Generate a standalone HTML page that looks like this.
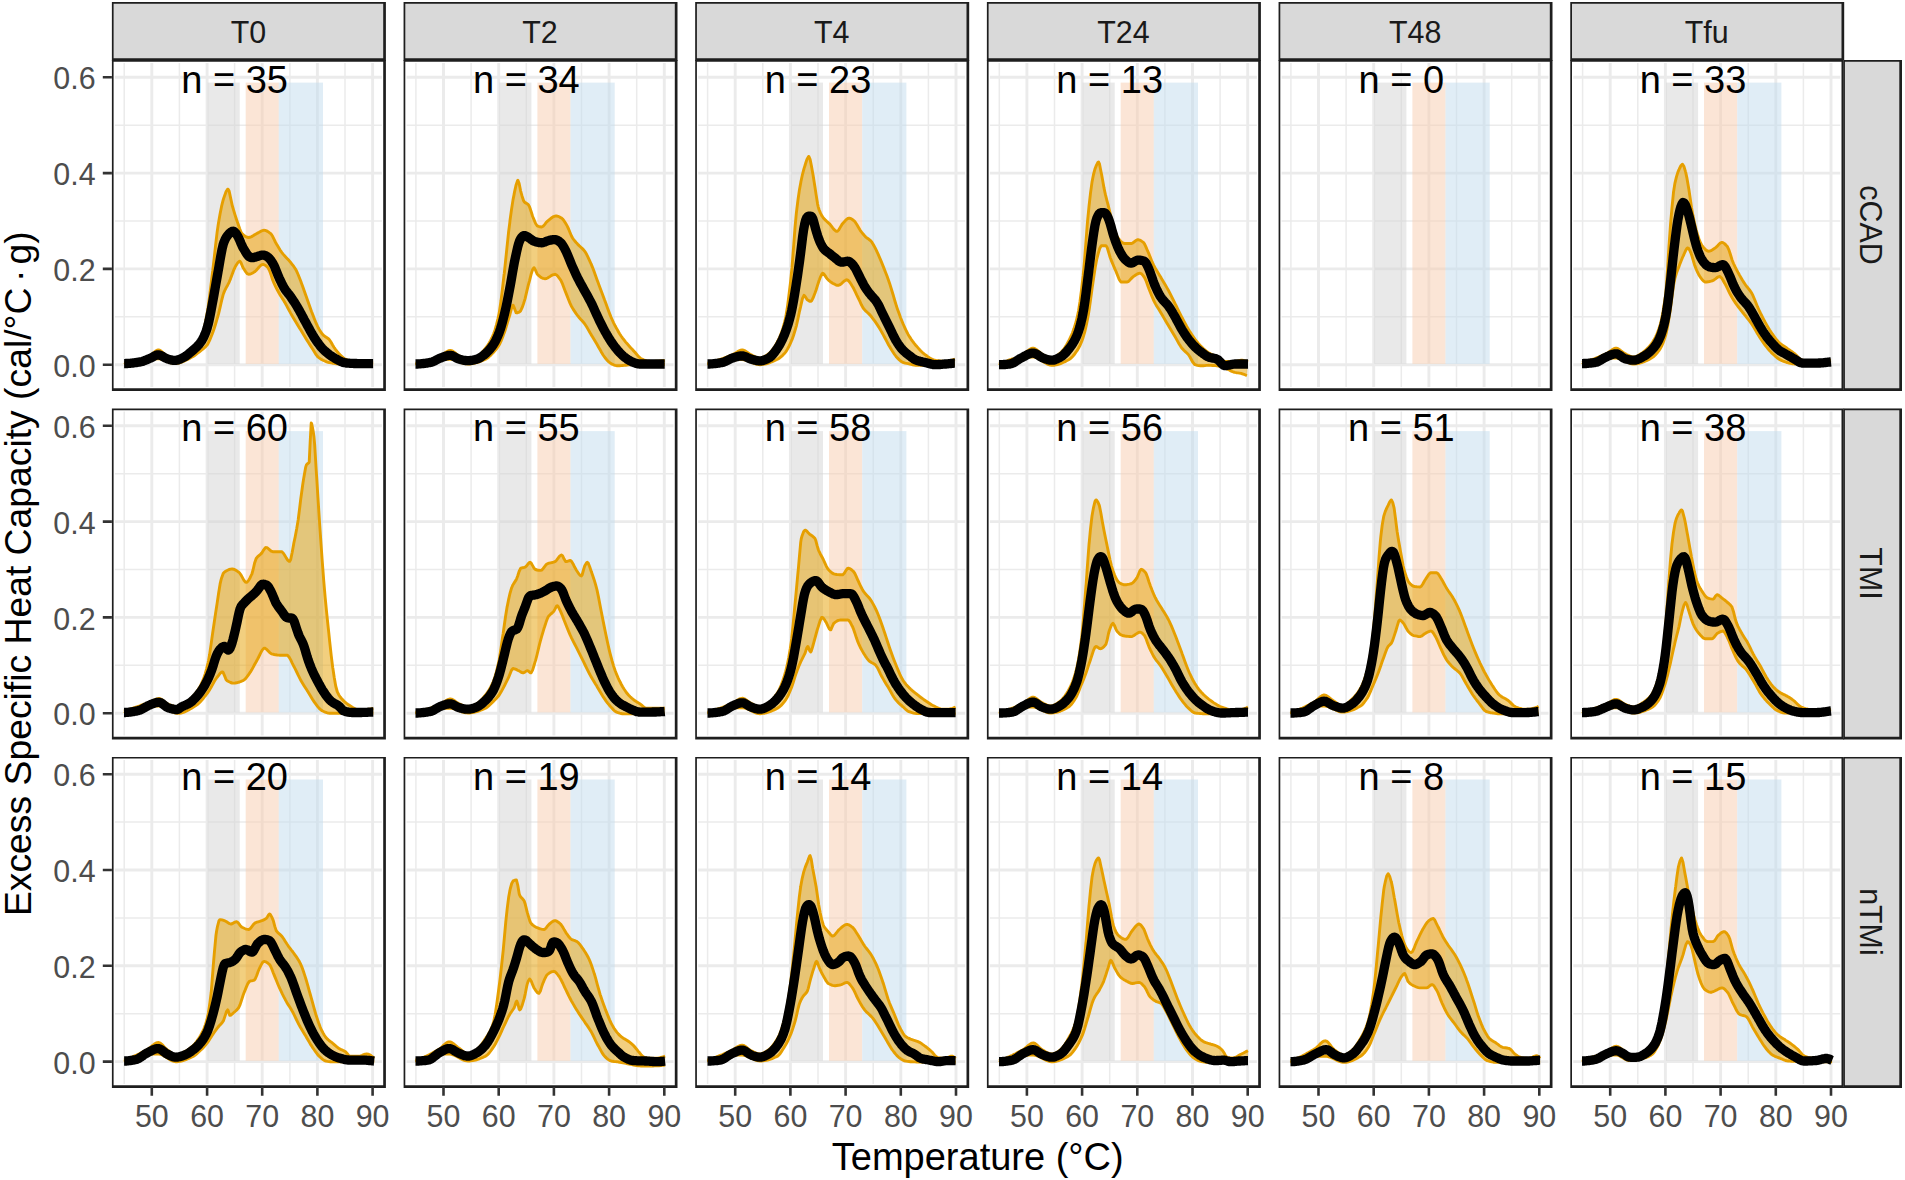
<!DOCTYPE html>
<html lang="en">
<head>
<meta charset="utf-8">
<title>Excess Specific Heat Capacity vs Temperature</title>
<style>html,body{margin:0;padding:0;background:#fff;}svg{display:block;}</style>
</head>
<body>
<svg width="1905" height="1180" viewBox="0 0 1905 1180">
<rect x="0" y="0" width="1905" height="1180" fill="#ffffff"/>
<g>
<path d="M114.9 316.8H381.9M114.9 221H381.9M114.9 125.2H381.9M124.2 63V387M179.4 63V387M234.6 63V387M289.9 63V387M345 63V387" stroke="#EBEBEB" stroke-width="1.5" fill="none"/>
<path d="M114.9 364.7H381.9M114.9 268.9H381.9M114.9 173.1H381.9M114.9 77.3H381.9M151.8 63V387M207.1 63V387M262.2 63V387M317.4 63V387M372.6 63V387" stroke="#EBEBEB" stroke-width="2.9" fill="none"/>
<rect x="207.6" y="82.6" width="32.1" height="281.3" fill="rgba(211,211,211,0.5)"/>
<rect x="245.7" y="82.6" width="33.1" height="281.3" fill="rgba(248,203,173,0.5)"/>
<rect x="278.8" y="82.6" width="44.2" height="281.3" fill="rgba(193,220,238,0.5)"/>
<polygon points="124.1,362.7 125.6,362.7 127.1,362.6 128.6,362.5 130.1,362.3 131.6,362.1 133.1,361.9 134.6,361.6 136.1,361.3 137.6,361 139.1,360.6 140.6,360.3 140.6,360.3 142.1,359.8 143.6,359.2 145.1,358.4 146.6,357.6 148.1,356.7 149.6,355.8 150.6,355.2 151.1,354.8 152.6,353.6 154.1,352.3 155.6,351 157.1,350.2 158.3,349.9 158.6,349.9 160.1,350.4 161.6,351.5 163.1,352.8 164.6,354.1 166.1,355.3 167.1,355.9 167.6,356.1 169.1,356.9 170.6,357.6 172.1,358.2 173.6,358.6 174.8,358.7 175.1,358.7 176.6,358.5 178.1,358 179.6,357.4 181.1,356.6 182.5,355.9 182.6,355.8 184.1,354.9 185.6,353.6 187.1,352.2 188.6,350.8 190.1,349.4 190.2,349.3 191.6,348.1 193.1,346.9 194.6,345.8 196.1,344.5 197.6,343.1 199.1,341.4 200.6,339.3 201.2,338.2 202.1,336.3 203.6,331 205.1,324 206.6,316 207.2,312.9 208.1,307.3 209.6,296.3 211.1,284 212.6,271.7 212.7,271 214.1,258.8 215.6,245.1 217.1,232.4 218.2,224.8 218.6,222.3 220.1,213.7 221.6,206.2 223.1,200.2 223.7,198.3 224.6,195.7 226.1,191.6 227.6,189.2 228.1,189.1 229.1,190.9 230.6,197.9 232.1,204.9 232.1,205 233.6,210.2 235.1,215.1 236.6,219.7 237.6,222.6 238.1,224 239.6,228.5 241.1,232.2 242,233.6 242.6,234.2 244.1,235.5 245.6,236.6 247.1,237.3 248.6,237.5 250.1,237.3 251.6,236.6 253.1,235.8 254.6,234.8 256.1,233.9 256.8,233.6 257.6,233.1 259.1,232.3 260.6,231.4 262.1,230.7 263.6,230.3 264,230.3 265.1,230.4 266.6,230.9 268.1,231.7 269.6,232.8 270.7,233.6 271.1,234 272.6,236.3 274.1,239.4 275.6,242.5 276.2,243.5 277.1,245.1 278.6,247.6 280.1,250.1 281.6,252.2 281.7,252.3 283.1,254.1 284.6,255.8 286.1,257.4 287.6,259 289.1,260.6 290.5,262.2 290.6,262.4 292.1,264.3 293.6,266.2 295.1,268.5 296,269.9 296.6,271.1 298.1,274.5 299.6,278.3 301.1,282 301.1,282.2 302.6,286.2 304.1,290.5 305.6,294.8 306.6,297.5 307.1,299 308.6,303.3 310.1,307.6 311.6,311.7 312.1,312.9 313.1,315.6 314.6,319.5 316.1,323.2 317.6,326.4 318,327.2 319.1,329.2 320.6,331.7 322.1,333.8 323.1,334.9 323.6,335.4 325.1,336.5 326.6,337.5 328.1,338.5 329.1,339.3 329.6,340 331.1,342.3 332.6,345 334.1,347.5 334.6,348.2 335.6,349.6 337.1,351.5 338.6,353.3 340.1,354.8 340.1,354.8 341.6,356.2 343.1,357.6 344.6,358.7 345.6,359.2 346.1,359.4 347.6,360.1 349.1,360.6 350.6,361.1 352.1,361.5 353.6,361.8 354.4,361.8 355.1,361.9 356.6,361.9 358.1,362 359.6,362 361.1,362.1 362.6,362.1 364.1,362.2 365.6,362.2 367.1,362.2 368.6,362.2 370.1,362.3 371.6,362.3 373.1,362.3 373.1,364.5 371.6,364.5 370.1,364.5 368.6,364.5 367.1,364.5 365.6,364.4 364.1,364.4 362.6,364.4 361.1,364.4 359.6,364.4 358.1,364.4 356.6,364.4 355.1,364.3 353.6,364.3 352.1,364.3 350.6,364.3 349.1,364.2 347.6,364.2 346.1,364.2 344.6,364.1 343.1,364.1 341.6,364.1 340.1,364 340.1,364 338.6,364 337.1,363.8 335.6,363.7 334.1,363.4 332.6,363.2 331.1,362.9 329.6,362.6 329.1,362.5 328.1,362.3 326.6,361.8 325.1,361.2 323.6,360.5 323.1,360.3 322.1,359.8 320.6,358.9 319.1,357.9 318,357 317.6,356.6 316.1,354.7 314.6,352.3 313.1,349.8 312.1,348.2 311.6,347.4 310.1,345.1 308.6,342.8 307.1,340.4 305.6,337.9 304.1,335.5 302.6,333.1 301.1,330.6 301.1,330.5 299.6,328.2 298.1,325.7 296.6,323.3 295.1,320.8 293.6,318.3 292.1,315.7 290.6,313.1 290.5,312.9 289.1,310.4 287.6,307.6 286.1,304.7 284.6,302 284.5,301.9 283.1,299.6 281.6,297.3 280.1,294.9 279,293.1 278.6,292.3 277.1,289.5 275.6,286.6 274.1,283.4 273.5,282 272.6,279.7 271.1,275.1 269.6,270.8 268.1,267.8 268,267.7 266.6,266.4 265.1,265.2 263.6,264.5 262.9,264.4 262.1,264.6 260.6,265.5 259.1,267 257.6,268.8 256.1,270.5 254.6,271.8 254.1,272.1 253.1,272.7 251.6,273.5 250.1,274.1 248.6,274.3 247.1,273.6 245.6,271.7 244.1,269.3 243.1,267.7 242.6,266.8 241.1,262.9 239.8,261.1 239.6,261.1 238.1,262.3 236.6,264.5 235.4,266.6 235.1,267.1 233.6,270.4 232.1,274.4 230.6,278.6 229.2,282 229.1,282.3 227.6,285.2 226.1,287.9 224.6,290.9 223.7,293.1 223.1,294.9 221.6,300.6 220.1,307.3 218.6,313.6 218.2,315.1 217.1,318.9 215.6,324 214.1,328.8 212.7,332.7 212.6,332.9 211.1,336.8 209.6,340.4 208.1,343.4 207.2,344.9 206.6,345.6 205.1,347.2 203.6,348.5 202.1,349.7 201.2,350.4 200.6,350.9 199.1,352.1 197.6,353.2 196.1,354.4 194.6,355.5 193.1,356.5 191.6,357.3 190.2,358.1 190.1,358.1 188.6,358.9 187.1,359.6 185.6,360.3 184.1,361.1 182.6,361.7 181.1,362.3 179.6,362.8 178.1,363.2 176.6,363.5 175.1,363.6 174.8,363.6 173.6,363.5 172.1,363.2 170.6,362.8 169.1,362.3 167.6,361.6 166.1,361 164.6,360.3 163.1,359.7 161.6,359.3 160.1,358.9 158.6,358.7 158.3,358.7 157.1,358.7 155.6,358.7 154.1,358.8 152.6,358.8 151.1,358.8 149.6,358.9 148.1,358.9 146.6,359 145.1,359.1 143.6,359.3 142.1,359.4 140.6,359.6 139.1,359.9 137.6,360.1 136.1,360.4 134.6,360.8 133.1,361.1 131.6,361.6 130.1,362 128.6,362.6 127.1,363.1 125.6,363.8 124.1,364.5" fill="#E69F00" fill-opacity="0.5" stroke="none"/>
<polyline points="124.1,362.7 125.6,362.7 127.1,362.6 128.6,362.5 130.1,362.3 131.6,362.1 133.1,361.9 134.6,361.6 136.1,361.3 137.6,361 139.1,360.6 140.6,360.3 140.6,360.3 142.1,359.8 143.6,359.2 145.1,358.4 146.6,357.6 148.1,356.7 149.6,355.8 150.6,355.2 151.1,354.8 152.6,353.6 154.1,352.3 155.6,351 157.1,350.2 158.3,349.9 158.6,349.9 160.1,350.4 161.6,351.5 163.1,352.8 164.6,354.1 166.1,355.3 167.1,355.9 167.6,356.1 169.1,356.9 170.6,357.6 172.1,358.2 173.6,358.6 174.8,358.7 175.1,358.7 176.6,358.5 178.1,358 179.6,357.4 181.1,356.6 182.5,355.9 182.6,355.8 184.1,354.9 185.6,353.6 187.1,352.2 188.6,350.8 190.1,349.4 190.2,349.3 191.6,348.1 193.1,346.9 194.6,345.8 196.1,344.5 197.6,343.1 199.1,341.4 200.6,339.3 201.2,338.2 202.1,336.3 203.6,331 205.1,324 206.6,316 207.2,312.9 208.1,307.3 209.6,296.3 211.1,284 212.6,271.7 212.7,271 214.1,258.8 215.6,245.1 217.1,232.4 218.2,224.8 218.6,222.3 220.1,213.7 221.6,206.2 223.1,200.2 223.7,198.3 224.6,195.7 226.1,191.6 227.6,189.2 228.1,189.1 229.1,190.9 230.6,197.9 232.1,204.9 232.1,205 233.6,210.2 235.1,215.1 236.6,219.7 237.6,222.6 238.1,224 239.6,228.5 241.1,232.2 242,233.6 242.6,234.2 244.1,235.5 245.6,236.6 247.1,237.3 248.6,237.5 250.1,237.3 251.6,236.6 253.1,235.8 254.6,234.8 256.1,233.9 256.8,233.6 257.6,233.1 259.1,232.3 260.6,231.4 262.1,230.7 263.6,230.3 264,230.3 265.1,230.4 266.6,230.9 268.1,231.7 269.6,232.8 270.7,233.6 271.1,234 272.6,236.3 274.1,239.4 275.6,242.5 276.2,243.5 277.1,245.1 278.6,247.6 280.1,250.1 281.6,252.2 281.7,252.3 283.1,254.1 284.6,255.8 286.1,257.4 287.6,259 289.1,260.6 290.5,262.2 290.6,262.4 292.1,264.3 293.6,266.2 295.1,268.5 296,269.9 296.6,271.1 298.1,274.5 299.6,278.3 301.1,282 301.1,282.2 302.6,286.2 304.1,290.5 305.6,294.8 306.6,297.5 307.1,299 308.6,303.3 310.1,307.6 311.6,311.7 312.1,312.9 313.1,315.6 314.6,319.5 316.1,323.2 317.6,326.4 318,327.2 319.1,329.2 320.6,331.7 322.1,333.8 323.1,334.9 323.6,335.4 325.1,336.5 326.6,337.5 328.1,338.5 329.1,339.3 329.6,340 331.1,342.3 332.6,345 334.1,347.5 334.6,348.2 335.6,349.6 337.1,351.5 338.6,353.3 340.1,354.8 340.1,354.8 341.6,356.2 343.1,357.6 344.6,358.7 345.6,359.2 346.1,359.4 347.6,360.1 349.1,360.6 350.6,361.1 352.1,361.5 353.6,361.8 354.4,361.8 355.1,361.9 356.6,361.9 358.1,362 359.6,362 361.1,362.1 362.6,362.1 364.1,362.2 365.6,362.2 367.1,362.2 368.6,362.2 370.1,362.3 371.6,362.3 373.1,362.3" fill="none" stroke="#E69F00" stroke-width="2.9" stroke-linejoin="round"/>
<polyline points="124.1,364.5 125.6,363.8 127.1,363.1 128.6,362.6 130.1,362 131.6,361.6 133.1,361.1 134.6,360.8 136.1,360.4 137.6,360.1 139.1,359.9 140.6,359.6 142.1,359.4 143.6,359.3 145.1,359.1 146.6,359 148.1,358.9 149.6,358.9 151.1,358.8 152.6,358.8 154.1,358.8 155.6,358.7 157.1,358.7 158.3,358.7 158.6,358.7 160.1,358.9 161.6,359.3 163.1,359.7 164.6,360.3 166.1,361 167.6,361.6 169.1,362.3 170.6,362.8 172.1,363.2 173.6,363.5 174.8,363.6 175.1,363.6 176.6,363.5 178.1,363.2 179.6,362.8 181.1,362.3 182.6,361.7 184.1,361.1 185.6,360.3 187.1,359.6 188.6,358.9 190.1,358.1 190.2,358.1 191.6,357.3 193.1,356.5 194.6,355.5 196.1,354.4 197.6,353.2 199.1,352.1 200.6,350.9 201.2,350.4 202.1,349.7 203.6,348.5 205.1,347.2 206.6,345.6 207.2,344.9 208.1,343.4 209.6,340.4 211.1,336.8 212.6,332.9 212.7,332.7 214.1,328.8 215.6,324 217.1,318.9 218.2,315.1 218.6,313.6 220.1,307.3 221.6,300.6 223.1,294.9 223.7,293.1 224.6,290.9 226.1,287.9 227.6,285.2 229.1,282.3 229.2,282 230.6,278.6 232.1,274.4 233.6,270.4 235.1,267.1 235.4,266.6 236.6,264.5 238.1,262.3 239.6,261.1 239.8,261.1 241.1,262.9 242.6,266.8 243.1,267.7 244.1,269.3 245.6,271.7 247.1,273.6 248.6,274.3 250.1,274.1 251.6,273.5 253.1,272.7 254.1,272.1 254.6,271.8 256.1,270.5 257.6,268.8 259.1,267 260.6,265.5 262.1,264.6 262.9,264.4 263.6,264.5 265.1,265.2 266.6,266.4 268,267.7 268.1,267.8 269.6,270.8 271.1,275.1 272.6,279.7 273.5,282 274.1,283.4 275.6,286.6 277.1,289.5 278.6,292.3 279,293.1 280.1,294.9 281.6,297.3 283.1,299.6 284.5,301.9 284.6,302 286.1,304.7 287.6,307.6 289.1,310.4 290.5,312.9 290.6,313.1 292.1,315.7 293.6,318.3 295.1,320.8 296.6,323.3 298.1,325.7 299.6,328.2 301.1,330.5 301.1,330.6 302.6,333.1 304.1,335.5 305.6,337.9 307.1,340.4 308.6,342.8 310.1,345.1 311.6,347.4 312.1,348.2 313.1,349.8 314.6,352.3 316.1,354.7 317.6,356.6 318,357 319.1,357.9 320.6,358.9 322.1,359.8 323.1,360.3 323.6,360.5 325.1,361.2 326.6,361.8 328.1,362.3 329.1,362.5 329.6,362.6 331.1,362.9 332.6,363.2 334.1,363.4 335.6,363.7 337.1,363.8 338.6,364 340.1,364 340.1,364 341.6,364.1 343.1,364.1 344.6,364.1 346.1,364.2 347.6,364.2 349.1,364.2 350.6,364.3 352.1,364.3 353.6,364.3 355.1,364.3 356.6,364.4 358.1,364.4 359.6,364.4 361.1,364.4 362.6,364.4 364.1,364.4 365.6,364.4 367.1,364.5 368.6,364.5 370.1,364.5 371.6,364.5 373.1,364.5" fill="none" stroke="#E69F00" stroke-width="2.9" stroke-linejoin="round"/>
<polyline points="124.1,363.6 125.1,363.6 126.1,363.5 127.1,363.5 128.1,363.4 129.1,363.4 130.1,363.3 131.1,363.2 132.1,363.1 133.1,363 134.1,362.8 135.1,362.7 136.1,362.6 137.1,362.4 138.1,362.2 139.1,362.1 140.1,361.9 141.1,361.7 142.1,361.5 143.1,361.2 144.1,360.8 145.1,360.4 146.1,360 147.1,359.6 148.1,359.1 149.1,358.7 150.1,358.3 151.1,357.8 152.1,357.3 153.1,356.8 154.1,356.2 155.1,355.7 156.1,355.3 157.1,355 158.1,354.9 159.1,354.9 160.1,355.2 161.1,355.6 162.1,356.1 163.1,356.7 164.1,357.3 165.1,357.8 166.1,358.3 167.1,358.7 168.1,359.1 169.1,359.4 170.1,359.7 171.1,359.9 172.1,360.2 173.1,360.3 174.1,360.4 175.1,360.4 176.1,360.3 177.1,360.1 178.1,359.9 179.1,359.5 180.1,359.1 181.1,358.7 182.1,358.2 183.1,357.7 184.1,357.2 185.1,356.6 186.1,355.9 187.1,355.1 188.1,354.3 189.1,353.5 190.1,352.7 191.1,351.8 192.1,351 193.1,350.2 194.1,349.3 195.1,348.4 196.1,347.5 197.1,346.5 198.1,345.4 199.1,344.3 200.1,343 201.1,341.6 202.1,340.1 203.1,338.3 204.1,336.2 205.1,333.9 206.1,331.3 207.1,328.2 208.1,324.6 209.1,320.4 210.1,315.5 211.1,310.3 212.1,305 213.1,299.6 214.1,294.1 215.1,288.5 216.1,282.8 217.1,277.1 218.1,271.5 219.1,265.7 220.1,259.8 221.1,254.1 222.1,249 223.1,244.8 224.1,241.8 225.1,239.5 226.1,237.6 227.1,236.1 228.1,234.8 229.1,233.7 230.1,232.8 231.1,232 232.1,231.4 233.1,231.2 234.1,231.5 235.1,232.4 236.1,233.6 237.1,235.1 238.1,236.8 239.1,238.9 240.1,241.2 241.1,243.6 242.1,245.8 243.1,247.8 244.1,249.5 245.1,251.2 246.1,252.8 247.1,254.3 248.1,255.6 249.1,256.6 250.1,257.3 251.1,257.6 252.1,257.7 253.1,257.6 254.1,257.4 255.1,257.1 256.1,256.9 257.1,256.6 258.1,256.3 259.1,255.9 260.1,255.6 261.1,255.3 262.1,255.1 263.1,255.1 264.1,255.2 265.1,255.5 266.1,256 267.1,256.6 268.1,257.3 269.1,258.2 270.1,259.3 271.1,260.6 272.1,262.2 273.1,263.8 274.1,265.7 275.1,267.9 276.1,270.4 277.1,272.9 278.1,275.4 279.1,277.8 280.1,280 281.1,282.1 282.1,284.2 283.1,286.1 284.1,287.9 285.1,289.5 286.1,290.9 287.1,292.1 288.1,293.4 289.1,294.6 290.1,295.9 291.1,297.3 292.1,298.8 293.1,300.3 294.1,301.8 295.1,303.4 296.1,305 297.1,306.7 298.1,308.4 299.1,310.1 300.1,311.9 301.1,313.7 302.1,315.6 303.1,317.5 304.1,319.4 305.1,321.2 306.1,323.1 307.1,324.9 308.1,326.7 309.1,328.6 310.1,330.4 311.1,332.2 312.1,334 313.1,335.6 314.1,337.3 315.1,338.8 316.1,340.3 317.1,341.8 318.1,343.2 319.1,344.5 320.1,345.8 321.1,347.1 322.1,348.2 323.1,349.2 324.1,350.2 325.1,351.2 326.1,352 327.1,352.9 328.1,353.7 329.1,354.5 330.1,355.2 331.1,355.9 332.1,356.6 333.1,357.2 334.1,357.8 335.1,358.4 336.1,359 337.1,359.5 338.1,360.1 339.1,360.6 340.1,361.1 341.1,361.6 342.1,362 343.1,362.4 344.1,362.6 345.1,362.8 346.1,363 347.1,363.1 348.1,363.1 349.1,363.2 350.1,363.3 351.1,363.3 352.1,363.4 353.1,363.4 354.1,363.5 355.1,363.5 356.1,363.5 357.1,363.6 358.1,363.6 359.1,363.6 360.1,363.6 361.1,363.6 362.1,363.6 363.1,363.6 364.1,363.6 365.1,363.6 366.1,363.6 367.1,363.6 368.1,363.6 369.1,363.6 370.1,363.6 371.1,363.6 372.1,363.6 373.1,363.6" fill="none" stroke="#000000" stroke-width="9.3" stroke-linejoin="round"/>
<text transform="translate(234.6,92.9) scale(1,1.04)" font-family="'Liberation Sans', Arial, sans-serif" font-size="38" text-anchor="middle" fill="#000000">n = 35</text>
<path d="M111.9 60h1.7v331h-1.7zM111.9 60h273.9v1.7h-273.9zM383.2 60h2.7v331h-2.7zM111.9 388.3h273.9v2.7h-273.9z" fill="#1e1e1e"/>
</g>
<g>
<path d="M406.6 316.8H673.5M406.6 221H673.5M406.6 125.2H673.5M415.9 63V387M471.1 63V387M526.3 63V387M581.5 63V387M636.7 63V387" stroke="#EBEBEB" stroke-width="1.5" fill="none"/>
<path d="M406.6 364.7H673.5M406.6 268.9H673.5M406.6 173.1H673.5M406.6 77.3H673.5M443.5 63V387M498.7 63V387M553.9 63V387M609.1 63V387M664.3 63V387" stroke="#EBEBEB" stroke-width="2.9" fill="none"/>
<rect x="499.3" y="82.6" width="32.1" height="281.3" fill="rgba(211,211,211,0.5)"/>
<rect x="537.4" y="82.6" width="33.1" height="281.3" fill="rgba(248,203,173,0.5)"/>
<rect x="570.5" y="82.6" width="44.2" height="281.3" fill="rgba(193,220,238,0.5)"/>
<polygon points="415.5,363.1 417,363 418.5,362.7 420,362.5 421.5,362.2 423,361.8 424.5,361.4 426,361 427.5,360.6 429,360.1 430.5,359.6 432,359.1 433.5,358.5 435,358 436.5,357.4 438,356.8 439.5,356.2 440.4,355.9 441,355.6 442.5,354.7 444,353.6 445.5,352.5 447,351.5 448.5,350.7 450,350.4 450.3,350.4 451.5,350.6 453,351.3 454.5,352.4 456,353.7 457.5,354.9 459,355.8 459.1,355.9 460.5,356.6 462,357.3 463.5,358 465,358.6 466.5,359 467.9,359.2 468,359.2 469.5,359.1 471,358.8 472.5,358.5 474,358 475.5,357.4 476.7,357 477,356.8 478.5,355.9 480,354.7 481.5,353.1 483,351.3 484.5,349.4 485.5,348.2 486,347.5 487.5,345.5 489,343.2 490.5,340.6 492,337.7 493.2,334.9 493.5,334.2 495,330 496.5,324.7 498,318.5 499.2,312.9 499.5,311.1 501,300.8 502.5,288.3 504,275.1 504.3,273.2 505.5,261.7 507,247.1 508.5,232.8 509.8,222.6 510,220.5 511.5,209.6 513,199.9 514.2,193.9 514.5,192.1 516.1,184.9 517.6,180.5 517.9,180.2 519.1,183.2 520.6,190.8 520.8,191.7 522.1,196.2 523.6,200.7 524.1,201.6 525.1,202.6 526.6,203.4 528.1,204.5 528.5,204.9 529.6,207 531.1,211.5 532.6,216.2 532.9,217 534.1,219.9 535.6,223.5 537.1,225.7 537.3,225.9 538.6,226.4 540.1,226.8 541.6,227 541.7,227 543.1,226.3 544.6,224.6 546.1,222.6 547.2,221.4 547.6,221.2 549.1,219.9 550.6,218.7 552.1,217.5 553.6,216.6 555.1,216.1 556,215.9 556.6,216 558.1,216.3 559.6,217 561.1,217.9 561.6,218.1 562.6,219 564.1,220.9 565.6,223.3 567.1,225.9 567.1,225.9 568.6,229 570.1,232.7 571.6,236.2 572.6,238 573.1,238.8 574.6,240.7 576.1,242.5 577.6,244.1 578.1,244.6 579.1,245.6 580.6,247 582.1,248.4 583.6,249.9 584.7,251.2 585.1,251.8 586.6,254.3 588.1,257.3 589.6,260.6 591.1,264 591.3,264.4 592.6,267.6 594.1,271.6 595.6,275.7 597.1,279.9 597.9,282 598.6,283.9 600.1,287.9 601.6,291.9 603.1,296 604.5,299.7 604.6,300 606.1,304.1 607.6,308.3 609.1,312.3 610.6,316.1 611.1,317.3 612.1,319.5 613.6,322.8 615.1,325.8 616.6,328.6 617.8,330.5 618.1,331.2 619.6,333.7 621.1,336 622.6,338.1 624.2,340.2 624.4,340.4 625.7,342.1 627.2,343.8 628.7,345.5 630.2,347.2 631.7,348.8 633.2,350.3 633.2,350.4 634.7,352 636.2,353.8 637.7,355.6 639.2,357.2 640.7,358.4 642,359.2 642.2,359.2 643.7,359.8 645.2,360.3 646.7,360.8 648.2,361.1 649.7,361.3 650.8,361.4 651.2,361.4 652.7,361.4 654.2,361.4 655.7,361.3 657.2,361.3 658.7,361.2 660.2,361 661.7,360.8 663.2,360.6 664.7,360.3 664.7,364.5 663.2,364.5 661.7,364.5 660.2,364.5 658.7,364.5 657.2,364.5 655.7,364.5 654.2,364.5 652.7,364.5 651.2,364.5 649.7,364.5 648.2,364.5 646.7,364.5 645.2,364.5 643.7,364.5 642.2,364.5 640.7,364.5 639.2,364.5 637.7,364.5 636.2,364.5 634.7,364.5 633.2,364.5 633.2,364.5 631.7,364.5 630.2,364.7 628.7,364.8 627.2,365 625.7,365.2 624.4,365.3 624.2,365.4 622.6,365.5 621.1,365.6 619.6,365.7 618.1,365.8 617.8,365.8 616.6,365.7 615.1,365.3 613.6,364.8 612.1,364.1 611.1,363.6 610.6,363.3 609.1,362.2 607.6,360.7 606.1,359 604.6,357.1 604.5,357 603.1,355 601.6,352.5 600.1,349.8 598.6,347.2 597.9,346 597.1,344.6 595.6,342.1 594.1,339.6 592.6,337.1 591.3,334.9 591.1,334.6 589.6,332 588.1,329.4 586.6,326.8 585.1,324.5 584.7,323.9 583.6,322.5 582.1,320.8 580.6,319.2 579.1,317.5 578.1,316.2 577.6,315.6 576.1,313.6 574.6,311.4 573.1,309.1 571.6,306.5 571.5,306.3 570.1,303.4 568.6,299.7 567.1,295.9 566,293.1 565.6,292.2 564.1,288.2 562.6,284.2 561.1,280.9 560.5,279.8 559.6,278.6 558.1,276.6 556.6,275 555.1,274.3 554.9,274.3 553.6,274.6 552.1,275.2 550.6,276.1 549.1,277.1 547.6,278 546.1,278.6 545,278.7 544.6,278.7 543.1,278.4 541.6,277.7 540.1,276.7 538.6,275.5 537.3,274.3 537.1,274 535.6,270.4 534.1,267.7 534,267.7 532.6,269.6 531.1,274.3 529.6,280.3 528.5,284.3 528.1,285.9 526.6,292.2 525.1,298.6 524.1,301.9 523.6,303.5 522.1,307.7 520.6,310.9 519.7,311.8 519.1,312.1 517.6,312.7 516.4,312.9 516.1,312.7 514.5,308.4 513.1,305.2 513,305.2 511.5,308.4 510,314.2 509.8,315.1 508.5,319.1 507,324.1 505.5,329 504.3,332.7 504,333.3 502.5,337.4 501,341.1 499.5,344.3 499.2,344.9 498,346.7 496.5,348.8 495,350.6 493.5,352.3 493.2,352.6 492,353.8 490.5,355.4 489,356.8 487.5,358 486,358.9 485.5,359.2 484.5,359.6 483,360.3 481.5,360.9 480,361.5 478.5,362 477,362.5 475.5,362.9 474,363.3 472.5,363.6 471,363.8 469.5,364 468,364 467.9,364 466.5,363.9 465,363.7 463.5,363.3 462,362.8 460.5,362.2 459,361.6 457.5,360.9 456,360.4 454.5,359.9 453,359.5 451.5,359.2 450.3,359.2 450,359.2 448.5,359.2 447,359.2 445.5,359.2 444,359.2 442.5,359.3 441,359.4 439.5,359.4 438,359.5 436.5,359.7 435,359.8 433.5,360 432,360.2 430.5,360.4 429,360.7 427.5,361 426,361.3 424.5,361.7 423,362.1 421.5,362.6 420,363.1 418.5,363.6 417,364.2 415.5,364.9" fill="#E69F00" fill-opacity="0.5" stroke="none"/>
<polyline points="415.5,363.1 417,363 418.5,362.7 420,362.5 421.5,362.2 423,361.8 424.5,361.4 426,361 427.5,360.6 429,360.1 430.5,359.6 432,359.1 433.5,358.5 435,358 436.5,357.4 438,356.8 439.5,356.2 440.4,355.9 441,355.6 442.5,354.7 444,353.6 445.5,352.5 447,351.5 448.5,350.7 450,350.4 450.3,350.4 451.5,350.6 453,351.3 454.5,352.4 456,353.7 457.5,354.9 459,355.8 459.1,355.9 460.5,356.6 462,357.3 463.5,358 465,358.6 466.5,359 467.9,359.2 468,359.2 469.5,359.1 471,358.8 472.5,358.5 474,358 475.5,357.4 476.7,357 477,356.8 478.5,355.9 480,354.7 481.5,353.1 483,351.3 484.5,349.4 485.5,348.2 486,347.5 487.5,345.5 489,343.2 490.5,340.6 492,337.7 493.2,334.9 493.5,334.2 495,330 496.5,324.7 498,318.5 499.2,312.9 499.5,311.1 501,300.8 502.5,288.3 504,275.1 504.3,273.2 505.5,261.7 507,247.1 508.5,232.8 509.8,222.6 510,220.5 511.5,209.6 513,199.9 514.2,193.9 514.5,192.1 516.1,184.9 517.6,180.5 517.9,180.2 519.1,183.2 520.6,190.8 520.8,191.7 522.1,196.2 523.6,200.7 524.1,201.6 525.1,202.6 526.6,203.4 528.1,204.5 528.5,204.9 529.6,207 531.1,211.5 532.6,216.2 532.9,217 534.1,219.9 535.6,223.5 537.1,225.7 537.3,225.9 538.6,226.4 540.1,226.8 541.6,227 541.7,227 543.1,226.3 544.6,224.6 546.1,222.6 547.2,221.4 547.6,221.2 549.1,219.9 550.6,218.7 552.1,217.5 553.6,216.6 555.1,216.1 556,215.9 556.6,216 558.1,216.3 559.6,217 561.1,217.9 561.6,218.1 562.6,219 564.1,220.9 565.6,223.3 567.1,225.9 567.1,225.9 568.6,229 570.1,232.7 571.6,236.2 572.6,238 573.1,238.8 574.6,240.7 576.1,242.5 577.6,244.1 578.1,244.6 579.1,245.6 580.6,247 582.1,248.4 583.6,249.9 584.7,251.2 585.1,251.8 586.6,254.3 588.1,257.3 589.6,260.6 591.1,264 591.3,264.4 592.6,267.6 594.1,271.6 595.6,275.7 597.1,279.9 597.9,282 598.6,283.9 600.1,287.9 601.6,291.9 603.1,296 604.5,299.7 604.6,300 606.1,304.1 607.6,308.3 609.1,312.3 610.6,316.1 611.1,317.3 612.1,319.5 613.6,322.8 615.1,325.8 616.6,328.6 617.8,330.5 618.1,331.2 619.6,333.7 621.1,336 622.6,338.1 624.2,340.2 624.4,340.4 625.7,342.1 627.2,343.8 628.7,345.5 630.2,347.2 631.7,348.8 633.2,350.3 633.2,350.4 634.7,352 636.2,353.8 637.7,355.6 639.2,357.2 640.7,358.4 642,359.2 642.2,359.2 643.7,359.8 645.2,360.3 646.7,360.8 648.2,361.1 649.7,361.3 650.8,361.4 651.2,361.4 652.7,361.4 654.2,361.4 655.7,361.3 657.2,361.3 658.7,361.2 660.2,361 661.7,360.8 663.2,360.6 664.7,360.3" fill="none" stroke="#E69F00" stroke-width="2.9" stroke-linejoin="round"/>
<polyline points="415.5,364.9 417,364.2 418.5,363.6 420,363.1 421.5,362.6 423,362.1 424.5,361.7 426,361.3 427.5,361 429,360.7 430.5,360.4 432,360.2 433.5,360 435,359.8 436.5,359.7 438,359.5 439.5,359.4 441,359.4 442.5,359.3 444,359.2 445.5,359.2 447,359.2 448.5,359.2 450,359.2 450.3,359.2 451.5,359.2 453,359.5 454.5,359.9 456,360.4 457.5,360.9 459,361.6 460.5,362.2 462,362.8 463.5,363.3 465,363.7 466.5,363.9 467.9,364 468,364 469.5,364 471,363.8 472.5,363.6 474,363.3 475.5,362.9 477,362.5 478.5,362 480,361.5 481.5,360.9 483,360.3 484.5,359.6 485.5,359.2 486,358.9 487.5,358 489,356.8 490.5,355.4 492,353.8 493.2,352.6 493.5,352.3 495,350.6 496.5,348.8 498,346.7 499.2,344.9 499.5,344.3 501,341.1 502.5,337.4 504,333.3 504.3,332.7 505.5,329 507,324.1 508.5,319.1 509.8,315.1 510,314.2 511.5,308.4 513,305.2 513.1,305.2 514.5,308.4 516.1,312.7 516.4,312.9 517.6,312.7 519.1,312.1 519.7,311.8 520.6,310.9 522.1,307.7 523.6,303.5 524.1,301.9 525.1,298.6 526.6,292.2 528.1,285.9 528.5,284.3 529.6,280.3 531.1,274.3 532.6,269.6 534,267.7 534.1,267.7 535.6,270.4 537.1,274 537.3,274.3 538.6,275.5 540.1,276.7 541.6,277.7 543.1,278.4 544.6,278.7 545,278.7 546.1,278.6 547.6,278 549.1,277.1 550.6,276.1 552.1,275.2 553.6,274.6 554.9,274.3 555.1,274.3 556.6,275 558.1,276.6 559.6,278.6 560.5,279.8 561.1,280.9 562.6,284.2 564.1,288.2 565.6,292.2 566,293.1 567.1,295.9 568.6,299.7 570.1,303.4 571.5,306.3 571.6,306.5 573.1,309.1 574.6,311.4 576.1,313.6 577.6,315.6 578.1,316.2 579.1,317.5 580.6,319.2 582.1,320.8 583.6,322.5 584.7,323.9 585.1,324.5 586.6,326.8 588.1,329.4 589.6,332 591.1,334.6 591.3,334.9 592.6,337.1 594.1,339.6 595.6,342.1 597.1,344.6 597.9,346 598.6,347.2 600.1,349.8 601.6,352.5 603.1,355 604.5,357 604.6,357.1 606.1,359 607.6,360.7 609.1,362.2 610.6,363.3 611.1,363.6 612.1,364.1 613.6,364.8 615.1,365.3 616.6,365.7 617.8,365.8 618.1,365.8 619.6,365.7 621.1,365.6 622.6,365.5 624.2,365.4 624.4,365.3 625.7,365.2 627.2,365 628.7,364.8 630.2,364.7 631.7,364.5 633.2,364.5 633.2,364.5 634.7,364.5 636.2,364.5 637.7,364.5 639.2,364.5 640.7,364.5 642.2,364.5 643.7,364.5 645.2,364.5 646.7,364.5 648.2,364.5 649.7,364.5 651.2,364.5 652.7,364.5 654.2,364.5 655.7,364.5 657.2,364.5 658.7,364.5 660.2,364.5 661.7,364.5 663.2,364.5 664.7,364.5" fill="none" stroke="#E69F00" stroke-width="2.9" stroke-linejoin="round"/>
<polyline points="415.5,364 416.5,364 417.5,364 418.5,363.9 419.5,363.9 420.5,363.8 421.5,363.7 422.5,363.6 423.5,363.5 424.5,363.4 425.5,363.3 426.5,363.1 427.5,363 428.5,362.8 429.5,362.6 430.5,362.4 431.5,362.2 432.5,361.9 433.5,361.4 434.5,361 435.5,360.4 436.5,359.9 437.5,359.4 438.5,358.9 439.5,358.4 440.5,358 441.5,357.7 442.5,357.3 443.5,356.9 444.5,356.5 445.5,356.2 446.5,355.9 447.5,355.6 448.5,355.4 449.5,355.3 450.5,355.3 451.5,355.5 452.5,355.8 453.5,356.3 454.5,356.8 455.5,357.4 456.5,358 457.5,358.5 458.5,358.9 459.5,359.3 460.5,359.5 461.5,359.8 462.5,360 463.5,360.2 464.5,360.4 465.5,360.5 466.5,360.6 467.5,360.7 468.5,360.7 469.5,360.6 470.5,360.5 471.5,360.4 472.5,360.2 473.5,360 474.5,359.7 475.5,359.5 476.5,359.2 477.5,358.9 478.5,358.5 479.5,358 480.5,357.4 481.5,356.7 482.5,356 483.5,355.3 484.5,354.5 485.5,353.7 486.5,352.8 487.5,351.8 488.5,350.8 489.5,349.7 490.5,348.5 491.5,347.2 492.5,345.8 493.5,344.3 494.5,342.7 495.5,340.9 496.5,338.9 497.5,336.7 498.5,334.3 499.5,331.6 500.5,328.7 501.5,325.4 502.5,321.7 503.5,317.9 504.5,313.8 505.5,309.5 506.5,304.9 507.5,300 508.5,294.9 509.5,289.7 510.5,284.3 511.5,278.6 512.5,272.8 513.5,267.1 514.5,261.7 515.6,256.6 516.6,251.9 517.6,247.4 518.6,243.7 519.6,240.9 520.6,238.9 521.6,237.4 522.6,236.3 523.6,235.7 524.6,235.6 525.6,235.8 526.6,236.3 527.6,236.9 528.6,237.6 529.6,238.3 530.6,239 531.6,239.8 532.6,240.5 533.6,241 534.6,241.4 535.6,241.7 536.6,242 537.6,242.3 538.6,242.5 539.6,242.6 540.6,242.7 541.6,242.8 542.6,242.7 543.6,242.4 544.6,242.1 545.6,241.7 546.6,241.2 547.6,240.9 548.6,240.6 549.6,240.3 550.6,240.1 551.6,239.9 552.6,239.7 553.6,239.6 554.6,239.6 555.6,239.7 556.6,240 557.6,240.4 558.6,241 559.6,241.8 560.6,242.6 561.6,243.7 562.6,245.1 563.6,246.8 564.6,248.6 565.6,250.5 566.6,252.6 567.6,254.9 568.6,257.3 569.6,259.8 570.6,262.3 571.6,264.7 572.6,267 573.6,269.2 574.6,271.4 575.6,273.6 576.6,275.7 577.6,277.8 578.6,279.7 579.6,281.6 580.6,283.5 581.6,285.3 582.6,287.1 583.6,288.9 584.6,290.7 585.6,292.5 586.6,294.3 587.6,296.1 588.6,297.9 589.6,299.8 590.6,301.7 591.6,303.7 592.6,305.7 593.6,307.9 594.6,310.1 595.6,312.3 596.6,314.5 597.6,316.7 598.6,318.8 599.6,320.9 600.6,322.9 601.6,324.9 602.6,326.9 603.6,328.8 604.6,330.7 605.6,332.5 606.6,334.2 607.6,336 608.6,337.6 609.6,339.2 610.6,340.8 611.6,342.3 612.6,343.7 613.6,345.1 614.6,346.5 615.6,347.8 616.6,349 617.6,350.2 618.6,351.4 619.6,352.5 620.6,353.5 621.6,354.5 622.6,355.5 623.6,356.4 624.7,357.2 625.7,358 626.7,358.7 627.7,359.5 628.7,360.1 629.7,360.7 630.7,361.2 631.7,361.7 632.7,362.1 633.7,362.5 634.7,362.9 635.7,363.2 636.7,363.5 637.7,363.8 638.7,363.9 639.7,364 640.7,364 641.7,364 642.7,364 643.7,364 644.7,364 645.7,364 646.7,364 647.7,364 648.7,364 649.7,364 650.7,364 651.7,364 652.7,364 653.7,364 654.7,364 655.7,364 656.7,364 657.7,364 658.7,364 659.7,364 660.7,364 661.7,364 662.7,364 663.7,364 664.7,364" fill="none" stroke="#000000" stroke-width="9.3" stroke-linejoin="round"/>
<text transform="translate(526.3,92.9) scale(1,1.04)" font-family="'Liberation Sans', Arial, sans-serif" font-size="38" text-anchor="middle" fill="#000000">n = 34</text>
<path d="M403.6 60h1.7v331h-1.7zM403.6 60h273.9v1.7h-273.9zM674.8 60h2.7v331h-2.7zM403.6 388.3h273.9v2.7h-273.9z" fill="#1e1e1e"/>
</g>
<g>
<path d="M698.2 316.8H965.2M698.2 221H965.2M698.2 125.2H965.2M707.6 63V387M762.8 63V387M818 63V387M873.2 63V387M928.4 63V387" stroke="#EBEBEB" stroke-width="1.5" fill="none"/>
<path d="M698.2 364.7H965.2M698.2 268.9H965.2M698.2 173.1H965.2M698.2 77.3H965.2M735.2 63V387M790.4 63V387M845.6 63V387M900.8 63V387M956 63V387" stroke="#EBEBEB" stroke-width="2.9" fill="none"/>
<rect x="790.9" y="82.6" width="32.1" height="281.3" fill="rgba(211,211,211,0.5)"/>
<rect x="829" y="82.6" width="33.1" height="281.3" fill="rgba(248,203,173,0.5)"/>
<rect x="862.2" y="82.6" width="44.2" height="281.3" fill="rgba(193,220,238,0.5)"/>
<polygon points="707.5,363.1 709,362.8 710.5,362.4 712,362 713.5,361.6 715,361.1 716.5,360.7 718,360.2 719.5,359.7 721,359.1 722.5,358.6 724.1,358 725.6,357.5 727.1,356.9 728.6,356.3 730.1,355.7 731.6,355.1 732.4,354.8 733.1,354.4 734.6,353.6 736.1,352.6 737.6,351.6 739.1,350.8 740.7,350.2 742.2,349.9 742.3,349.9 743.7,350.2 745.2,350.9 746.7,351.9 748.2,353 749.7,354 751.1,354.8 751.2,354.8 752.7,355.6 754.2,356.3 755.7,357 757.3,357.6 758.8,358 759.9,358.1 760.3,358.1 761.8,357.8 763.3,357.2 764.8,356.4 766.3,355.4 767.8,354.3 768.7,353.7 769.3,353.2 770.8,351.7 772.3,349.9 773.9,347.8 775.4,345.4 776.9,342.8 777.5,341.5 778.4,339.9 779.9,336.6 781.4,332.8 782.9,328.2 784.4,322.9 785.2,319.5 785.9,316.3 787.4,307.1 788.9,295.5 790.5,282.3 791.2,275.4 792,267.4 793.5,247.9 795,227.7 796.3,213.7 796.5,211.8 798,199.7 799.5,189.4 800.7,182.9 801,181.2 802.5,174.3 804,168.6 805.1,165.3 805.5,163.8 807,159.2 808.6,156.5 808.8,156.4 810.1,159.4 811.6,166.9 811.7,167.5 813.1,175.2 814.6,184.8 815,187.3 816.1,194.6 817.6,204.1 818.3,207.1 819.1,209.7 820.6,213.4 822.1,216.2 822.7,217 823.6,218.3 825.2,219.9 826.7,221.3 828.2,222.6 829.3,223.7 829.7,224 831.2,225.9 832.7,227.9 834.2,229.7 835.7,231 837,231.4 837.2,231.3 838.7,230 840.2,227.4 841.8,224.7 842.5,223.7 843.3,222.9 844.8,221.2 846.3,219.6 847.8,218.5 849.2,218.1 849.3,218.1 850.8,218.6 852.3,219.5 853.8,220.7 854.7,221.4 855.3,222.2 856.8,224.5 858.4,227.3 859.9,229.8 860.2,230.3 861.4,231.9 862.9,233.8 864.4,235.5 865.7,236.9 865.9,237.1 867.4,238.3 868.9,239.3 870.4,240.5 871.2,241.3 871.9,242.2 873.4,244.7 875,247.6 876.5,250.7 876.7,251.2 878,253.9 879.5,257.3 881,260.9 882.5,264.6 883.3,266.6 884,268.4 885.5,272.2 887,276.1 888.5,280.3 889.9,284.3 890,284.6 891.5,289.5 893.1,294.7 894.6,300 896.1,304.9 896.5,306.3 897.6,309.4 899.1,313.6 900.6,317.7 902.1,321.5 903.1,323.9 903.6,325 905.1,328.3 906.6,331.5 908.1,334.4 909.7,337 909.8,337.1 911.2,339.3 912.7,341.4 914.2,343.4 915.7,345.2 916.4,346 917.2,346.9 918.7,348.6 920.2,350.3 921.7,351.8 923.2,353.2 924.7,354.5 925.2,354.8 926.3,355.5 927.8,356.6 929.3,357.6 930.8,358.6 932.3,359.3 933.8,359.9 935.1,360.3 935.3,360.3 936.8,360.6 938.3,360.8 939.8,361 941.3,361.2 942.9,361.3 944.4,361.4 945,361.4 945.9,361.4 947.4,361.2 948.9,361 950.4,360.7 951.9,360.2 953.4,359.7 954.9,359.2 954.9,364.9 953.4,364.9 951.9,365 950.4,365 948.9,365.1 947.4,365.1 945.9,365.1 944.4,365.1 942.9,365.2 941.3,365.2 939.8,365.2 938.3,365.2 936.8,365.3 935.3,365.3 933.8,365.3 932.3,365.3 930.8,365.3 929.3,365.3 927.8,365.3 926.3,365.3 925.2,365.3 924.7,365.3 923.2,365.3 921.7,365.3 920.2,365.3 918.7,365.3 917.2,365.3 916.4,365.3 915.7,365.3 914.2,365.1 912.7,364.8 911.2,364.4 909.8,364 909.7,364 908.1,363.7 906.6,363.4 905.1,363.1 903.6,362.6 903.1,362.5 902.1,362 900.6,361 899.1,359.6 897.6,358.1 896.5,357 896.1,356.5 894.6,354.5 893.1,352.2 891.5,349.8 890,347.3 889.9,347.1 888.5,344.7 887,341.9 885.5,339 884,336.2 883.3,334.9 882.5,333.5 881,330.9 879.5,328.3 878,325.9 876.7,323.9 876.5,323.6 875,321.4 873.4,319.3 871.9,317.3 870.4,315.5 870.1,315.1 868.9,313.9 867.4,312.5 865.9,311.2 864.4,309.6 863.5,308.5 862.9,307.6 861.4,304.8 859.9,301.5 858.4,298.3 858,297.5 856.8,295.1 855.3,291.9 853.8,288.8 852.5,286.5 852.3,286.2 850.8,283.8 849.3,281.6 847.8,280.1 846.9,279.8 846.3,279.9 844.8,280.7 843.3,281.9 841.8,283.3 840.2,284.6 838.7,285.3 838.1,285.4 837.2,285.3 835.7,284.8 834.2,284 832.7,283.2 832.6,283.2 831.2,282.3 829.7,281.1 828.2,279.8 827.1,278.7 826.7,278.2 825.2,275.9 823.6,273.7 822.7,273.2 822.1,273.6 820.6,276.6 819.4,279.8 819.1,280.5 817.6,285.1 816.1,290 815,293.1 814.6,294 813.1,297.9 811.6,300.8 810.6,301.4 810.1,301.4 808.6,300.6 807.3,299.7 807,299.5 805.5,297 804,295.3 804,295.3 802.5,298.4 801,304.9 800.7,306.3 799.5,311.3 798,318.6 796.5,325.3 796.3,326.1 795,330.6 793.5,335.5 792,339.7 791.2,341.5 790.5,343.2 788.9,346.5 787.4,349.3 785.9,351.7 785.2,352.6 784.4,353.5 782.9,355.1 781.4,356.5 779.9,357.7 778.4,358.7 777.5,359.2 776.9,359.5 775.4,360.2 773.9,360.9 772.3,361.6 770.8,362.2 769.3,362.8 767.8,363.3 766.3,363.8 764.8,364.1 763.3,364.4 761.8,364.6 760.3,364.7 759.9,364.7 758.8,364.6 757.3,364.4 755.7,364 754.2,363.4 752.7,362.8 751.2,362.2 749.7,361.6 748.2,360.9 746.7,360.4 745.2,360 743.7,359.7 742.3,359.6 742.2,359.6 740.7,359.6 739.1,359.6 737.6,359.6 736.1,359.7 734.6,359.7 733.1,359.7 731.6,359.8 730.1,359.9 728.6,360 727.1,360.1 725.6,360.3 724.1,360.4 722.5,360.6 721,360.9 719.5,361.2 718,361.5 716.5,361.8 715,362.2 713.5,362.7 712,363.1 710.5,363.7 709,364.3 707.5,364.9" fill="#E69F00" fill-opacity="0.5" stroke="none"/>
<polyline points="707.5,363.1 709,362.8 710.5,362.4 712,362 713.5,361.6 715,361.1 716.5,360.7 718,360.2 719.5,359.7 721,359.1 722.5,358.6 724.1,358 725.6,357.5 727.1,356.9 728.6,356.3 730.1,355.7 731.6,355.1 732.4,354.8 733.1,354.4 734.6,353.6 736.1,352.6 737.6,351.6 739.1,350.8 740.7,350.2 742.2,349.9 742.3,349.9 743.7,350.2 745.2,350.9 746.7,351.9 748.2,353 749.7,354 751.1,354.8 751.2,354.8 752.7,355.6 754.2,356.3 755.7,357 757.3,357.6 758.8,358 759.9,358.1 760.3,358.1 761.8,357.8 763.3,357.2 764.8,356.4 766.3,355.4 767.8,354.3 768.7,353.7 769.3,353.2 770.8,351.7 772.3,349.9 773.9,347.8 775.4,345.4 776.9,342.8 777.5,341.5 778.4,339.9 779.9,336.6 781.4,332.8 782.9,328.2 784.4,322.9 785.2,319.5 785.9,316.3 787.4,307.1 788.9,295.5 790.5,282.3 791.2,275.4 792,267.4 793.5,247.9 795,227.7 796.3,213.7 796.5,211.8 798,199.7 799.5,189.4 800.7,182.9 801,181.2 802.5,174.3 804,168.6 805.1,165.3 805.5,163.8 807,159.2 808.6,156.5 808.8,156.4 810.1,159.4 811.6,166.9 811.7,167.5 813.1,175.2 814.6,184.8 815,187.3 816.1,194.6 817.6,204.1 818.3,207.1 819.1,209.7 820.6,213.4 822.1,216.2 822.7,217 823.6,218.3 825.2,219.9 826.7,221.3 828.2,222.6 829.3,223.7 829.7,224 831.2,225.9 832.7,227.9 834.2,229.7 835.7,231 837,231.4 837.2,231.3 838.7,230 840.2,227.4 841.8,224.7 842.5,223.7 843.3,222.9 844.8,221.2 846.3,219.6 847.8,218.5 849.2,218.1 849.3,218.1 850.8,218.6 852.3,219.5 853.8,220.7 854.7,221.4 855.3,222.2 856.8,224.5 858.4,227.3 859.9,229.8 860.2,230.3 861.4,231.9 862.9,233.8 864.4,235.5 865.7,236.9 865.9,237.1 867.4,238.3 868.9,239.3 870.4,240.5 871.2,241.3 871.9,242.2 873.4,244.7 875,247.6 876.5,250.7 876.7,251.2 878,253.9 879.5,257.3 881,260.9 882.5,264.6 883.3,266.6 884,268.4 885.5,272.2 887,276.1 888.5,280.3 889.9,284.3 890,284.6 891.5,289.5 893.1,294.7 894.6,300 896.1,304.9 896.5,306.3 897.6,309.4 899.1,313.6 900.6,317.7 902.1,321.5 903.1,323.9 903.6,325 905.1,328.3 906.6,331.5 908.1,334.4 909.7,337 909.8,337.1 911.2,339.3 912.7,341.4 914.2,343.4 915.7,345.2 916.4,346 917.2,346.9 918.7,348.6 920.2,350.3 921.7,351.8 923.2,353.2 924.7,354.5 925.2,354.8 926.3,355.5 927.8,356.6 929.3,357.6 930.8,358.6 932.3,359.3 933.8,359.9 935.1,360.3 935.3,360.3 936.8,360.6 938.3,360.8 939.8,361 941.3,361.2 942.9,361.3 944.4,361.4 945,361.4 945.9,361.4 947.4,361.2 948.9,361 950.4,360.7 951.9,360.2 953.4,359.7 954.9,359.2" fill="none" stroke="#E69F00" stroke-width="2.9" stroke-linejoin="round"/>
<polyline points="707.5,364.9 709,364.3 710.5,363.7 712,363.1 713.5,362.7 715,362.2 716.5,361.8 718,361.5 719.5,361.2 721,360.9 722.5,360.6 724.1,360.4 725.6,360.3 727.1,360.1 728.6,360 730.1,359.9 731.6,359.8 733.1,359.7 734.6,359.7 736.1,359.7 737.6,359.6 739.1,359.6 740.7,359.6 742.2,359.6 742.3,359.6 743.7,359.7 745.2,360 746.7,360.4 748.2,360.9 749.7,361.6 751.2,362.2 752.7,362.8 754.2,363.4 755.7,364 757.3,364.4 758.8,364.6 759.9,364.7 760.3,364.7 761.8,364.6 763.3,364.4 764.8,364.1 766.3,363.8 767.8,363.3 769.3,362.8 770.8,362.2 772.3,361.6 773.9,360.9 775.4,360.2 776.9,359.5 777.5,359.2 778.4,358.7 779.9,357.7 781.4,356.5 782.9,355.1 784.4,353.5 785.2,352.6 785.9,351.7 787.4,349.3 788.9,346.5 790.5,343.2 791.2,341.5 792,339.7 793.5,335.5 795,330.6 796.3,326.1 796.5,325.3 798,318.6 799.5,311.3 800.7,306.3 801,304.9 802.5,298.4 804,295.3 804,295.3 805.5,297 807,299.5 807.3,299.7 808.6,300.6 810.1,301.4 810.6,301.4 811.6,300.8 813.1,297.9 814.6,294 815,293.1 816.1,290 817.6,285.1 819.1,280.5 819.4,279.8 820.6,276.6 822.1,273.6 822.7,273.2 823.6,273.7 825.2,275.9 826.7,278.2 827.1,278.7 828.2,279.8 829.7,281.1 831.2,282.3 832.6,283.2 832.7,283.2 834.2,284 835.7,284.8 837.2,285.3 838.1,285.4 838.7,285.3 840.2,284.6 841.8,283.3 843.3,281.9 844.8,280.7 846.3,279.9 846.9,279.8 847.8,280.1 849.3,281.6 850.8,283.8 852.3,286.2 852.5,286.5 853.8,288.8 855.3,291.9 856.8,295.1 858,297.5 858.4,298.3 859.9,301.5 861.4,304.8 862.9,307.6 863.5,308.5 864.4,309.6 865.9,311.2 867.4,312.5 868.9,313.9 870.1,315.1 870.4,315.5 871.9,317.3 873.4,319.3 875,321.4 876.5,323.6 876.7,323.9 878,325.9 879.5,328.3 881,330.9 882.5,333.5 883.3,334.9 884,336.2 885.5,339 887,341.9 888.5,344.7 889.9,347.1 890,347.3 891.5,349.8 893.1,352.2 894.6,354.5 896.1,356.5 896.5,357 897.6,358.1 899.1,359.6 900.6,361 902.1,362 903.1,362.5 903.6,362.6 905.1,363.1 906.6,363.4 908.1,363.7 909.7,364 909.8,364 911.2,364.4 912.7,364.8 914.2,365.1 915.7,365.3 916.4,365.3 917.2,365.3 918.7,365.3 920.2,365.3 921.7,365.3 923.2,365.3 924.7,365.3 925.2,365.3 926.3,365.3 927.8,365.3 929.3,365.3 930.8,365.3 932.3,365.3 933.8,365.3 935.3,365.3 936.8,365.3 938.3,365.2 939.8,365.2 941.3,365.2 942.9,365.2 944.4,365.1 945.9,365.1 947.4,365.1 948.9,365.1 950.4,365 951.9,365 953.4,364.9 954.9,364.9" fill="none" stroke="#E69F00" stroke-width="2.9" stroke-linejoin="round"/>
<polyline points="707.5,364 708.5,364 709.5,364 710.5,363.9 711.5,363.9 712.5,363.8 713.5,363.7 714.5,363.6 715.5,363.5 716.5,363.4 717.5,363.3 718.5,363.1 719.5,363 720.5,362.8 721.5,362.6 722.5,362.4 723.5,362.2 724.5,361.8 725.5,361.4 726.5,360.9 727.5,360.4 728.5,359.8 729.5,359.3 730.5,358.8 731.5,358.4 732.5,358 733.5,357.7 734.5,357.4 735.5,357.1 736.5,356.8 737.5,356.6 738.5,356.3 739.5,356.1 740.5,356 741.5,355.9 742.5,355.9 743.5,356.1 744.5,356.4 745.5,356.7 746.5,357.2 747.5,357.7 748.5,358.1 749.5,358.6 750.5,359 751.5,359.3 752.5,359.6 753.5,359.8 754.5,360.1 755.5,360.3 756.6,360.6 757.6,360.7 758.6,360.8 759.6,360.9 760.6,360.9 761.6,360.8 762.6,360.6 763.6,360.3 764.6,359.9 765.6,359.5 766.6,359.1 767.6,358.6 768.6,358.1 769.6,357.5 770.6,356.7 771.6,355.8 772.6,354.7 773.6,353.5 774.6,352.3 775.6,350.9 776.6,349.5 777.6,348 778.6,346.5 779.6,344.8 780.6,343 781.6,341 782.6,338.9 783.6,336.6 784.6,334.3 785.6,331.7 786.6,328.9 787.6,325.9 788.6,322.6 789.6,319 790.6,315.1 791.6,310.7 792.6,305.8 793.6,300.3 794.6,294.4 795.6,288.2 796.6,281.8 797.6,275.2 798.6,268.2 799.6,261 800.6,253.3 801.6,245.1 802.6,236.9 803.6,229.9 804.6,224.5 805.6,220.5 806.6,217.9 807.6,216.7 808.6,216.2 809.7,216.1 810.7,216.1 811.7,216.7 812.7,218.5 813.7,221.7 814.7,225.5 815.7,229.2 816.7,232.7 817.7,235.9 818.7,238.8 819.7,241.3 820.7,243.5 821.7,245.5 822.7,247.3 823.7,248.7 824.7,249.8 825.7,250.7 826.7,251.5 827.7,252.2 828.7,252.9 829.7,253.7 830.7,254.5 831.7,255.3 832.7,256.1 833.7,256.9 834.7,257.7 835.7,258.5 836.7,259.4 837.7,260.2 838.7,261 839.7,261.6 840.7,262 841.7,262.1 842.7,262.1 843.7,261.9 844.7,261.7 845.7,261.5 846.7,261.3 847.7,261.2 848.7,261.4 849.7,261.8 850.7,262.6 851.7,263.5 852.7,264.6 853.7,265.8 854.7,267.3 855.7,268.9 856.7,270.8 857.7,272.8 858.7,274.8 859.7,276.8 860.7,278.9 861.7,280.9 862.8,283 863.8,284.9 864.8,286.7 865.8,288.3 866.8,289.7 867.8,291.1 868.8,292.5 869.8,293.7 870.8,295 871.8,296.1 872.8,297.2 873.8,298.3 874.8,299.4 875.8,300.7 876.8,302.1 877.8,303.8 878.8,305.6 879.8,307.6 880.8,309.8 881.8,311.9 882.8,314 883.8,316.1 884.8,318.1 885.8,320.1 886.8,322.1 887.8,324.1 888.8,326.1 889.8,328.1 890.8,330.2 891.8,332.3 892.8,334.4 893.8,336.4 894.8,338.4 895.8,340.3 896.8,341.9 897.8,343.5 898.8,345 899.8,346.4 900.8,347.7 901.8,348.9 902.8,350 903.8,351 904.8,351.9 905.8,352.8 906.8,353.6 907.8,354.4 908.8,355.2 909.8,355.9 910.8,356.7 911.8,357.5 912.8,358.2 913.8,358.9 914.8,359.5 915.9,360 916.9,360.4 917.9,360.8 918.9,361 919.9,361.3 920.9,361.5 921.9,361.8 922.9,362 923.9,362.2 924.9,362.4 925.9,362.7 926.9,362.9 927.9,363.2 928.9,363.5 929.9,363.8 930.9,364.1 931.9,364.3 932.9,364.5 933.9,364.6 934.9,364.7 935.9,364.7 936.9,364.6 937.9,364.6 938.9,364.5 939.9,364.5 940.9,364.4 941.9,364.3 942.9,364.2 943.9,364.1 944.9,364 945.9,364 946.9,363.9 947.9,363.8 948.9,363.7 949.9,363.6 950.9,363.5 951.9,363.4 952.9,363.3 953.9,363.2 954.9,363.2" fill="none" stroke="#000000" stroke-width="9.3" stroke-linejoin="round"/>
<text transform="translate(818,92.9) scale(1,1.04)" font-family="'Liberation Sans', Arial, sans-serif" font-size="38" text-anchor="middle" fill="#000000">n = 23</text>
<path d="M695.2 60h1.7v331h-1.7zM695.2 60h273.9v1.7h-273.9zM966.5 60h2.7v331h-2.7zM695.2 388.3h273.9v2.7h-273.9z" fill="#1e1e1e"/>
</g>
<g>
<path d="M989.9 316.8H1256.9M989.9 221H1256.9M989.9 125.2H1256.9M999.3 63V387M1054.5 63V387M1109.7 63V387M1164.9 63V387M1220.1 63V387" stroke="#EBEBEB" stroke-width="1.5" fill="none"/>
<path d="M989.9 364.7H1256.9M989.9 268.9H1256.9M989.9 173.1H1256.9M989.9 77.3H1256.9M1026.9 63V387M1082.1 63V387M1137.3 63V387M1192.5 63V387M1247.7 63V387" stroke="#EBEBEB" stroke-width="2.9" fill="none"/>
<rect x="1082.6" y="82.6" width="32.1" height="281.3" fill="rgba(211,211,211,0.5)"/>
<rect x="1120.7" y="82.6" width="33.1" height="281.3" fill="rgba(248,203,173,0.5)"/>
<rect x="1153.8" y="82.6" width="44.2" height="281.3" fill="rgba(193,220,238,0.5)"/>
<polygon points="999,363.6 1000.5,363.3 1002,363 1003.5,362.6 1005,362.2 1006.5,361.8 1008,361.3 1009.5,360.7 1011,360.2 1012.5,359.6 1014,359 1015.5,358.4 1017,357.7 1018.5,357 1020,356.3 1021.1,355.9 1021.5,355.6 1023,354.7 1024.5,353.5 1026,352.2 1027.5,351 1029,349.8 1030.5,348.9 1032,348.3 1033.2,348.2 1033.5,348.2 1035,348.6 1036.5,349.6 1038,350.8 1039.5,352.1 1041,353.4 1042.5,354.5 1043.1,354.8 1044,355.2 1045.5,356 1047,356.7 1048.5,357.4 1050,357.8 1051.5,358.1 1051.9,358.1 1053,357.9 1054.5,357.4 1056,356.5 1057.5,355.4 1059,354.1 1060.5,352.7 1060.7,352.6 1062,351.3 1063.5,349.5 1065,347.3 1066.5,344.9 1068,342.2 1069.5,339.4 1069.5,339.3 1071,336.2 1072.5,332.7 1074,328.6 1075.5,323.8 1077,318.2 1077.2,317.3 1078.5,311 1080,301.4 1081.5,289.9 1083,277 1083.2,275.4 1084.5,261 1086,241 1087.5,221.7 1088.3,213.7 1089,206.5 1090.5,193.1 1092,182.1 1092.7,178.5 1093.5,174.5 1095,168.9 1096,166.4 1096.5,165.1 1098,162.3 1098.6,162 1099.5,163.9 1101,171.7 1101.5,174.1 1102.5,179.5 1104,187.9 1104.8,191.7 1105.5,194.9 1107,200.8 1108.1,204.9 1108.5,206.6 1110,212.9 1111.5,219 1112.5,222.6 1113,224.3 1114.5,229.3 1116,233.9 1117.5,237.2 1118,238 1119,239.3 1120.5,241 1122,242.4 1123.5,243.3 1124.6,243.5 1125,243.5 1126.5,243.5 1128,243.5 1129.5,243.5 1131,243.5 1131.2,243.5 1132.5,243.1 1134,242 1135.5,240.8 1137,239.9 1137.8,239.7 1138.5,239.8 1140,240.2 1141.5,241.1 1143,242.1 1143.4,242.4 1144.5,243.9 1146,247.1 1147.5,250.7 1147.8,251.2 1149,254.1 1150.5,257.9 1152,261.7 1153.3,264.4 1153.5,264.9 1155,267.7 1156.5,270.3 1158,272.8 1159.5,275.2 1161,277.6 1161,277.7 1162.5,280.2 1164,282.8 1165.5,285.3 1167,287.9 1168.5,290.5 1168.7,290.9 1170,293.4 1171.5,296.4 1173,299.4 1174.5,302.5 1175.3,304.1 1176,305.5 1177.5,308.6 1179,311.6 1180.5,314.6 1181.9,317.3 1182,317.5 1183.5,320.4 1185,323.2 1186.5,326 1188,328.6 1188.5,329.4 1189.5,331.1 1191,333.4 1192.5,335.7 1194,337.8 1195.1,339.3 1195.5,339.8 1197,341.8 1198.5,343.6 1200,345.3 1201.5,346.8 1201.8,347.1 1203,348.3 1204.5,349.6 1206,350.9 1207.5,352 1208.4,352.6 1209,353 1210.5,353.8 1212,354.5 1213.5,355.2 1215,355.9 1216.5,356.6 1217.2,357 1218,357.5 1219.5,358.6 1221,359.7 1222.5,360.7 1224,361.3 1224.9,361.4 1225.5,361.4 1227,361.4 1228.5,361.4 1230,361.4 1231.5,361.4 1233,361.4 1234.5,361.4 1234.8,361.4 1236,361.3 1237.5,361 1239,360.6 1240.5,360.3 1241.4,360.3 1242,360.3 1243.5,360.5 1245,360.8 1246.5,361.2 1248,361.8 1246.9,375.7 1245.4,375 1243.9,374.3 1242.4,373.8 1241.4,373.5 1240.9,373.4 1239.4,373.1 1237.9,372.9 1236.4,372.7 1234.9,372.4 1234.8,372.4 1233.4,372 1231.9,371.4 1230.4,370.6 1228.9,369.8 1227.4,369.1 1225.9,368.4 1224.9,368 1224.4,367.8 1222.9,367.3 1221.4,366.8 1219.9,366.3 1218.4,366 1217.2,365.8 1216.9,365.8 1215.4,365.6 1213.9,365.5 1212.4,365.5 1210.9,365.4 1209.4,365.4 1208.4,365.3 1207.9,365.4 1206.4,365.4 1204.9,365.6 1203.4,365.7 1201.9,365.8 1201.8,365.8 1200.3,365.7 1198.8,365.6 1197.3,365.3 1195.8,364.9 1195.1,364.7 1194.3,364.2 1192.8,362.2 1191.3,359.5 1189.8,356.7 1188.5,354.8 1188.3,354.5 1186.8,353 1185.3,351.6 1183.8,350.2 1182.3,348.6 1181.9,348.2 1180.8,346.6 1179.3,344.2 1177.8,341.6 1176.3,338.9 1175.3,337.1 1174.8,336.3 1173.3,333.8 1171.8,331.3 1170.3,328.8 1168.8,326.3 1168.7,326.1 1167.3,323.7 1165.8,321.2 1164.3,318.6 1162.8,316 1161.3,313.4 1161,312.9 1159.8,310.9 1158.3,308.6 1156.8,306.2 1155.3,303.6 1154.4,301.9 1153.8,300.6 1152.3,297.2 1150.8,293.5 1149.3,289.7 1148.9,288.7 1147.8,285.7 1146.3,281.5 1144.8,278.1 1144.5,277.6 1143.3,275.9 1141.8,274.1 1140.2,273.2 1140,273.2 1138.7,273.4 1137.2,274.1 1135.7,275 1134.2,276 1133.4,276.5 1132.7,277.1 1131.2,278.6 1129.7,280.2 1128.2,281.6 1126.8,282 1126.7,282 1125.2,282 1123.7,282 1122.2,282 1121.3,282 1120.7,281.8 1119.2,279.5 1117.7,275.8 1116.2,271.9 1115.8,271 1114.7,268.6 1113.2,265 1111.7,261.4 1110.3,257.8 1110.2,257.5 1108.7,252.5 1107.2,247.5 1105.9,245.7 1105.7,245.7 1104.2,245.7 1102.7,245.7 1101.5,245.7 1101.2,245.8 1099.7,248.5 1098.2,253.6 1097.1,257.8 1096.7,259.5 1095.2,267.6 1093.7,277.6 1092.7,284.3 1092.2,287.6 1090.7,298.8 1089.2,309.6 1088.3,315.1 1087.7,318.3 1086.2,325.7 1084.7,332.1 1083.2,337.1 1083.2,337.3 1081.7,341.4 1080.2,345 1078.6,348 1077.2,350.4 1077.1,350.5 1075.6,352.7 1074.1,354.8 1072.6,356.5 1071.1,358 1069.6,359.1 1069.5,359.2 1068.1,360 1066.6,360.8 1065.1,361.6 1063.6,362.3 1062.1,363 1060.6,363.6 1059.1,364.1 1057.6,364.5 1056.1,364.9 1054.6,365.2 1053.1,365.3 1051.9,365.3 1051.6,365.3 1050.1,365.1 1048.6,364.7 1047.1,364 1045.6,363.1 1044.1,362.2 1042.6,361.2 1041.1,360.2 1039.6,359.2 1038.1,358.4 1036.6,357.7 1035.1,357.2 1033.6,357 1033.2,357 1032.1,357 1030.6,357 1029.1,357 1027.6,357 1026.1,357.1 1024.6,357.2 1023.1,357.3 1021.6,357.4 1020.1,357.6 1018.6,357.8 1017,358 1015.5,358.3 1014,358.6 1012.5,359 1011,359.5 1009.5,360 1008,360.5 1006.5,361.1 1005,361.8 1003.5,362.6 1002,363.4 1000.5,364.3 999,365.3" fill="#E69F00" fill-opacity="0.5" stroke="none"/>
<polyline points="999,363.6 1000.5,363.3 1002,363 1003.5,362.6 1005,362.2 1006.5,361.8 1008,361.3 1009.5,360.7 1011,360.2 1012.5,359.6 1014,359 1015.5,358.4 1017,357.7 1018.5,357 1020,356.3 1021.1,355.9 1021.5,355.6 1023,354.7 1024.5,353.5 1026,352.2 1027.5,351 1029,349.8 1030.5,348.9 1032,348.3 1033.2,348.2 1033.5,348.2 1035,348.6 1036.5,349.6 1038,350.8 1039.5,352.1 1041,353.4 1042.5,354.5 1043.1,354.8 1044,355.2 1045.5,356 1047,356.7 1048.5,357.4 1050,357.8 1051.5,358.1 1051.9,358.1 1053,357.9 1054.5,357.4 1056,356.5 1057.5,355.4 1059,354.1 1060.5,352.7 1060.7,352.6 1062,351.3 1063.5,349.5 1065,347.3 1066.5,344.9 1068,342.2 1069.5,339.4 1069.5,339.3 1071,336.2 1072.5,332.7 1074,328.6 1075.5,323.8 1077,318.2 1077.2,317.3 1078.5,311 1080,301.4 1081.5,289.9 1083,277 1083.2,275.4 1084.5,261 1086,241 1087.5,221.7 1088.3,213.7 1089,206.5 1090.5,193.1 1092,182.1 1092.7,178.5 1093.5,174.5 1095,168.9 1096,166.4 1096.5,165.1 1098,162.3 1098.6,162 1099.5,163.9 1101,171.7 1101.5,174.1 1102.5,179.5 1104,187.9 1104.8,191.7 1105.5,194.9 1107,200.8 1108.1,204.9 1108.5,206.6 1110,212.9 1111.5,219 1112.5,222.6 1113,224.3 1114.5,229.3 1116,233.9 1117.5,237.2 1118,238 1119,239.3 1120.5,241 1122,242.4 1123.5,243.3 1124.6,243.5 1125,243.5 1126.5,243.5 1128,243.5 1129.5,243.5 1131,243.5 1131.2,243.5 1132.5,243.1 1134,242 1135.5,240.8 1137,239.9 1137.8,239.7 1138.5,239.8 1140,240.2 1141.5,241.1 1143,242.1 1143.4,242.4 1144.5,243.9 1146,247.1 1147.5,250.7 1147.8,251.2 1149,254.1 1150.5,257.9 1152,261.7 1153.3,264.4 1153.5,264.9 1155,267.7 1156.5,270.3 1158,272.8 1159.5,275.2 1161,277.6 1161,277.7 1162.5,280.2 1164,282.8 1165.5,285.3 1167,287.9 1168.5,290.5 1168.7,290.9 1170,293.4 1171.5,296.4 1173,299.4 1174.5,302.5 1175.3,304.1 1176,305.5 1177.5,308.6 1179,311.6 1180.5,314.6 1181.9,317.3 1182,317.5 1183.5,320.4 1185,323.2 1186.5,326 1188,328.6 1188.5,329.4 1189.5,331.1 1191,333.4 1192.5,335.7 1194,337.8 1195.1,339.3 1195.5,339.8 1197,341.8 1198.5,343.6 1200,345.3 1201.5,346.8 1201.8,347.1 1203,348.3 1204.5,349.6 1206,350.9 1207.5,352 1208.4,352.6 1209,353 1210.5,353.8 1212,354.5 1213.5,355.2 1215,355.9 1216.5,356.6 1217.2,357 1218,357.5 1219.5,358.6 1221,359.7 1222.5,360.7 1224,361.3 1224.9,361.4 1225.5,361.4 1227,361.4 1228.5,361.4 1230,361.4 1231.5,361.4 1233,361.4 1234.5,361.4 1234.8,361.4 1236,361.3 1237.5,361 1239,360.6 1240.5,360.3 1241.4,360.3 1242,360.3 1243.5,360.5 1245,360.8 1246.5,361.2 1248,361.8" fill="none" stroke="#E69F00" stroke-width="2.9" stroke-linejoin="round"/>
<polyline points="999,365.3 1000.5,364.3 1002,363.4 1003.5,362.6 1005,361.8 1006.5,361.1 1008,360.5 1009.5,360 1011,359.5 1012.5,359 1014,358.6 1015.5,358.3 1017,358 1018.6,357.8 1020.1,357.6 1021.6,357.4 1023.1,357.3 1024.6,357.2 1026.1,357.1 1027.6,357 1029.1,357 1030.6,357 1032.1,357 1033.2,357 1033.6,357 1035.1,357.2 1036.6,357.7 1038.1,358.4 1039.6,359.2 1041.1,360.2 1042.6,361.2 1044.1,362.2 1045.6,363.1 1047.1,364 1048.6,364.7 1050.1,365.1 1051.6,365.3 1051.9,365.3 1053.1,365.3 1054.6,365.2 1056.1,364.9 1057.6,364.5 1059.1,364.1 1060.6,363.6 1062.1,363 1063.6,362.3 1065.1,361.6 1066.6,360.8 1068.1,360 1069.5,359.2 1069.6,359.1 1071.1,358 1072.6,356.5 1074.1,354.8 1075.6,352.7 1077.1,350.5 1077.2,350.4 1078.6,348 1080.2,345 1081.7,341.4 1083.2,337.3 1083.2,337.1 1084.7,332.1 1086.2,325.7 1087.7,318.3 1088.3,315.1 1089.2,309.6 1090.7,298.8 1092.2,287.6 1092.7,284.3 1093.7,277.6 1095.2,267.6 1096.7,259.5 1097.1,257.8 1098.2,253.6 1099.7,248.5 1101.2,245.8 1101.5,245.7 1102.7,245.7 1104.2,245.7 1105.7,245.7 1105.9,245.7 1107.2,247.5 1108.7,252.5 1110.2,257.5 1110.3,257.8 1111.7,261.4 1113.2,265 1114.7,268.6 1115.8,271 1116.2,271.9 1117.7,275.8 1119.2,279.5 1120.7,281.8 1121.3,282 1122.2,282 1123.7,282 1125.2,282 1126.7,282 1126.8,282 1128.2,281.6 1129.7,280.2 1131.2,278.6 1132.7,277.1 1133.4,276.5 1134.2,276 1135.7,275 1137.2,274.1 1138.7,273.4 1140,273.2 1140.2,273.2 1141.8,274.1 1143.3,275.9 1144.5,277.6 1144.8,278.1 1146.3,281.5 1147.8,285.7 1148.9,288.7 1149.3,289.7 1150.8,293.5 1152.3,297.2 1153.8,300.6 1154.4,301.9 1155.3,303.6 1156.8,306.2 1158.3,308.6 1159.8,310.9 1161,312.9 1161.3,313.4 1162.8,316 1164.3,318.6 1165.8,321.2 1167.3,323.7 1168.7,326.1 1168.8,326.3 1170.3,328.8 1171.8,331.3 1173.3,333.8 1174.8,336.3 1175.3,337.1 1176.3,338.9 1177.8,341.6 1179.3,344.2 1180.8,346.6 1181.9,348.2 1182.3,348.6 1183.8,350.2 1185.3,351.6 1186.8,353 1188.3,354.5 1188.5,354.8 1189.8,356.7 1191.3,359.5 1192.8,362.2 1194.3,364.2 1195.1,364.7 1195.8,364.9 1197.3,365.3 1198.8,365.6 1200.3,365.7 1201.8,365.8 1201.9,365.8 1203.4,365.7 1204.9,365.6 1206.4,365.4 1207.9,365.4 1208.4,365.3 1209.4,365.4 1210.9,365.4 1212.4,365.5 1213.9,365.5 1215.4,365.6 1216.9,365.8 1217.2,365.8 1218.4,366 1219.9,366.3 1221.4,366.8 1222.9,367.3 1224.4,367.8 1224.9,368 1225.9,368.4 1227.4,369.1 1228.9,369.8 1230.4,370.6 1231.9,371.4 1233.4,372 1234.8,372.4 1234.9,372.4 1236.4,372.7 1237.9,372.9 1239.4,373.1 1240.9,373.4 1241.4,373.5 1242.4,373.8 1243.9,374.3 1245.4,375 1246.9,375.7" fill="none" stroke="#E69F00" stroke-width="2.9" stroke-linejoin="round"/>
<polyline points="999,364.7 1000,364.7 1001,364.7 1002,364.6 1003,364.6 1004,364.5 1005,364.5 1006,364.4 1007,364.3 1008,364.2 1009,364.1 1010,364 1011,363.8 1012,363.4 1013,363 1014,362.5 1015,361.9 1016,361.2 1017,360.5 1018,359.9 1019,359.2 1020,358.6 1021,358.1 1022,357.6 1023,357.1 1024,356.5 1025,356 1026,355.4 1027,354.9 1028,354.4 1029,354 1030,353.6 1031,353.3 1032,353.1 1033,353.1 1034,353.2 1035,353.5 1036,353.9 1037,354.4 1038,355.1 1039,355.7 1040,356.4 1041,357 1042,357.6 1043,358 1044,358.4 1045,358.7 1046,359.1 1047,359.4 1048,359.7 1049,359.9 1050,360.1 1051,360.2 1052,360.2 1053,360.1 1054,360 1055,359.7 1056,359.3 1057,358.9 1058,358.4 1059,357.9 1060,357.3 1061,356.8 1062,356.1 1063,355.3 1064,354.4 1065,353.4 1066,352.4 1067,351.2 1068,350 1069,348.8 1070,347.5 1071,346.1 1072,344.7 1073,343.2 1074,341.5 1075,339.6 1076,337.6 1077,335.3 1078,332.7 1079,329.8 1080,326.4 1081,322.5 1082,318.2 1083,313.3 1084,307.6 1085,300.9 1086,293.4 1087,285.4 1088,277.4 1089,269.3 1090,261.1 1091,252.9 1092,245.2 1093,237.9 1094,231.1 1095,225.3 1096,220.9 1097,217.8 1098,215.6 1099,214 1100,213.1 1101,212.7 1102,212.6 1103,212.6 1104,212.7 1105,213 1106,213.9 1107,215.5 1108,217.6 1109,220.1 1110,223 1111,226.4 1112,230.1 1113,233.6 1114,236.9 1115,239.9 1116,242.6 1117,245.2 1118,247.6 1119,249.8 1120,251.8 1121,253.7 1122,255.4 1123,256.9 1124,258.2 1125,259.3 1126,260.2 1127,261.1 1128,261.9 1129,262.5 1130,263 1131,263.2 1132,263 1133,262.6 1134,262 1135,261.3 1136,260.7 1137,260.3 1138,260.1 1139,260.1 1140,260.2 1141,260.3 1142,260.5 1143,260.7 1144,261.1 1145,261.8 1146,263.1 1147,264.9 1148,267 1149,269.3 1150,271.9 1151,274.7 1152,277.6 1153,280.5 1154,283.2 1155,285.7 1156,288 1157,290.2 1158,292.2 1159,294.1 1160,295.9 1161,297.4 1162,298.8 1163,300 1164,301.1 1165,302.2 1166,303.2 1167,304.3 1168,305.5 1169,306.8 1170,308.3 1171,309.9 1172,311.5 1173,313.3 1174,315 1175,316.8 1176,318.6 1177,320.5 1178,322.3 1179,324.2 1180,326.1 1181,327.9 1182,329.6 1183,331.2 1184,332.8 1185,334.3 1186,335.8 1187,337.3 1188,338.6 1189,340 1190,341.2 1191,342.5 1192,343.7 1193,344.8 1194,345.9 1195,346.9 1196,347.9 1197,348.8 1198,349.6 1199,350.5 1200,351.2 1201,352 1202,352.8 1203,353.5 1204,354.3 1205,355 1206,355.7 1207,356.3 1208,356.8 1209,357.2 1210,357.5 1211,357.7 1212,357.9 1213,358.1 1214,358.3 1215,358.5 1216,358.8 1217,359.2 1218,359.8 1219,360.7 1220,361.7 1221,362.8 1222,363.9 1223,364.8 1224,365.4 1225,365.7 1226,365.7 1227,365.5 1228,365.3 1229,365.1 1230,364.9 1231,364.6 1232,364.4 1233,364.2 1234,364.1 1235,364 1236,364 1237,364 1238,364 1239,364 1240,364 1241,364 1242,364 1243,364 1244,364 1245,364 1246,364 1247,364 1248,364" fill="none" stroke="#000000" stroke-width="9.3" stroke-linejoin="round"/>
<text transform="translate(1109.7,92.9) scale(1,1.04)" font-family="'Liberation Sans', Arial, sans-serif" font-size="38" text-anchor="middle" fill="#000000">n = 13</text>
<path d="M986.9 60h1.7v331h-1.7zM986.9 60h273.9v1.7h-273.9zM1258.2 60h2.7v331h-2.7zM986.9 388.3h273.9v2.7h-273.9z" fill="#1e1e1e"/>
</g>
<g>
<path d="M1281.6 316.8H1548.5M1281.6 221H1548.5M1281.6 125.2H1548.5M1290.9 63V387M1346.1 63V387M1401.3 63V387M1456.5 63V387M1511.7 63V387" stroke="#EBEBEB" stroke-width="1.5" fill="none"/>
<path d="M1281.6 364.7H1548.5M1281.6 268.9H1548.5M1281.6 173.1H1548.5M1281.6 77.3H1548.5M1318.5 63V387M1373.7 63V387M1428.9 63V387M1484.1 63V387M1539.3 63V387" stroke="#EBEBEB" stroke-width="2.9" fill="none"/>
<rect x="1374.3" y="82.6" width="32.1" height="281.3" fill="rgba(211,211,211,0.5)"/>
<rect x="1412.4" y="82.6" width="33.1" height="281.3" fill="rgba(248,203,173,0.5)"/>
<rect x="1445.5" y="82.6" width="44.2" height="281.3" fill="rgba(193,220,238,0.5)"/>
<text transform="translate(1401.3,92.9) scale(1,1.04)" font-family="'Liberation Sans', Arial, sans-serif" font-size="38" text-anchor="middle" fill="#000000">n = 0</text>
<path d="M1278.6 60h1.7v331h-1.7zM1278.6 60h273.9v1.7h-273.9zM1549.8 60h2.7v331h-2.7zM1278.6 388.3h273.9v2.7h-273.9z" fill="#1e1e1e"/>
</g>
<g>
<path d="M1573.3 316.8H1840.2M1573.3 221H1840.2M1573.3 125.2H1840.2M1582.6 63V387M1637.8 63V387M1693 63V387M1748.2 63V387M1803.4 63V387" stroke="#EBEBEB" stroke-width="1.5" fill="none"/>
<path d="M1573.3 364.7H1840.2M1573.3 268.9H1840.2M1573.3 173.1H1840.2M1573.3 77.3H1840.2M1610.2 63V387M1665.4 63V387M1720.6 63V387M1775.8 63V387M1831 63V387" stroke="#EBEBEB" stroke-width="2.9" fill="none"/>
<rect x="1666" y="82.6" width="32.1" height="281.3" fill="rgba(211,211,211,0.5)"/>
<rect x="1704" y="82.6" width="33.1" height="281.3" fill="rgba(248,203,173,0.5)"/>
<rect x="1737.2" y="82.6" width="44.2" height="281.3" fill="rgba(193,220,238,0.5)"/>
<polygon points="1582,362.7 1583.5,362.3 1585,361.9 1586.5,361.5 1588,361 1589.5,360.5 1591,360 1592.5,359.4 1594,358.9 1595.5,358.3 1597,357.7 1598.5,357.1 1600,356.4 1601.5,355.8 1603,355.1 1604.5,354.5 1606,353.8 1606.3,353.7 1607.5,353 1609,352 1610.5,350.9 1612,349.8 1613.5,348.9 1615,348.3 1616.2,348.2 1616.5,348.2 1618,348.6 1619.5,349.6 1621,350.8 1622.5,352 1624,353.1 1625,353.7 1625.5,353.9 1627,354.7 1628.5,355.4 1630,356.1 1631.5,356.6 1633,356.9 1633.8,357 1634.5,356.9 1636,356.6 1637.5,355.9 1639,355 1640.5,354 1642,353 1642.6,352.6 1643.5,351.9 1645,350.7 1646.5,349.4 1648,347.9 1649.5,346.2 1651,344.3 1651.4,343.8 1652.5,342.2 1654,339.9 1655.5,337.1 1657,333.9 1658.5,330.1 1659.1,328.3 1660,325.5 1661.5,319.5 1663,311.8 1664.5,302.3 1665.8,293.1 1666,290.7 1667.5,270.4 1669,245.5 1670.2,229.2 1670.5,224.9 1672,207.3 1673.5,192.3 1674.6,185.1 1675,182.8 1676.5,176.6 1678,171.9 1679,169.7 1679.5,168.5 1681,165.5 1682.5,164.2 1682.5,164.2 1684,166.6 1685.5,171.6 1685.6,171.9 1687,178.4 1688.5,187.3 1688.9,189.5 1690,197 1691.5,207.5 1692.2,211.5 1693,215.9 1694.5,223.1 1696,229.3 1696.6,231.4 1697.5,234.4 1699,239 1700.5,242.8 1702,245.6 1702.1,245.7 1703.5,247.5 1705,249.1 1706.5,250.4 1708,251.1 1708.7,251.2 1709.5,251.1 1711,250.6 1712.5,249.8 1714,248.8 1715.3,247.9 1715.5,247.8 1717,246.4 1718.5,244.8 1720,243.3 1721.5,242.4 1721.9,242.4 1723,242.6 1724.5,243.6 1726,245.1 1727.5,246.8 1727.5,246.9 1729,250.1 1730.5,254.8 1732,259.7 1733,262.2 1733.5,263.5 1735,266.7 1736.5,269.6 1738,272.4 1738.5,273.2 1739.5,275.1 1741,277.7 1742.5,280.3 1744,282.6 1745.1,284.3 1745.5,284.9 1747,286.8 1748.5,288.6 1750,290.5 1751.5,292.8 1751.7,293.1 1753,295.7 1754.5,299.2 1756,303 1757.5,306.7 1758.3,308.5 1759,310 1760.5,313.2 1762,316.2 1763.5,319.1 1764.9,321.7 1765,321.9 1766.5,324.6 1768,327.2 1769.5,329.7 1771,332 1771.5,332.7 1772.5,334.2 1774,336.3 1775.5,338.4 1777,340.3 1778.5,342 1779.2,342.6 1780,343.3 1781.5,344.5 1783,345.6 1784.5,346.5 1786,347.5 1787,348.2 1787.5,348.6 1789,349.6 1790.5,350.7 1792,351.7 1793.5,352.8 1794.7,353.7 1795,354 1796.5,355.4 1798,357 1799.5,358.6 1801,359.7 1802.4,360.3 1802.5,360.3 1804,360.5 1805.5,360.7 1807,360.9 1808.5,361.1 1810,361.2 1811.5,361.3 1813,361.3 1814.5,361.4 1815.6,361.4 1816,361.4 1817.5,361.4 1819,361.3 1820.5,361.3 1822,361.2 1823.5,361.1 1825,361 1826.5,360.9 1828,360.7 1829.5,360.5 1831,360.3 1831,364.5 1829.5,364.5 1828,364.5 1826.5,364.5 1825,364.5 1823.5,364.5 1822,364.4 1820.5,364.4 1819,364.4 1817.5,364.4 1816,364.4 1814.5,364.4 1813,364.4 1811.5,364.4 1810,364.3 1808.5,364.3 1807,364.3 1805.5,364.3 1804,364.2 1802.5,364.2 1801,364.2 1799.5,364.1 1798,364.1 1796.5,364.1 1795,364 1794.7,364 1793.5,363.9 1792,363.7 1790.5,363.4 1789,363 1787.5,362.6 1787,362.5 1786,362.2 1784.5,361.7 1783,361.1 1781.5,360.4 1780,359.6 1779.2,359.2 1778.5,358.7 1777,357.7 1775.5,356.4 1774,355 1772.5,353.6 1771.5,352.6 1771,352.1 1769.5,350.5 1768,348.7 1766.5,346.9 1765,345 1764.9,344.9 1763.5,342.9 1762,340.7 1760.5,338.4 1759,336.1 1758.3,334.9 1757.5,333.7 1756,331.1 1754.5,328.5 1753,326 1751.7,323.9 1751.5,323.7 1750,321.6 1748.5,319.7 1747,317.8 1745.5,315.9 1744,314.1 1744,314 1742.5,312.2 1741,310.3 1739.5,308.4 1738,306.5 1736.5,304.4 1736.3,304.1 1735,302.3 1733.5,299.9 1732,297.5 1730.8,295.3 1730.5,294.8 1729,291.8 1727.5,288.6 1726,285.6 1725.3,284.3 1724.5,283 1723,280.2 1721.5,277.8 1720,276.6 1719.7,276.5 1718.5,276.8 1717,277.6 1715.5,278.8 1714,279.9 1712.5,280.8 1712,280.9 1711,281.2 1709.5,281.5 1708,281.8 1706.5,282 1705.4,282 1705,282 1703.5,281.1 1702,279.5 1700.5,277.4 1699.9,276.5 1699,275.2 1697.5,272.2 1696,268.7 1694.5,264.7 1694.4,264.4 1693,259.7 1691.5,254.5 1691.1,253.4 1690,250.9 1688.5,248.3 1687.8,247.9 1687,248.3 1685.5,250.8 1684,254.2 1683.4,255.6 1682.5,257.5 1681,261.2 1679.5,265.1 1679,266.6 1678,269.1 1676.5,273.1 1675,278 1674.6,279.8 1673.5,285.6 1672,296.9 1670.5,308.4 1670.2,310.7 1669,317.9 1667.5,326.9 1666,334 1665.8,334.9 1664.5,338.8 1663,342.9 1661.5,346.3 1660,349 1659.1,350.4 1658.5,351.2 1657,353.1 1655.5,354.8 1654,356.3 1652.5,357.4 1651.4,358.1 1651,358.3 1649.5,359.1 1648,359.9 1646.5,360.6 1645,361.3 1643.5,361.9 1642,362.5 1640.5,362.9 1639,363.4 1637.5,363.7 1636,363.9 1634.5,364 1633.8,364 1633,364 1631.5,363.8 1630,363.3 1628.5,362.7 1627,362.1 1625.5,361.3 1624,360.6 1622.5,359.8 1621,359.2 1619.5,358.6 1618,358.3 1616.5,358.1 1616.2,358.1 1615,358.1 1613.5,358.1 1612,358.1 1610.5,358.1 1609,358.2 1607.5,358.2 1606,358.3 1604.5,358.4 1603,358.5 1601.5,358.7 1600,358.9 1598.5,359.1 1597,359.3 1595.5,359.6 1594,360 1592.5,360.3 1591,360.8 1589.5,361.2 1588,361.8 1586.5,362.4 1585,363 1583.5,363.7 1582,364.5" fill="#E69F00" fill-opacity="0.5" stroke="none"/>
<polyline points="1582,362.7 1583.5,362.3 1585,361.9 1586.5,361.5 1588,361 1589.5,360.5 1591,360 1592.5,359.4 1594,358.9 1595.5,358.3 1597,357.7 1598.5,357.1 1600,356.4 1601.5,355.8 1603,355.1 1604.5,354.5 1606,353.8 1606.3,353.7 1607.5,353 1609,352 1610.5,350.9 1612,349.8 1613.5,348.9 1615,348.3 1616.2,348.2 1616.5,348.2 1618,348.6 1619.5,349.6 1621,350.8 1622.5,352 1624,353.1 1625,353.7 1625.5,353.9 1627,354.7 1628.5,355.4 1630,356.1 1631.5,356.6 1633,356.9 1633.8,357 1634.5,356.9 1636,356.6 1637.5,355.9 1639,355 1640.5,354 1642,353 1642.6,352.6 1643.5,351.9 1645,350.7 1646.5,349.4 1648,347.9 1649.5,346.2 1651,344.3 1651.4,343.8 1652.5,342.2 1654,339.9 1655.5,337.1 1657,333.9 1658.5,330.1 1659.1,328.3 1660,325.5 1661.5,319.5 1663,311.8 1664.5,302.3 1665.8,293.1 1666,290.7 1667.5,270.4 1669,245.5 1670.2,229.2 1670.5,224.9 1672,207.3 1673.5,192.3 1674.6,185.1 1675,182.8 1676.5,176.6 1678,171.9 1679,169.7 1679.5,168.5 1681,165.5 1682.5,164.2 1682.5,164.2 1684,166.6 1685.5,171.6 1685.6,171.9 1687,178.4 1688.5,187.3 1688.9,189.5 1690,197 1691.5,207.5 1692.2,211.5 1693,215.9 1694.5,223.1 1696,229.3 1696.6,231.4 1697.5,234.4 1699,239 1700.5,242.8 1702,245.6 1702.1,245.7 1703.5,247.5 1705,249.1 1706.5,250.4 1708,251.1 1708.7,251.2 1709.5,251.1 1711,250.6 1712.5,249.8 1714,248.8 1715.3,247.9 1715.5,247.8 1717,246.4 1718.5,244.8 1720,243.3 1721.5,242.4 1721.9,242.4 1723,242.6 1724.5,243.6 1726,245.1 1727.5,246.8 1727.5,246.9 1729,250.1 1730.5,254.8 1732,259.7 1733,262.2 1733.5,263.5 1735,266.7 1736.5,269.6 1738,272.4 1738.5,273.2 1739.5,275.1 1741,277.7 1742.5,280.3 1744,282.6 1745.1,284.3 1745.5,284.9 1747,286.8 1748.5,288.6 1750,290.5 1751.5,292.8 1751.7,293.1 1753,295.7 1754.5,299.2 1756,303 1757.5,306.7 1758.3,308.5 1759,310 1760.5,313.2 1762,316.2 1763.5,319.1 1764.9,321.7 1765,321.9 1766.5,324.6 1768,327.2 1769.5,329.7 1771,332 1771.5,332.7 1772.5,334.2 1774,336.3 1775.5,338.4 1777,340.3 1778.5,342 1779.2,342.6 1780,343.3 1781.5,344.5 1783,345.6 1784.5,346.5 1786,347.5 1787,348.2 1787.5,348.6 1789,349.6 1790.5,350.7 1792,351.7 1793.5,352.8 1794.7,353.7 1795,354 1796.5,355.4 1798,357 1799.5,358.6 1801,359.7 1802.4,360.3 1802.5,360.3 1804,360.5 1805.5,360.7 1807,360.9 1808.5,361.1 1810,361.2 1811.5,361.3 1813,361.3 1814.5,361.4 1815.6,361.4 1816,361.4 1817.5,361.4 1819,361.3 1820.5,361.3 1822,361.2 1823.5,361.1 1825,361 1826.5,360.9 1828,360.7 1829.5,360.5 1831,360.3" fill="none" stroke="#E69F00" stroke-width="2.9" stroke-linejoin="round"/>
<polyline points="1582,364.5 1583.5,363.7 1585,363 1586.5,362.4 1588,361.8 1589.5,361.2 1591,360.8 1592.5,360.3 1594,360 1595.5,359.6 1597,359.3 1598.5,359.1 1600,358.9 1601.5,358.7 1603,358.5 1604.5,358.4 1606,358.3 1607.5,358.2 1609,358.2 1610.5,358.1 1612,358.1 1613.5,358.1 1615,358.1 1616.2,358.1 1616.5,358.1 1618,358.3 1619.5,358.6 1621,359.2 1622.5,359.8 1624,360.6 1625.5,361.3 1627,362.1 1628.5,362.7 1630,363.3 1631.5,363.8 1633,364 1633.8,364 1634.5,364 1636,363.9 1637.5,363.7 1639,363.4 1640.5,362.9 1642,362.5 1643.5,361.9 1645,361.3 1646.5,360.6 1648,359.9 1649.5,359.1 1651,358.3 1651.4,358.1 1652.5,357.4 1654,356.3 1655.5,354.8 1657,353.1 1658.5,351.2 1659.1,350.4 1660,349 1661.5,346.3 1663,342.9 1664.5,338.8 1665.8,334.9 1666,334 1667.5,326.9 1669,317.9 1670.2,310.7 1670.5,308.4 1672,296.9 1673.5,285.6 1674.6,279.8 1675,278 1676.5,273.1 1678,269.1 1679,266.6 1679.5,265.1 1681,261.2 1682.5,257.5 1683.4,255.6 1684,254.2 1685.5,250.8 1687,248.3 1687.8,247.9 1688.5,248.3 1690,250.9 1691.1,253.4 1691.5,254.5 1693,259.7 1694.4,264.4 1694.5,264.7 1696,268.7 1697.5,272.2 1699,275.2 1699.9,276.5 1700.5,277.4 1702,279.5 1703.5,281.1 1705,282 1705.4,282 1706.5,282 1708,281.8 1709.5,281.5 1711,281.2 1712,280.9 1712.5,280.8 1714,279.9 1715.5,278.8 1717,277.6 1718.5,276.8 1719.7,276.5 1720,276.6 1721.5,277.8 1723,280.2 1724.5,283 1725.3,284.3 1726,285.6 1727.5,288.6 1729,291.8 1730.5,294.8 1730.8,295.3 1732,297.5 1733.5,299.9 1735,302.3 1736.3,304.1 1736.5,304.4 1738,306.5 1739.5,308.4 1741,310.3 1742.5,312.2 1744,314 1744,314.1 1745.5,315.9 1747,317.8 1748.5,319.7 1750,321.6 1751.5,323.7 1751.7,323.9 1753,326 1754.5,328.5 1756,331.1 1757.5,333.7 1758.3,334.9 1759,336.1 1760.5,338.4 1762,340.7 1763.5,342.9 1764.9,344.9 1765,345 1766.5,346.9 1768,348.7 1769.5,350.5 1771,352.1 1771.5,352.6 1772.5,353.6 1774,355 1775.5,356.4 1777,357.7 1778.5,358.7 1779.2,359.2 1780,359.6 1781.5,360.4 1783,361.1 1784.5,361.7 1786,362.2 1787,362.5 1787.5,362.6 1789,363 1790.5,363.4 1792,363.7 1793.5,363.9 1794.7,364 1795,364 1796.5,364.1 1798,364.1 1799.5,364.1 1801,364.2 1802.5,364.2 1804,364.2 1805.5,364.3 1807,364.3 1808.5,364.3 1810,364.3 1811.5,364.4 1813,364.4 1814.5,364.4 1816,364.4 1817.5,364.4 1819,364.4 1820.5,364.4 1822,364.4 1823.5,364.5 1825,364.5 1826.5,364.5 1828,364.5 1829.5,364.5 1831,364.5" fill="none" stroke="#E69F00" stroke-width="2.9" stroke-linejoin="round"/>
<polyline points="1582,363.6 1583,363.6 1584,363.5 1585,363.5 1586,363.5 1587,363.4 1588,363.3 1589,363.2 1590,363.1 1591,363 1592,362.9 1593,362.8 1594,362.6 1595,362.5 1596,362.3 1597,362 1598,361.5 1599,361.1 1600,360.5 1601,359.9 1602,359.3 1603,358.7 1604,358.1 1605,357.6 1606,357.1 1607,356.7 1608,356.2 1609,355.8 1610,355.3 1611,354.9 1612,354.5 1613,354.2 1614,354 1615,353.8 1616,353.8 1617,353.9 1618,354.3 1619,354.8 1620,355.5 1621,356.3 1622,357 1623,357.7 1624,358.3 1625,358.7 1626,359 1627,359.3 1628,359.5 1629,359.7 1630,359.9 1631,360.1 1632,360.2 1633,360.2 1634,360.2 1635,360.1 1636,359.9 1637,359.6 1638,359.2 1639,358.8 1640,358.3 1641,357.8 1642,357.3 1643,356.7 1644,356.2 1645,355.6 1646,354.9 1647,354.2 1648,353.4 1649,352.6 1650,351.7 1651,350.7 1652,349.7 1653,348.6 1654,347.4 1655,346.1 1656,344.7 1657,343.1 1658,341.4 1659,339.5 1660,337.2 1661,334.7 1662,331.8 1663,328.4 1664,324.6 1665,320.4 1666,315.3 1667,309.1 1668,301.8 1669,293.7 1670,285.3 1671,276.6 1672,267.5 1673,258.3 1674,249.4 1675,241.1 1676,233.1 1677,225.7 1678,219.3 1679,214.1 1680,209.9 1681,206.4 1682,203.9 1683,202.5 1684,202.7 1685,204.1 1686,206.4 1687,209.3 1688,212.4 1689,216 1690,220 1691,224.2 1692,228.4 1693,232.6 1694,236.8 1695,240.9 1696,244.6 1697,247.9 1698,250.8 1699,253.5 1700,255.9 1701,258 1702,259.7 1703,261.2 1704,262.6 1705,263.7 1706,264.8 1707,265.6 1708,266.2 1709,266.7 1710,267 1711,267.2 1712,267.4 1713,267.5 1714,267.6 1715,267.7 1716,267.5 1717,267.2 1718,266.8 1719,266.2 1720,265.6 1721,265.1 1722,264.7 1723,264.7 1724,265.2 1725,266.4 1726,268.1 1727,270.1 1728,272.1 1729,274.3 1730,276.6 1731,279.1 1732,281.6 1733,284 1734,286.2 1735,288.2 1736,290.1 1737,291.8 1738,293.5 1739,295 1740,296.5 1741,297.9 1742,299.1 1743,300.3 1744,301.3 1745,302.4 1746,303.5 1747,304.6 1748,305.9 1749,307.3 1750,308.8 1751,310.5 1752,312.2 1753,314 1754,315.8 1755,317.6 1756,319.4 1757,321.1 1758,322.9 1759,324.7 1760,326.5 1761,328.2 1762,329.9 1763,331.5 1764,333 1765,334.4 1766,335.8 1767,337.2 1768,338.4 1769,339.7 1770,340.9 1771,342.1 1772,343.2 1773,344.3 1774,345.4 1775,346.5 1776,347.5 1777,348.5 1778,349.4 1779,350.2 1780,350.9 1781,351.5 1782,352.1 1783,352.7 1784,353.2 1785,353.7 1786,354.3 1787,354.8 1788,355.4 1789,356 1790,356.5 1791,357.1 1792,357.7 1793,358.3 1794,358.8 1795,359.4 1796,360 1797,360.7 1798,361.3 1799,361.9 1800,362.5 1801,362.8 1802,363 1803,363.1 1804,363.1 1805,363.1 1806,363.1 1807,363.1 1808,363.1 1809,363.1 1810,363.1 1811,363.1 1812,363.1 1813,363.1 1814,363.1 1815,363.1 1816,363.1 1817,363.1 1818,363.1 1819,363 1820,363 1821,362.9 1822,362.8 1823,362.8 1824,362.7 1825,362.6 1826,362.4 1827,362.3 1828,362.2 1829,362.1 1830,362 1831,361.9" fill="none" stroke="#000000" stroke-width="9.3" stroke-linejoin="round"/>
<text transform="translate(1693,92.9) scale(1,1.04)" font-family="'Liberation Sans', Arial, sans-serif" font-size="38" text-anchor="middle" fill="#000000">n = 33</text>
<path d="M1570.3 60h1.7v331h-1.7zM1570.3 60h273.9v1.7h-273.9zM1841.5 60h2.7v331h-2.7zM1570.3 388.3h273.9v2.7h-273.9z" fill="#1e1e1e"/>
</g>
<g>
<path d="M114.9 665.3H381.9M114.9 569.5H381.9M114.9 473.7H381.9M124.2 411.5V735.5M179.4 411.5V735.5M234.6 411.5V735.5M289.9 411.5V735.5M345 411.5V735.5" stroke="#EBEBEB" stroke-width="1.5" fill="none"/>
<path d="M114.9 713.2H381.9M114.9 617.4H381.9M114.9 521.6H381.9M114.9 425.8H381.9M151.8 411.5V735.5M207.1 411.5V735.5M262.2 411.5V735.5M317.4 411.5V735.5M372.6 411.5V735.5" stroke="#EBEBEB" stroke-width="2.9" fill="none"/>
<rect x="207.6" y="431.1" width="32.1" height="281.3" fill="rgba(211,211,211,0.5)"/>
<rect x="245.7" y="431.1" width="33.1" height="281.3" fill="rgba(248,203,173,0.5)"/>
<rect x="278.8" y="431.1" width="44.2" height="281.3" fill="rgba(193,220,238,0.5)"/>
<polygon points="124,711.1 125.5,710.6 127,710.1 128.5,709.7 130,709.2 131.5,708.7 133,708.1 134.5,707.6 136,707.1 137.5,706.6 139,706.1 140.5,705.5 142,705 143.5,704.4 145,703.9 146.5,703.3 148.1,702.8 149.6,702.2 149.8,702.1 151.1,701.6 152.6,700.8 154.1,700.1 155.6,699.3 157.1,698.8 158.6,698.5 159,698.5 160.1,698.7 161.6,699.4 163.1,700.5 164.6,701.8 166.1,703 167.6,703.9 167.9,704.1 169.1,704.6 170.6,705.2 172.1,705.7 173.6,706.2 175.1,706.6 176.6,706.8 177.7,706.9 178.1,706.9 179.6,706.6 181.1,705.9 182.6,705 184.1,704 185.6,702.8 187.1,701.6 187.5,701.3 188.6,700.5 190.1,699.2 191.6,697.8 193.1,696.3 194.6,694.6 195.9,692.9 196.1,692.7 197.6,690.6 199.1,688.1 200.6,685.4 202.1,682.2 202.9,680.3 203.6,678.6 205.1,674.1 206.6,668.8 208.1,662.6 208.5,660.7 209.6,654.6 211.1,644.1 212.6,633.4 212.7,632.8 214.1,623.3 215.6,613.1 216.9,604.8 217.1,603.4 218.6,593.2 220.1,583.9 221.1,579.6 221.6,577.9 223.1,573.7 223.9,572.6 224.6,572 226.1,571 227.6,570.2 229.1,569.5 230.6,569.1 232.1,569 232.3,569 233.6,569.2 235.1,569.8 236.6,570.7 238.1,571.8 239.3,572.6 239.6,573 241.1,575.1 242.6,577.9 244.1,580.6 245.6,582.2 246.3,582.4 247.1,582.1 248.6,580.4 250.1,577.7 251.6,574.5 251.9,574 253.1,569.7 254.6,563 256.1,558.7 256.2,558.5 257.7,556.6 259.2,555.3 260.7,554.1 261.7,553.1 262.2,552.4 263.7,549.8 265.2,547.8 265.8,547.5 266.7,547.6 268.2,548.5 269.7,549.8 271.2,551.1 272.7,551.6 272.8,551.7 274.2,551.7 275.7,551.7 277.2,551.7 278.7,551.7 280.2,551.7 281.2,551.7 281.7,551.7 283.2,553 284.7,555.3 286.2,557.9 287.7,560.1 289.2,561.4 289.6,561.4 290.7,559.5 292.2,552.3 293.7,543.9 293.8,543.3 295.2,536.7 296.7,528.8 298,520.9 298.2,519.7 299.7,507.7 300.8,498.5 301.2,495.7 302.7,484.8 303.6,478.9 304.2,475.4 305.7,467.1 306.4,464.9 307.2,464 308.7,462.9 309.2,462.1 310.2,441.5 311.2,423 311.7,423.7 313.2,431.4 314,437 314.7,445.1 316.2,470 316.8,478.9 317.7,493.7 319.2,517.2 320.4,534.9 320.7,539.4 322.2,560.6 323.7,580.3 324.6,590.8 325.2,597.8 326.7,613.2 328.2,627.5 328.8,632.8 329.7,641.6 331.2,655.4 332.7,667.4 333,669.1 334.2,677.3 335.7,686 337.2,691.5 337.2,691.6 338.7,694.7 340.2,697 341.7,698.8 342.8,699.9 343.2,700.4 344.7,701.8 346.2,703.1 347.7,704.2 349.2,705.2 349.8,705.5 350.7,706.1 352.2,707.1 353.7,708.1 355.2,708.9 356.7,709.5 358.2,709.7 358.2,709.7 359.7,709.7 361.2,709.7 362.7,709.7 364.3,709.6 365.8,709.5 367.3,709.4 368.8,709.2 370.3,709 371.8,708.7 373.3,708.3 373.3,713.3 371.8,713.3 370.3,713.3 368.8,713.3 367.3,713.3 365.8,713.3 364.3,713.3 362.7,713.3 361.2,713.3 359.7,713.3 358.2,713.3 356.7,713.3 355.2,713.3 353.7,713.3 352.2,713.3 350.7,713.3 349.2,713.3 347.7,713.3 346.2,713.3 344.7,713.3 343.2,713.3 341.7,713.3 340.2,713.3 338.7,713.3 337.2,713.3 335.7,713.3 334.2,713.3 332.7,713.3 331.2,713.3 330.2,713.3 329.7,713.3 328.2,713.1 326.7,712.7 325.2,712.2 323.7,711.5 322.2,710.8 321.8,710.5 320.7,709.8 319.2,708.4 317.7,706.6 316.2,704.6 314.8,702.7 314.7,702.6 313.2,700.4 311.7,698 310.2,695.5 308.7,693 307.8,691.5 307.2,690.6 305.7,688.2 304.2,685.9 302.7,683.5 301.2,681 300.8,680.3 299.7,678.2 298.2,675.2 296.7,672 295.2,668.9 293.8,666.3 293.7,666.1 292.2,663.1 290.7,659.9 289.2,657.2 287.7,655.5 286.8,655.2 286.2,655.2 284.7,655.2 283.2,655.2 281.7,655.2 280.2,655.2 279.8,655.2 278.7,655.1 277.2,655 275.7,654.8 274.2,654.5 272.7,654.1 271.4,653.8 271.2,653.7 269.7,652.6 268.2,651 266.7,649.4 265.2,648.3 264.4,648.2 263.7,648.4 262.2,650.1 260.7,652.9 259.2,656 257.7,659 257.5,659.3 256.2,661.7 254.6,664.5 253.1,667.4 251.6,670.1 250.5,671.9 250.1,672.4 248.6,674.6 247.1,676.7 245.6,678.6 244.1,679.9 243.5,680.3 242.6,680.7 241.1,681.4 239.6,682 238.1,682.4 236.6,682.8 235.1,683 233.7,683.1 233.6,683.1 232.1,683 230.6,682.5 229.1,681.8 227.6,681 226.7,680.3 226.1,679.6 224.6,675.9 223.1,672.4 222.5,671.9 221.6,672.2 220.1,673.4 218.6,675.3 217.1,677.3 216.9,677.5 215.6,679.3 214.1,681.8 212.6,684.6 211.1,687.3 209.6,689.9 208.5,691.5 208.1,692.1 206.6,694.1 205.1,696 203.6,698 202.1,699.8 200.6,701.4 199.1,703 197.6,704.3 196.1,705.4 195.9,705.5 194.6,706.3 193.1,707.3 191.6,708.2 190.1,709.1 188.6,710 187.1,710.7 185.6,711.4 184.1,712.1 182.6,712.6 181.1,713 179.6,713.2 178.1,713.3 177.7,713.3 176.6,713.3 175.1,712.9 173.6,712.4 172.1,711.7 170.6,711 169.1,710.1 167.6,709.2 166.1,708.4 164.6,707.6 163.1,706.9 161.6,706.4 160.1,706.1 159,706.1 158.6,706.1 157.1,706.1 155.6,706.1 154.1,706.1 152.6,706.1 151.1,706.2 149.6,706.3 148.1,706.4 146.5,706.5 145,706.6 143.5,706.8 142,707 140.5,707.3 139,707.6 137.5,707.9 136,708.3 134.5,708.7 133,709.2 131.5,709.7 130,710.3 128.5,711 127,711.7 125.5,712.5 124,713.3" fill="#E69F00" fill-opacity="0.5" stroke="none"/>
<polyline points="124,711.1 125.5,710.6 127,710.1 128.5,709.7 130,709.2 131.5,708.7 133,708.1 134.5,707.6 136,707.1 137.5,706.6 139,706.1 140.5,705.5 142,705 143.5,704.4 145,703.9 146.5,703.3 148.1,702.8 149.6,702.2 149.8,702.1 151.1,701.6 152.6,700.8 154.1,700.1 155.6,699.3 157.1,698.8 158.6,698.5 159,698.5 160.1,698.7 161.6,699.4 163.1,700.5 164.6,701.8 166.1,703 167.6,703.9 167.9,704.1 169.1,704.6 170.6,705.2 172.1,705.7 173.6,706.2 175.1,706.6 176.6,706.8 177.7,706.9 178.1,706.9 179.6,706.6 181.1,705.9 182.6,705 184.1,704 185.6,702.8 187.1,701.6 187.5,701.3 188.6,700.5 190.1,699.2 191.6,697.8 193.1,696.3 194.6,694.6 195.9,692.9 196.1,692.7 197.6,690.6 199.1,688.1 200.6,685.4 202.1,682.2 202.9,680.3 203.6,678.6 205.1,674.1 206.6,668.8 208.1,662.6 208.5,660.7 209.6,654.6 211.1,644.1 212.6,633.4 212.7,632.8 214.1,623.3 215.6,613.1 216.9,604.8 217.1,603.4 218.6,593.2 220.1,583.9 221.1,579.6 221.6,577.9 223.1,573.7 223.9,572.6 224.6,572 226.1,571 227.6,570.2 229.1,569.5 230.6,569.1 232.1,569 232.3,569 233.6,569.2 235.1,569.8 236.6,570.7 238.1,571.8 239.3,572.6 239.6,573 241.1,575.1 242.6,577.9 244.1,580.6 245.6,582.2 246.3,582.4 247.1,582.1 248.6,580.4 250.1,577.7 251.6,574.5 251.9,574 253.1,569.7 254.6,563 256.1,558.7 256.2,558.5 257.7,556.6 259.2,555.3 260.7,554.1 261.7,553.1 262.2,552.4 263.7,549.8 265.2,547.8 265.8,547.5 266.7,547.6 268.2,548.5 269.7,549.8 271.2,551.1 272.7,551.6 272.8,551.7 274.2,551.7 275.7,551.7 277.2,551.7 278.7,551.7 280.2,551.7 281.2,551.7 281.7,551.7 283.2,553 284.7,555.3 286.2,557.9 287.7,560.1 289.2,561.4 289.6,561.4 290.7,559.5 292.2,552.3 293.7,543.9 293.8,543.3 295.2,536.7 296.7,528.8 298,520.9 298.2,519.7 299.7,507.7 300.8,498.5 301.2,495.7 302.7,484.8 303.6,478.9 304.2,475.4 305.7,467.1 306.4,464.9 307.2,464 308.7,462.9 309.2,462.1 310.2,441.5 311.2,423 311.7,423.7 313.2,431.4 314,437 314.7,445.1 316.2,470 316.8,478.9 317.7,493.7 319.2,517.2 320.4,534.9 320.7,539.4 322.2,560.6 323.7,580.3 324.6,590.8 325.2,597.8 326.7,613.2 328.2,627.5 328.8,632.8 329.7,641.6 331.2,655.4 332.7,667.4 333,669.1 334.2,677.3 335.7,686 337.2,691.5 337.2,691.6 338.7,694.7 340.2,697 341.7,698.8 342.8,699.9 343.2,700.4 344.7,701.8 346.2,703.1 347.7,704.2 349.2,705.2 349.8,705.5 350.7,706.1 352.2,707.1 353.7,708.1 355.2,708.9 356.7,709.5 358.2,709.7 358.2,709.7 359.7,709.7 361.2,709.7 362.7,709.7 364.3,709.6 365.8,709.5 367.3,709.4 368.8,709.2 370.3,709 371.8,708.7 373.3,708.3" fill="none" stroke="#E69F00" stroke-width="2.9" stroke-linejoin="round"/>
<polyline points="124,713.3 125.5,712.5 127,711.7 128.5,711 130,710.3 131.5,709.7 133,709.2 134.5,708.7 136,708.3 137.5,707.9 139,707.6 140.5,707.3 142,707 143.5,706.8 145,706.6 146.5,706.5 148.1,706.4 149.6,706.3 151.1,706.2 152.6,706.1 154.1,706.1 155.6,706.1 157.1,706.1 158.6,706.1 159,706.1 160.1,706.1 161.6,706.4 163.1,706.9 164.6,707.6 166.1,708.4 167.6,709.2 169.1,710.1 170.6,711 172.1,711.7 173.6,712.4 175.1,712.9 176.6,713.3 177.7,713.3 178.1,713.3 179.6,713.2 181.1,713 182.6,712.6 184.1,712.1 185.6,711.4 187.1,710.7 188.6,710 190.1,709.1 191.6,708.2 193.1,707.3 194.6,706.3 195.9,705.5 196.1,705.4 197.6,704.3 199.1,703 200.6,701.4 202.1,699.8 203.6,698 205.1,696 206.6,694.1 208.1,692.1 208.5,691.5 209.6,689.9 211.1,687.3 212.6,684.6 214.1,681.8 215.6,679.3 216.9,677.5 217.1,677.3 218.6,675.3 220.1,673.4 221.6,672.2 222.5,671.9 223.1,672.4 224.6,675.9 226.1,679.6 226.7,680.3 227.6,681 229.1,681.8 230.6,682.5 232.1,683 233.6,683.1 233.7,683.1 235.1,683 236.6,682.8 238.1,682.4 239.6,682 241.1,681.4 242.6,680.7 243.5,680.3 244.1,679.9 245.6,678.6 247.1,676.7 248.6,674.6 250.1,672.4 250.5,671.9 251.6,670.1 253.1,667.4 254.6,664.5 256.2,661.7 257.5,659.3 257.7,659 259.2,656 260.7,652.9 262.2,650.1 263.7,648.4 264.4,648.2 265.2,648.3 266.7,649.4 268.2,651 269.7,652.6 271.2,653.7 271.4,653.8 272.7,654.1 274.2,654.5 275.7,654.8 277.2,655 278.7,655.1 279.8,655.2 280.2,655.2 281.7,655.2 283.2,655.2 284.7,655.2 286.2,655.2 286.8,655.2 287.7,655.5 289.2,657.2 290.7,659.9 292.2,663.1 293.7,666.1 293.8,666.3 295.2,668.9 296.7,672 298.2,675.2 299.7,678.2 300.8,680.3 301.2,681 302.7,683.5 304.2,685.9 305.7,688.2 307.2,690.6 307.8,691.5 308.7,693 310.2,695.5 311.7,698 313.2,700.4 314.7,702.6 314.8,702.7 316.2,704.6 317.7,706.6 319.2,708.4 320.7,709.8 321.8,710.5 322.2,710.8 323.7,711.5 325.2,712.2 326.7,712.7 328.2,713.1 329.7,713.3 330.2,713.3 331.2,713.3 332.7,713.3 334.2,713.3 335.7,713.3 337.2,713.3 338.7,713.3 340.2,713.3 341.7,713.3 343.2,713.3 344.7,713.3 346.2,713.3 347.7,713.3 349.2,713.3 350.7,713.3 352.2,713.3 353.7,713.3 355.2,713.3 356.7,713.3 358.2,713.3 359.7,713.3 361.2,713.3 362.7,713.3 364.3,713.3 365.8,713.3 367.3,713.3 368.8,713.3 370.3,713.3 371.8,713.3 373.3,713.3" fill="none" stroke="#E69F00" stroke-width="2.9" stroke-linejoin="round"/>
<polyline points="124,712.5 125,712.5 126,712.4 127,712.4 128,712.3 129,712.2 130,712.1 131,711.9 132,711.8 133,711.6 134,711.5 135,711.3 136,711.1 137,710.9 138,710.6 139,710.4 140,710.1 141,709.6 142,709.1 143,708.6 144,708 145,707.4 146,706.8 147,706.3 148.1,705.7 149.1,705.3 150.1,704.8 151.1,704.4 152.1,704 153.1,703.6 154.1,703.2 155.1,702.9 156.1,702.6 157.1,702.4 158.1,702.3 159.1,702.3 160.1,702.5 161.1,702.9 162.1,703.5 163.1,704.3 164.1,705.1 165.1,705.9 166.1,706.7 167.1,707.3 168.1,707.7 169.1,708.1 170.1,708.4 171.1,708.6 172.1,708.9 173.1,709.1 174.1,709.3 175.1,709.5 176.1,709.6 177.1,709.6 178.1,709.3 179.1,708.7 180.1,707.9 181.1,707.2 182.1,706.6 183.1,706.1 184.1,705.7 185.1,705.3 186.1,704.8 187.1,704.4 188.1,703.9 189.1,703.3 190.1,702.7 191.1,702 192.1,701.2 193.1,700.3 194.1,699.3 195.1,698.3 196.1,697.2 197.1,696.1 198.1,694.9 199.1,693.6 200.1,692.3 201.1,691 202.1,689.5 203.1,688 204.1,686.3 205.1,684.6 206.1,682.7 207.1,680.8 208.1,678.7 209.1,676.5 210.1,674.1 211.1,671.6 212.1,668.9 213.1,665.8 214.1,662.5 215.1,659.2 216.1,656.4 217.1,654 218.1,652.1 219.1,650.5 220.1,649.2 221.1,648.2 222.1,647.3 223.1,646.7 224.1,646.3 225.1,646.6 226.1,647.7 227.1,649.2 228.1,650.1 229.1,649.7 230.1,648.2 231.1,645.8 232.1,642.7 233.1,639.2 234.1,635.2 235.1,631 236.1,626.5 237.1,621.9 238.1,617 239.1,612.4 240.1,608.8 241.1,606.5 242.1,605.1 243.1,604 244.1,603 245.1,601.9 246.1,600.9 247.1,599.9 248.1,598.9 249.1,598 250.1,597.1 251.1,596.3 252.1,595.5 253.1,594.6 254.1,593.7 255.1,592.7 256.2,591.6 257.2,590.4 258.2,589.1 259.2,587.7 260.2,586.3 261.2,585.1 262.2,584.4 263.2,584.2 264.2,584.3 265.2,584.6 266.2,584.9 267.2,585.6 268.2,586.7 269.2,588.2 270.2,590 271.2,591.9 272.2,594.1 273.2,596.5 274.2,598.9 275.2,601.3 276.2,603.3 277.2,605 278.2,606.5 279.2,607.9 280.2,609.2 281.2,610.5 282.2,611.9 283.2,613.3 284.2,614.8 285.2,616.1 286.2,617.1 287.2,617.7 288.2,617.9 289.2,618 290.2,618 291.2,618 292.2,618.3 293.2,619.3 294.2,621.5 295.2,624.5 296.2,627.6 297.2,630.6 298.2,633.5 299.2,636 300.2,638 301.2,639.9 302.2,641.8 303.2,644.1 304.2,646.8 305.2,650.1 306.2,653.6 307.2,657 308.2,660.1 309.2,662.9 310.2,665.6 311.2,668.1 312.2,670.4 313.2,672.6 314.2,674.7 315.2,676.7 316.2,678.6 317.2,680.5 318.2,682.4 319.2,684.3 320.2,686.1 321.2,687.9 322.2,689.6 323.2,691.2 324.2,692.7 325.2,694.2 326.2,695.6 327.2,696.9 328.2,698.2 329.2,699.3 330.2,700.4 331.2,701.3 332.2,702 333.2,702.7 334.2,703.3 335.2,703.8 336.2,704.4 337.2,704.9 338.2,705.6 339.2,706.4 340.2,707.4 341.2,708.6 342.2,709.8 343.2,710.6 344.2,711 345.2,711.4 346.2,711.7 347.2,711.9 348.2,712.1 349.2,712.3 350.2,712.4 351.2,712.4 352.2,712.5 353.2,712.5 354.2,712.5 355.2,712.5 356.2,712.5 357.2,712.5 358.2,712.5 359.2,712.5 360.2,712.5 361.2,712.5 362.2,712.4 363.2,712.4 364.3,712.4 365.3,712.4 366.3,712.3 367.3,712.3 368.3,712.2 369.3,712.2 370.3,712.1 371.3,712.1 372.3,712 373.3,712" fill="none" stroke="#000000" stroke-width="9.3" stroke-linejoin="round"/>
<text transform="translate(234.6,441.4) scale(1,1.04)" font-family="'Liberation Sans', Arial, sans-serif" font-size="38" text-anchor="middle" fill="#000000">n = 60</text>
<path d="M111.9 408.5h1.7v331h-1.7zM111.9 408.5h273.9v1.7h-273.9zM383.2 408.5h2.7v331h-2.7zM111.9 736.8h273.9v2.7h-273.9z" fill="#1e1e1e"/>
</g>
<g>
<path d="M406.6 665.3H673.5M406.6 569.5H673.5M406.6 473.7H673.5M415.9 411.5V735.5M471.1 411.5V735.5M526.3 411.5V735.5M581.5 411.5V735.5M636.7 411.5V735.5" stroke="#EBEBEB" stroke-width="1.5" fill="none"/>
<path d="M406.6 713.2H673.5M406.6 617.4H673.5M406.6 521.6H673.5M406.6 425.8H673.5M443.5 411.5V735.5M498.7 411.5V735.5M553.9 411.5V735.5M609.1 411.5V735.5M664.3 411.5V735.5" stroke="#EBEBEB" stroke-width="2.9" fill="none"/>
<rect x="499.3" y="431.1" width="32.1" height="281.3" fill="rgba(211,211,211,0.5)"/>
<rect x="537.4" y="431.1" width="33.1" height="281.3" fill="rgba(248,203,173,0.5)"/>
<rect x="570.5" y="431.1" width="44.2" height="281.3" fill="rgba(193,220,238,0.5)"/>
<polygon points="415.5,712.1 417,711.9 418.5,711.6 420,711.2 421.5,710.9 423,710.5 424.5,710 426,709.6 427.5,709.1 429,708.6 430.5,708.1 432,707.5 433.5,707 435,706.4 436.5,705.8 438,705.2 439.5,704.6 440.4,704.2 441,703.9 442.5,703 444,702 445.5,700.9 447,700 448.5,699.3 450,698.9 450.3,698.9 451.5,699.1 453,699.8 454.5,700.7 456,701.8 457.5,702.9 459,703.7 459.1,703.8 460.5,704.4 462,705.2 463.5,705.9 465,706.5 466.5,706.9 467.9,707.1 468,707.1 469.5,706.9 471,706.5 472.5,705.9 474,705.2 475.5,704.4 476.7,703.8 477,703.6 478.5,702.6 480,701.3 481.5,699.7 483,698 484.5,696.2 485.5,695 486,694.3 487.5,692.3 489,690 490.5,687.4 492,684.5 493.2,681.7 493.5,681 495,676.7 496.5,671.4 498,665.1 499.2,659.7 499.5,657.9 501,648.3 502.5,637.5 503.2,633.3 504,627.3 505.5,616.8 507,607.4 507.6,604.6 508.5,599.9 510,593.3 511.5,588.1 512,587 513,584.7 514.5,582.4 516.1,579.9 516.4,579.3 517.6,576.2 519.1,571.5 520.6,568.4 520.8,568.2 522.1,567.8 523.6,567.6 525.1,567.2 525.2,567.1 526.6,565.9 528.1,563.9 529.6,562.4 530,562.3 531.1,563 532.6,565.6 534.1,568.3 535.1,569.3 535.6,569.5 537.1,570 538.6,570.3 540.1,570.4 540.6,570.4 541.6,570.1 543.1,568.7 544.6,566.6 546.1,564.7 547.2,563.8 547.6,563.7 549.1,563.2 550.6,562.8 552.1,562.5 553.6,562.1 554.9,561.6 555.1,561.6 556.6,560.2 558.1,558.2 559.6,556.2 561.1,555.1 561.6,555 562.6,555.9 564.1,559.1 565.6,561.5 566,561.6 567.1,561.5 568.6,560.9 570.1,560.5 570.4,560.5 571.6,561.4 573.1,563.9 574.6,567.1 575.9,569.3 576.1,569.7 577.6,572 579.1,574.3 580.6,575.7 581.4,576 582.1,575 583.6,569.5 584.7,566 585.1,565.2 586.6,562.7 587.3,562.3 588.1,562.9 589.6,566.5 591.1,571 591.3,571.6 592.6,575.2 594.1,579.7 595.6,584.7 596.8,589.2 597.1,590.4 598.6,597.6 600.1,605.5 601.2,611.2 601.6,613.3 603.1,620.9 604.6,628.4 605.6,633.3 606.1,635.6 607.6,642.7 609.1,649.4 610,653.1 610.6,655.4 612.1,661 613.6,666.1 614.4,668.5 615.1,670.5 616.6,674.4 618.1,677.9 619.6,681.1 620,681.7 621.1,684 622.6,686.8 624.2,689.3 625.7,691.5 626.6,692.8 627.2,693.5 628.7,695.2 630.2,696.7 631.7,698.1 633.2,699.3 633.2,699.4 634.7,700.5 636.2,701.5 637.7,702.4 639.2,703.4 639.8,703.8 640.7,704.4 642.2,705.7 643.7,707 645.2,707.9 646.4,708.2 646.7,708.2 648.2,708.2 649.7,708.2 651.2,708.2 652.7,708.2 654.2,708.2 655.7,708.2 657.2,708.2 658.7,708.2 660.2,708.2 661.7,708.2 663.2,708.2 664.7,708.2 664.7,713.9 663.2,713.9 661.7,713.9 660.2,713.9 658.7,713.9 657.2,713.9 655.7,713.9 654.2,713.9 652.7,713.9 651.2,713.9 649.7,713.9 648.2,713.9 646.7,713.9 645.2,713.9 643.7,713.9 642.2,713.9 640.7,713.9 639.2,713.9 637.7,713.9 636.2,713.9 634.7,713.9 633.2,713.9 631.7,713.9 630.2,713.9 628.7,713.9 627.2,713.9 625.7,713.9 624.4,713.9 624.2,713.9 622.6,713.8 621.1,713.5 619.6,713.2 618.1,712.7 616.6,712.1 616.6,712.1 615.1,711.3 613.6,710 612.1,708.3 610.6,706.6 610,706 609.1,704.9 607.6,703.1 606.1,701.1 604.6,698.9 603.4,697.2 603.1,696.7 601.6,694.3 600.1,691.8 598.6,689.2 597.1,686.7 596.8,686.1 595.6,684.2 594.1,681.7 592.6,679.3 591.1,676.7 590.2,675.1 589.6,674 588.1,671.1 586.6,668.1 585.1,665 583.6,661.9 583.6,661.9 582.1,658.9 580.6,655.9 579.1,652.9 577.6,649.9 577,648.7 576.1,646.9 574.6,644 573.1,641.1 571.6,638.1 570.4,635.5 570.1,634.9 568.6,631.4 567.1,627.8 565.6,624 564.9,622.2 564.1,620.3 562.6,616.3 561.1,612.6 560.5,611.2 559.6,609.3 558.1,606.4 557.2,605.7 556.6,606 555.1,608.9 553.8,611.2 553.6,611.5 552.1,613 550.6,614.2 549.1,615.7 548.3,616.7 547.6,618.1 546.1,622.1 544.6,626.8 543.9,628.8 543.1,631.6 541.6,636.7 540.1,642.2 539.5,644.3 538.6,648.1 537.1,654.5 535.6,660.4 535.1,661.9 534.1,665.3 532.6,670.1 531.1,672.8 530.7,672.9 529.6,672.3 528.1,670.9 527.4,670.7 526.6,670.9 525.1,671.9 523.6,672.8 523,672.9 522.1,672.7 520.6,671.9 519.1,670.9 518.6,670.7 517.6,670.2 516.1,669.4 514.5,668.8 513.1,668.5 513,668.5 511.5,670.3 510,674 508.7,677.3 508.5,677.6 507,680.6 505.5,683.7 504.3,686.1 504,686.6 502.5,689.4 501,692.1 499.5,694.5 499.2,695 498,696.5 496.5,698.2 495,699.8 493.5,701.3 493.2,701.6 492,702.8 490.5,704.3 489,705.7 487.5,707 486,707.9 485.5,708.2 484.5,708.6 483,709.3 481.5,709.9 480,710.5 478.5,711 477,711.5 475.5,711.9 474,712.3 472.5,712.6 471,712.8 469.5,713 468,713 467.9,713 466.5,712.9 465,712.7 463.5,712.3 462,711.8 460.5,711.2 459,710.6 457.5,709.9 456,709.4 454.5,708.9 453,708.5 451.5,708.2 450.3,708.2 450,708.2 448.5,708.2 447,708.2 445.5,708.2 444,708.2 442.5,708.3 441,708.4 439.5,708.4 438,708.5 436.5,708.7 435,708.8 433.5,709 432,709.2 430.5,709.4 429,709.7 427.5,710 426,710.3 424.5,710.7 423,711.1 421.5,711.6 420,712.1 418.5,712.6 417,713.2 415.5,713.9" fill="#E69F00" fill-opacity="0.5" stroke="none"/>
<polyline points="415.5,712.1 417,711.9 418.5,711.6 420,711.2 421.5,710.9 423,710.5 424.5,710 426,709.6 427.5,709.1 429,708.6 430.5,708.1 432,707.5 433.5,707 435,706.4 436.5,705.8 438,705.2 439.5,704.6 440.4,704.2 441,703.9 442.5,703 444,702 445.5,700.9 447,700 448.5,699.3 450,698.9 450.3,698.9 451.5,699.1 453,699.8 454.5,700.7 456,701.8 457.5,702.9 459,703.7 459.1,703.8 460.5,704.4 462,705.2 463.5,705.9 465,706.5 466.5,706.9 467.9,707.1 468,707.1 469.5,706.9 471,706.5 472.5,705.9 474,705.2 475.5,704.4 476.7,703.8 477,703.6 478.5,702.6 480,701.3 481.5,699.7 483,698 484.5,696.2 485.5,695 486,694.3 487.5,692.3 489,690 490.5,687.4 492,684.5 493.2,681.7 493.5,681 495,676.7 496.5,671.4 498,665.1 499.2,659.7 499.5,657.9 501,648.3 502.5,637.5 503.2,633.3 504,627.3 505.5,616.8 507,607.4 507.6,604.6 508.5,599.9 510,593.3 511.5,588.1 512,587 513,584.7 514.5,582.4 516.1,579.9 516.4,579.3 517.6,576.2 519.1,571.5 520.6,568.4 520.8,568.2 522.1,567.8 523.6,567.6 525.1,567.2 525.2,567.1 526.6,565.9 528.1,563.9 529.6,562.4 530,562.3 531.1,563 532.6,565.6 534.1,568.3 535.1,569.3 535.6,569.5 537.1,570 538.6,570.3 540.1,570.4 540.6,570.4 541.6,570.1 543.1,568.7 544.6,566.6 546.1,564.7 547.2,563.8 547.6,563.7 549.1,563.2 550.6,562.8 552.1,562.5 553.6,562.1 554.9,561.6 555.1,561.6 556.6,560.2 558.1,558.2 559.6,556.2 561.1,555.1 561.6,555 562.6,555.9 564.1,559.1 565.6,561.5 566,561.6 567.1,561.5 568.6,560.9 570.1,560.5 570.4,560.5 571.6,561.4 573.1,563.9 574.6,567.1 575.9,569.3 576.1,569.7 577.6,572 579.1,574.3 580.6,575.7 581.4,576 582.1,575 583.6,569.5 584.7,566 585.1,565.2 586.6,562.7 587.3,562.3 588.1,562.9 589.6,566.5 591.1,571 591.3,571.6 592.6,575.2 594.1,579.7 595.6,584.7 596.8,589.2 597.1,590.4 598.6,597.6 600.1,605.5 601.2,611.2 601.6,613.3 603.1,620.9 604.6,628.4 605.6,633.3 606.1,635.6 607.6,642.7 609.1,649.4 610,653.1 610.6,655.4 612.1,661 613.6,666.1 614.4,668.5 615.1,670.5 616.6,674.4 618.1,677.9 619.6,681.1 620,681.7 621.1,684 622.6,686.8 624.2,689.3 625.7,691.5 626.6,692.8 627.2,693.5 628.7,695.2 630.2,696.7 631.7,698.1 633.2,699.3 633.2,699.4 634.7,700.5 636.2,701.5 637.7,702.4 639.2,703.4 639.8,703.8 640.7,704.4 642.2,705.7 643.7,707 645.2,707.9 646.4,708.2 646.7,708.2 648.2,708.2 649.7,708.2 651.2,708.2 652.7,708.2 654.2,708.2 655.7,708.2 657.2,708.2 658.7,708.2 660.2,708.2 661.7,708.2 663.2,708.2 664.7,708.2" fill="none" stroke="#E69F00" stroke-width="2.9" stroke-linejoin="round"/>
<polyline points="415.5,713.9 417,713.2 418.5,712.6 420,712.1 421.5,711.6 423,711.1 424.5,710.7 426,710.3 427.5,710 429,709.7 430.5,709.4 432,709.2 433.5,709 435,708.8 436.5,708.7 438,708.5 439.5,708.4 441,708.4 442.5,708.3 444,708.2 445.5,708.2 447,708.2 448.5,708.2 450,708.2 450.3,708.2 451.5,708.2 453,708.5 454.5,708.9 456,709.4 457.5,709.9 459,710.6 460.5,711.2 462,711.8 463.5,712.3 465,712.7 466.5,712.9 467.9,713 468,713 469.5,713 471,712.8 472.5,712.6 474,712.3 475.5,711.9 477,711.5 478.5,711 480,710.5 481.5,709.9 483,709.3 484.5,708.6 485.5,708.2 486,707.9 487.5,707 489,705.7 490.5,704.3 492,702.8 493.2,701.6 493.5,701.3 495,699.8 496.5,698.2 498,696.5 499.2,695 499.5,694.5 501,692.1 502.5,689.4 504,686.6 504.3,686.1 505.5,683.7 507,680.6 508.5,677.6 508.7,677.3 510,674 511.5,670.3 513,668.5 513.1,668.5 514.5,668.8 516.1,669.4 517.6,670.2 518.6,670.7 519.1,670.9 520.6,671.9 522.1,672.7 523,672.9 523.6,672.8 525.1,671.9 526.6,670.9 527.4,670.7 528.1,670.9 529.6,672.3 530.7,672.9 531.1,672.8 532.6,670.1 534.1,665.3 535.1,661.9 535.6,660.4 537.1,654.5 538.6,648.1 539.5,644.3 540.1,642.2 541.6,636.7 543.1,631.6 543.9,628.8 544.6,626.8 546.1,622.1 547.6,618.1 548.3,616.7 549.1,615.7 550.6,614.2 552.1,613 553.6,611.5 553.8,611.2 555.1,608.9 556.6,606 557.2,605.7 558.1,606.4 559.6,609.3 560.5,611.2 561.1,612.6 562.6,616.3 564.1,620.3 564.9,622.2 565.6,624 567.1,627.8 568.6,631.4 570.1,634.9 570.4,635.5 571.6,638.1 573.1,641.1 574.6,644 576.1,646.9 577,648.7 577.6,649.9 579.1,652.9 580.6,655.9 582.1,658.9 583.6,661.9 583.6,661.9 585.1,665 586.6,668.1 588.1,671.1 589.6,674 590.2,675.1 591.1,676.7 592.6,679.3 594.1,681.7 595.6,684.2 596.8,686.1 597.1,686.7 598.6,689.2 600.1,691.8 601.6,694.3 603.1,696.7 603.4,697.2 604.6,698.9 606.1,701.1 607.6,703.1 609.1,704.9 610,706 610.6,706.6 612.1,708.3 613.6,710 615.1,711.3 616.6,712.1 616.6,712.1 618.1,712.7 619.6,713.2 621.1,713.5 622.6,713.8 624.2,713.9 624.4,713.9 625.7,713.9 627.2,713.9 628.7,713.9 630.2,713.9 631.7,713.9 633.2,713.9 634.7,713.9 636.2,713.9 637.7,713.9 639.2,713.9 640.7,713.9 642.2,713.9 643.7,713.9 645.2,713.9 646.7,713.9 648.2,713.9 649.7,713.9 651.2,713.9 652.7,713.9 654.2,713.9 655.7,713.9 657.2,713.9 658.7,713.9 660.2,713.9 661.7,713.9 663.2,713.9 664.7,713.9" fill="none" stroke="#E69F00" stroke-width="2.9" stroke-linejoin="round"/>
<polyline points="415.5,713 416.5,713 417.5,713 418.5,712.9 419.5,712.9 420.5,712.8 421.5,712.7 422.5,712.6 423.5,712.5 424.5,712.4 425.5,712.3 426.5,712.1 427.5,712 428.5,711.8 429.5,711.6 430.5,711.4 431.5,711.2 432.5,710.8 433.5,710.3 434.5,709.7 435.5,709.1 436.5,708.5 437.5,707.9 438.5,707.3 439.5,706.8 440.5,706.4 441.5,706 442.5,705.6 443.5,705.3 444.5,704.9 445.5,704.6 446.5,704.3 447.5,704.1 448.5,703.9 449.5,703.8 450.5,703.9 451.5,704 452.5,704.4 453.5,704.8 454.5,705.4 455.5,706 456.5,706.6 457.5,707.1 458.5,707.5 459.5,707.8 460.5,708.1 461.5,708.3 462.5,708.6 463.5,708.8 464.5,709 465.5,709.1 466.5,709.2 467.5,709.2 468.5,709.2 469.5,709.1 470.5,709 471.5,708.8 472.5,708.5 473.5,708.2 474.5,707.9 475.5,707.5 476.5,707.1 477.5,706.7 478.5,706.2 479.5,705.5 480.5,704.8 481.5,704.1 482.5,703.2 483.5,702.3 484.5,701.4 485.5,700.5 486.5,699.5 487.5,698.4 488.5,697.3 489.5,696 490.5,694.7 491.5,693.3 492.5,691.7 493.5,689.9 494.5,687.8 495.5,685.5 496.5,682.9 497.5,680.1 498.5,677.1 499.5,673.8 500.5,670.3 501.5,666.4 502.5,662.4 503.5,658.2 504.5,654.1 505.5,649.8 506.5,645.6 507.5,641.7 508.5,638.3 509.5,635.6 510.5,633.4 511.5,631.8 512.5,630.9 513.5,630.4 514.5,630 515.6,629.7 516.6,629.2 517.6,628 518.6,625.7 519.6,622.5 520.6,619 521.6,615.9 522.6,613.2 523.6,610.8 524.6,608.3 525.6,605.6 526.6,602.8 527.6,599.9 528.6,597.6 529.6,596.3 530.6,595.6 531.6,595.4 532.6,595.2 533.6,595.1 534.6,595 535.6,594.8 536.6,594.6 537.6,594.3 538.6,593.9 539.6,593.5 540.6,593.1 541.6,592.7 542.6,592.2 543.6,591.7 544.6,591.2 545.6,590.6 546.6,590 547.6,589.3 548.6,588.6 549.6,588 550.6,587.5 551.6,587 552.6,586.7 553.6,586.4 554.6,586.2 555.6,586 556.6,586 557.6,586.1 558.6,586.5 559.6,587.2 560.6,588.2 561.6,589.5 562.6,591.4 563.6,593.8 564.6,596.5 565.6,599.1 566.6,601.5 567.6,603.7 568.6,605.7 569.6,607.7 570.6,609.6 571.6,611.4 572.6,613.2 573.6,614.9 574.6,616.5 575.6,618.1 576.6,619.8 577.6,621.4 578.6,623.2 579.6,624.9 580.6,626.7 581.6,628.5 582.6,630.3 583.6,632.2 584.6,634.2 585.6,636.4 586.6,638.6 587.6,640.9 588.6,643.3 589.6,645.7 590.6,648.1 591.6,650.6 592.6,653 593.6,655.5 594.6,658.1 595.6,660.6 596.6,663.1 597.6,665.6 598.6,668 599.6,670.5 600.6,672.9 601.6,675.2 602.6,677.6 603.6,679.8 604.6,681.9 605.6,684 606.6,686 607.6,687.9 608.6,689.7 609.6,691.5 610.6,693 611.6,694.5 612.6,695.9 613.6,697.2 614.6,698.4 615.6,699.5 616.6,700.5 617.6,701.4 618.6,702.3 619.6,703 620.6,703.7 621.6,704.4 622.6,705 623.6,705.6 624.7,706.1 625.7,706.7 626.7,707.2 627.7,707.7 628.7,708.2 629.7,708.7 630.7,709.1 631.7,709.6 632.7,710 633.7,710.4 634.7,710.8 635.7,711.2 636.7,711.6 637.7,711.8 638.7,712 639.7,712.1 640.7,712.1 641.7,712.1 642.7,712.1 643.7,712.1 644.7,712.1 645.7,712.1 646.7,712.1 647.7,712.1 648.7,712.1 649.7,712.1 650.7,712.1 651.7,712.1 652.7,712 653.7,712 654.7,712 655.7,712 656.7,711.9 657.7,711.9 658.7,711.9 659.7,711.8 660.7,711.7 661.7,711.7 662.7,711.6 663.7,711.6 664.7,711.5" fill="none" stroke="#000000" stroke-width="9.3" stroke-linejoin="round"/>
<text transform="translate(526.3,441.4) scale(1,1.04)" font-family="'Liberation Sans', Arial, sans-serif" font-size="38" text-anchor="middle" fill="#000000">n = 55</text>
<path d="M403.6 408.5h1.7v331h-1.7zM403.6 408.5h273.9v1.7h-273.9zM674.8 408.5h2.7v331h-2.7zM403.6 736.8h273.9v2.7h-273.9z" fill="#1e1e1e"/>
</g>
<g>
<path d="M698.2 665.3H965.2M698.2 569.5H965.2M698.2 473.7H965.2M707.6 411.5V735.5M762.8 411.5V735.5M818 411.5V735.5M873.2 411.5V735.5M928.4 411.5V735.5" stroke="#EBEBEB" stroke-width="1.5" fill="none"/>
<path d="M698.2 713.2H965.2M698.2 617.4H965.2M698.2 521.6H965.2M698.2 425.8H965.2M735.2 411.5V735.5M790.4 411.5V735.5M845.6 411.5V735.5M900.8 411.5V735.5M956 411.5V735.5" stroke="#EBEBEB" stroke-width="2.9" fill="none"/>
<rect x="790.9" y="431.1" width="32.1" height="281.3" fill="rgba(211,211,211,0.5)"/>
<rect x="829" y="431.1" width="33.1" height="281.3" fill="rgba(248,203,173,0.5)"/>
<rect x="862.2" y="431.1" width="44.2" height="281.3" fill="rgba(193,220,238,0.5)"/>
<polygon points="707.5,712.1 709,711.8 710.5,711.4 712,710.9 713.5,710.5 715,710 716.5,709.5 718,709 719.5,708.5 721,707.9 722.5,707.4 724,706.8 725.5,706.2 727,705.6 728.5,705 730,704.3 731.5,703.7 732.4,703.3 733,703 734.5,702.1 736,701.1 737.5,700.1 739,699.2 740.5,698.6 742,698.3 742.3,698.3 743.5,698.5 745.1,699.2 746.6,700.2 748.1,701.3 749.6,702.4 751.1,703.3 751.1,703.3 752.6,704.1 754.1,705 755.6,705.8 757.1,706.5 758.6,706.9 759.9,707.1 760.1,707.1 761.6,706.8 763.1,706.3 764.6,705.5 766.1,704.5 767.6,703.4 768.7,702.7 769.1,702.4 770.6,701.2 772.1,699.8 773.6,698.1 775.1,696.2 776.6,694.1 777.5,692.8 778.1,691.7 779.6,688.8 781.1,685.3 782.6,681.2 784.2,676.6 785.2,672.9 785.7,671.4 787.2,665.2 788.7,657.7 790.2,648.9 791.2,642.1 791.7,638.4 793.2,623.9 794.7,607.5 795.2,602.4 796.2,591.6 797.7,575.4 798.5,567.1 799.2,558.9 800.7,542.4 801.3,538.5 802.2,535.4 803.7,531.5 805.1,530.1 805.2,530.1 806.7,531 808.2,532.7 809.5,534.1 809.7,534.3 811.2,535.3 812.7,536.3 814.2,537.6 815,538.5 815.7,540.2 817.2,545.9 818.3,549.5 818.7,550.6 820.2,553.7 821.7,556.5 822.7,558.3 823.3,559.5 824.8,562.9 826.3,566.2 827.8,568.8 828.2,569.3 829.3,570.5 830.8,571.9 832.3,573.1 833.8,573.9 834.8,574.2 835.3,574.3 836.8,574.5 838.3,574.6 839.8,574.8 841.3,574.8 842.5,574.9 842.8,574.8 844.3,573.3 845.8,570.6 847.3,568.6 848,568.2 848.8,568.3 850.3,568.9 851.8,570 853.3,571.3 853.6,571.6 854.8,573.4 856.3,576.7 857.8,580.1 858,580.4 859.3,583.3 860.8,586.5 862.4,589.5 863.5,591.4 863.9,591.9 865.4,593.8 866.9,595.4 868.4,597 869.9,598.8 870.1,599.1 871.4,601 872.9,603.6 874.4,606.4 875.9,609.5 876.7,611.2 877.4,612.8 878.9,616.5 880.4,620.6 881.9,624.8 883.3,628.8 883.4,629.1 884.9,633.5 886.4,638.1 887.9,642.8 889.4,647.2 889.9,648.7 890.9,651.5 892.4,655.7 893.9,659.7 895.4,663.6 896.5,666.3 896.9,667.3 898.4,670.9 899.9,674.4 901.4,677.6 903,680.3 903.1,680.6 904.5,682.5 906,684.4 907.5,686 909,687.6 909.8,688.3 910.5,689 912,690.4 913.5,691.6 915,692.8 916.4,693.9 916.5,694 918,695.1 919.5,696.3 921,697.5 922.5,698.6 924,699.7 925.2,700.5 925.5,700.7 927,701.7 928.5,702.7 930,703.7 931.5,704.7 933,705.5 934,706 934.5,706.2 936,707 937.5,707.7 939,708.4 940.5,708.9 942.1,709.2 942.8,709.3 943.6,709.3 945.1,709.3 946.6,709.2 948.1,709.1 949.6,708.9 951.1,708.6 952.6,708.3 954.1,707.7 955.6,707.1 955.6,713.9 954.1,713.9 952.6,713.9 951.1,713.9 949.6,713.9 948.1,713.9 946.6,713.9 945.1,713.9 943.6,713.9 942.1,713.9 940.5,713.9 939,713.8 937.5,713.8 936,713.8 934.5,713.8 933,713.8 931.5,713.8 930,713.7 928.5,713.7 927,713.7 925.5,713.7 924,713.6 922.5,713.6 921,713.6 919.5,713.5 918,713.5 916.5,713.5 916.4,713.5 915,713.4 913.5,713.1 912,712.7 910.5,712.2 909,711.6 908.6,711.5 907.5,710.9 906,709.7 904.5,708.3 903,706.8 902,706 901.4,705.4 899.9,704.1 898.4,702.7 896.9,701.1 895.4,699.4 895.4,699.4 893.9,697.2 892.4,694.7 890.9,692 889.4,689.4 888.8,688.3 887.9,686.8 886.4,684.4 884.9,681.9 883.4,679.4 882.2,677.3 881.9,676.8 880.4,673.8 878.9,670.6 877.4,667.7 875.9,665.5 875.6,665.2 874.4,664.2 872.9,663.3 871.4,662.5 869.9,661.5 869,660.8 868.4,660.2 866.9,658.3 865.4,656.1 863.9,653.7 863.5,653.1 862.4,651.1 860.8,648.3 859.3,645.2 858,642.1 857.8,641.8 856.3,637.6 854.8,632.9 853.3,628.6 852.5,626.6 851.8,625.4 850.3,622.4 848.8,620.3 848,620 847.3,620 845.8,620 844.3,620 842.8,620 841.3,620 840.3,620 839.8,620.1 838.3,620.4 836.8,621.1 835.3,622.1 833.8,623.3 833.7,623.3 832.3,626.4 830.8,629.8 830.4,629.9 829.3,629 827.8,625.8 826.3,622.6 826,622.2 824.8,620.2 823.3,618.1 822,617.4 821.7,617.5 820.2,620.5 818.7,625.3 818.3,626.6 817.2,630 815.7,635.5 814.2,641 813.9,642.1 812.7,646.5 811.2,651.3 810.6,652 809.7,650.8 808.2,646.9 807.7,646.5 806.7,648.1 805.2,652.8 805.1,653.1 803.7,655.9 802.2,658.8 800.7,661.8 800.7,661.9 799.2,665.3 797.7,669.1 796.3,672.9 796.2,673.1 794.7,677.7 793.2,682.6 791.7,687.1 791.2,688.3 790.2,690.8 788.7,694.3 787.2,697.3 785.7,699.9 785.2,700.5 784.2,701.9 782.6,703.8 781.1,705.4 779.6,706.8 778.1,707.8 777.5,708.2 776.6,708.6 775.1,709.4 773.6,710.1 772.1,710.7 770.6,711.4 769.1,711.9 767.6,712.4 766.1,712.8 764.6,713.2 763.1,713.4 761.6,713.6 760.1,713.7 759.9,713.7 758.6,713.6 757.1,713.3 755.6,712.8 754.1,712.2 752.6,711.5 751.1,710.7 749.6,709.9 748.1,709.2 746.6,708.6 745.1,708.1 743.5,707.8 742.3,707.7 742,707.7 740.5,707.7 739,707.7 737.5,707.8 736,707.8 734.5,707.8 733,707.9 731.5,707.9 730,708 728.5,708.2 727,708.3 725.5,708.5 724,708.7 722.5,708.9 721,709.2 719.5,709.5 718,709.9 716.5,710.3 715,710.8 713.5,711.3 712,711.8 710.5,712.5 709,713.2 707.5,713.9" fill="#E69F00" fill-opacity="0.5" stroke="none"/>
<polyline points="707.5,712.1 709,711.8 710.5,711.4 712,710.9 713.5,710.5 715,710 716.5,709.5 718,709 719.5,708.5 721,707.9 722.5,707.4 724,706.8 725.5,706.2 727,705.6 728.5,705 730,704.3 731.5,703.7 732.4,703.3 733,703 734.5,702.1 736,701.1 737.5,700.1 739,699.2 740.5,698.6 742,698.3 742.3,698.3 743.5,698.5 745.1,699.2 746.6,700.2 748.1,701.3 749.6,702.4 751.1,703.3 751.1,703.3 752.6,704.1 754.1,705 755.6,705.8 757.1,706.5 758.6,706.9 759.9,707.1 760.1,707.1 761.6,706.8 763.1,706.3 764.6,705.5 766.1,704.5 767.6,703.4 768.7,702.7 769.1,702.4 770.6,701.2 772.1,699.8 773.6,698.1 775.1,696.2 776.6,694.1 777.5,692.8 778.1,691.7 779.6,688.8 781.1,685.3 782.6,681.2 784.2,676.6 785.2,672.9 785.7,671.4 787.2,665.2 788.7,657.7 790.2,648.9 791.2,642.1 791.7,638.4 793.2,623.9 794.7,607.5 795.2,602.4 796.2,591.6 797.7,575.4 798.5,567.1 799.2,558.9 800.7,542.4 801.3,538.5 802.2,535.4 803.7,531.5 805.1,530.1 805.2,530.1 806.7,531 808.2,532.7 809.5,534.1 809.7,534.3 811.2,535.3 812.7,536.3 814.2,537.6 815,538.5 815.7,540.2 817.2,545.9 818.3,549.5 818.7,550.6 820.2,553.7 821.7,556.5 822.7,558.3 823.3,559.5 824.8,562.9 826.3,566.2 827.8,568.8 828.2,569.3 829.3,570.5 830.8,571.9 832.3,573.1 833.8,573.9 834.8,574.2 835.3,574.3 836.8,574.5 838.3,574.6 839.8,574.8 841.3,574.8 842.5,574.9 842.8,574.8 844.3,573.3 845.8,570.6 847.3,568.6 848,568.2 848.8,568.3 850.3,568.9 851.8,570 853.3,571.3 853.6,571.6 854.8,573.4 856.3,576.7 857.8,580.1 858,580.4 859.3,583.3 860.8,586.5 862.4,589.5 863.5,591.4 863.9,591.9 865.4,593.8 866.9,595.4 868.4,597 869.9,598.8 870.1,599.1 871.4,601 872.9,603.6 874.4,606.4 875.9,609.5 876.7,611.2 877.4,612.8 878.9,616.5 880.4,620.6 881.9,624.8 883.3,628.8 883.4,629.1 884.9,633.5 886.4,638.1 887.9,642.8 889.4,647.2 889.9,648.7 890.9,651.5 892.4,655.7 893.9,659.7 895.4,663.6 896.5,666.3 896.9,667.3 898.4,670.9 899.9,674.4 901.4,677.6 903,680.3 903.1,680.6 904.5,682.5 906,684.4 907.5,686 909,687.6 909.8,688.3 910.5,689 912,690.4 913.5,691.6 915,692.8 916.4,693.9 916.5,694 918,695.1 919.5,696.3 921,697.5 922.5,698.6 924,699.7 925.2,700.5 925.5,700.7 927,701.7 928.5,702.7 930,703.7 931.5,704.7 933,705.5 934,706 934.5,706.2 936,707 937.5,707.7 939,708.4 940.5,708.9 942.1,709.2 942.8,709.3 943.6,709.3 945.1,709.3 946.6,709.2 948.1,709.1 949.6,708.9 951.1,708.6 952.6,708.3 954.1,707.7 955.6,707.1" fill="none" stroke="#E69F00" stroke-width="2.9" stroke-linejoin="round"/>
<polyline points="707.5,713.9 709,713.2 710.5,712.5 712,711.8 713.5,711.3 715,710.8 716.5,710.3 718,709.9 719.5,709.5 721,709.2 722.5,708.9 724,708.7 725.5,708.5 727,708.3 728.5,708.2 730,708 731.5,707.9 733,707.9 734.5,707.8 736,707.8 737.5,707.8 739,707.7 740.5,707.7 742,707.7 742.3,707.7 743.5,707.8 745.1,708.1 746.6,708.6 748.1,709.2 749.6,709.9 751.1,710.7 752.6,711.5 754.1,712.2 755.6,712.8 757.1,713.3 758.6,713.6 759.9,713.7 760.1,713.7 761.6,713.6 763.1,713.4 764.6,713.2 766.1,712.8 767.6,712.4 769.1,711.9 770.6,711.4 772.1,710.7 773.6,710.1 775.1,709.4 776.6,708.6 777.5,708.2 778.1,707.8 779.6,706.8 781.1,705.4 782.6,703.8 784.2,701.9 785.2,700.5 785.7,699.9 787.2,697.3 788.7,694.3 790.2,690.8 791.2,688.3 791.7,687.1 793.2,682.6 794.7,677.7 796.2,673.1 796.3,672.9 797.7,669.1 799.2,665.3 800.7,661.9 800.7,661.8 802.2,658.8 803.7,655.9 805.1,653.1 805.2,652.8 806.7,648.1 807.7,646.5 808.2,646.9 809.7,650.8 810.6,652 811.2,651.3 812.7,646.5 813.9,642.1 814.2,641 815.7,635.5 817.2,630 818.3,626.6 818.7,625.3 820.2,620.5 821.7,617.5 822,617.4 823.3,618.1 824.8,620.2 826,622.2 826.3,622.6 827.8,625.8 829.3,629 830.4,629.9 830.8,629.8 832.3,626.4 833.7,623.3 833.8,623.3 835.3,622.1 836.8,621.1 838.3,620.4 839.8,620.1 840.3,620 841.3,620 842.8,620 844.3,620 845.8,620 847.3,620 848,620 848.8,620.3 850.3,622.4 851.8,625.4 852.5,626.6 853.3,628.6 854.8,632.9 856.3,637.6 857.8,641.8 858,642.1 859.3,645.2 860.8,648.3 862.4,651.1 863.5,653.1 863.9,653.7 865.4,656.1 866.9,658.3 868.4,660.2 869,660.8 869.9,661.5 871.4,662.5 872.9,663.3 874.4,664.2 875.6,665.2 875.9,665.5 877.4,667.7 878.9,670.6 880.4,673.8 881.9,676.8 882.2,677.3 883.4,679.4 884.9,681.9 886.4,684.4 887.9,686.8 888.8,688.3 889.4,689.4 890.9,692 892.4,694.7 893.9,697.2 895.4,699.4 895.4,699.4 896.9,701.1 898.4,702.7 899.9,704.1 901.4,705.4 902,706 903,706.8 904.5,708.3 906,709.7 907.5,710.9 908.6,711.5 909,711.6 910.5,712.2 912,712.7 913.5,713.1 915,713.4 916.4,713.5 916.5,713.5 918,713.5 919.5,713.5 921,713.6 922.5,713.6 924,713.6 925.5,713.7 927,713.7 928.5,713.7 930,713.7 931.5,713.8 933,713.8 934.5,713.8 936,713.8 937.5,713.8 939,713.8 940.5,713.9 942.1,713.9 943.6,713.9 945.1,713.9 946.6,713.9 948.1,713.9 949.6,713.9 951.1,713.9 952.6,713.9 954.1,713.9 955.6,713.9" fill="none" stroke="#E69F00" stroke-width="2.9" stroke-linejoin="round"/>
<polyline points="707.5,713 708.5,713 709.5,713 710.5,712.9 711.5,712.9 712.5,712.8 713.5,712.7 714.5,712.6 715.5,712.5 716.5,712.4 717.5,712.3 718.5,712.1 719.5,712 720.5,711.8 721.5,711.6 722.5,711.4 723.5,711.1 724.5,710.7 725.5,710.2 726.5,709.6 727.5,709 728.5,708.3 729.5,707.6 730.5,707 731.5,706.4 732.5,705.9 733.5,705.5 734.5,705 735.5,704.6 736.5,704.2 737.5,703.8 738.5,703.4 739.5,703.1 740.5,702.9 741.5,702.8 742.5,702.8 743.5,702.9 744.5,703.3 745.5,703.8 746.5,704.4 747.5,705 748.5,705.7 749.5,706.3 750.5,706.8 751.5,707.2 752.5,707.5 753.5,707.9 754.5,708.2 755.5,708.5 756.5,708.8 757.5,709 758.5,709.1 759.5,709.2 760.5,709.2 761.5,709.1 762.5,708.8 763.5,708.5 764.5,708.1 765.5,707.6 766.5,707.1 767.5,706.6 768.5,706.1 769.5,705.5 770.5,704.8 771.5,704.1 772.5,703.3 773.5,702.4 774.5,701.5 775.5,700.5 776.5,699.4 777.5,698.3 778.5,697.1 779.5,695.8 780.5,694.4 781.5,692.9 782.5,691.3 783.5,689.5 784.5,687.6 785.5,685.5 786.5,683.1 787.5,680.5 788.5,677.6 789.5,674.4 790.5,670.9 791.5,667 792.5,662.5 793.5,657.5 794.5,652 795.5,646.4 796.5,640.6 797.5,634.7 798.5,628.7 799.5,622.6 800.5,616.5 801.5,610.4 802.5,604.3 803.5,598.7 804.5,594.1 805.5,590.7 806.5,588.2 807.5,586.3 808.5,584.9 809.5,583.8 810.5,582.9 811.5,582.2 812.5,581.6 813.5,581.1 814.5,580.7 815.5,580.6 816.5,580.8 817.5,581.5 818.5,582.7 819.5,584.1 820.5,585.5 821.5,586.7 822.5,587.7 823.5,588.5 824.5,589.2 825.5,589.8 826.5,590.4 827.5,591 828.5,591.6 829.5,592.1 830.5,592.7 831.5,593.2 832.5,593.7 833.5,594.1 834.5,594.4 835.5,594.6 836.5,594.6 837.5,594.5 838.5,594.4 839.5,594.2 840.5,594 841.5,593.8 842.5,593.7 843.5,593.6 844.5,593.6 845.5,593.6 846.5,593.6 847.5,593.6 848.5,593.6 849.5,593.6 850.5,593.6 851.5,593.9 852.5,594.7 853.5,596.1 854.5,597.8 855.5,599.8 856.5,601.9 857.5,604.2 858.5,606.6 859.5,609.2 860.5,611.6 861.5,613.9 862.5,616.1 863.5,618.1 864.5,620.1 865.5,622.1 866.5,624 867.5,626 868.5,627.9 869.5,629.9 870.5,631.9 871.5,633.8 872.5,635.8 873.5,637.9 874.5,640 875.5,642.3 876.5,644.6 877.5,647 878.5,649.4 879.5,651.7 880.5,654 881.5,656.2 882.5,658.3 883.5,660.3 884.5,662.3 885.5,664.3 886.6,666.2 887.6,668.2 888.6,670.2 889.6,672.3 890.6,674.4 891.6,676.4 892.6,678.4 893.6,680.3 894.6,682.1 895.6,683.8 896.6,685.3 897.6,686.9 898.6,688.4 899.6,689.8 900.6,691.1 901.6,692.4 902.6,693.7 903.6,694.9 904.6,696.1 905.6,697.3 906.6,698.3 907.6,699.3 908.6,700.3 909.6,701.2 910.6,702 911.6,702.9 912.6,703.7 913.6,704.4 914.6,705.2 915.6,705.9 916.6,706.6 917.6,707.3 918.6,708 919.6,708.6 920.6,709.2 921.6,709.7 922.6,710.2 923.6,710.7 924.6,711.2 925.6,711.6 926.6,712 927.6,712.3 928.6,712.5 929.6,712.5 930.6,712.6 931.6,712.6 932.6,712.6 933.6,712.6 934.6,712.6 935.6,712.6 936.6,712.6 937.6,712.6 938.6,712.6 939.6,712.6 940.6,712.6 941.6,712.6 942.6,712.6 943.6,712.6 944.6,712.6 945.6,712.6 946.6,712.6 947.6,712.6 948.6,712.6 949.6,712.6 950.6,712.6 951.6,712.6 952.6,712.6 953.6,712.6 954.6,712.6 955.6,712.6" fill="none" stroke="#000000" stroke-width="9.3" stroke-linejoin="round"/>
<text transform="translate(818,441.4) scale(1,1.04)" font-family="'Liberation Sans', Arial, sans-serif" font-size="38" text-anchor="middle" fill="#000000">n = 58</text>
<path d="M695.2 408.5h1.7v331h-1.7zM695.2 408.5h273.9v1.7h-273.9zM966.5 408.5h2.7v331h-2.7zM695.2 736.8h273.9v2.7h-273.9z" fill="#1e1e1e"/>
</g>
<g>
<path d="M989.9 665.3H1256.9M989.9 569.5H1256.9M989.9 473.7H1256.9M999.3 411.5V735.5M1054.5 411.5V735.5M1109.7 411.5V735.5M1164.9 411.5V735.5M1220.1 411.5V735.5" stroke="#EBEBEB" stroke-width="1.5" fill="none"/>
<path d="M989.9 713.2H1256.9M989.9 617.4H1256.9M989.9 521.6H1256.9M989.9 425.8H1256.9M1026.9 411.5V735.5M1082.1 411.5V735.5M1137.3 411.5V735.5M1192.5 411.5V735.5M1247.7 411.5V735.5" stroke="#EBEBEB" stroke-width="2.9" fill="none"/>
<rect x="1082.6" y="431.1" width="32.1" height="281.3" fill="rgba(211,211,211,0.5)"/>
<rect x="1120.7" y="431.1" width="33.1" height="281.3" fill="rgba(248,203,173,0.5)"/>
<rect x="1153.8" y="431.1" width="44.2" height="281.3" fill="rgba(193,220,238,0.5)"/>
<polygon points="999,712.1 1000.5,711.8 1002,711.5 1003.5,711.1 1005,710.7 1006.5,710.3 1008,709.8 1009.5,709.2 1011,708.7 1012.5,708.1 1014,707.5 1015.5,706.9 1017,706.2 1018.5,705.5 1020,704.8 1021.5,704.2 1023,703.4 1023.3,703.3 1024.5,702.6 1026,701.5 1027.5,700.2 1029,699 1030.5,698 1032,697.3 1033.2,697.2 1033.5,697.2 1035,697.6 1036.5,698.6 1038,699.8 1039.5,701 1041,702.1 1042,702.7 1042.5,702.9 1044,703.7 1045.5,704.4 1047,705.1 1048.5,705.6 1050,705.9 1050.8,706 1051.5,705.9 1053,705.6 1054.5,704.9 1056,704.1 1057.5,703.1 1059,702 1059.6,701.6 1060.5,700.9 1062,699.5 1063.5,697.8 1065,695.8 1066.5,693.6 1068,691.2 1068.4,690.5 1069.5,688.6 1071,685.5 1072.5,682 1074,677.8 1075.5,672.9 1076.1,670.7 1077,667.1 1078.5,659.5 1080,649.9 1081.5,638.7 1081.7,637.7 1083,624 1084.5,605 1086,585.3 1086.1,584.8 1087.5,564.6 1089,544.5 1089.4,540.7 1090.5,528.9 1092,516 1092.7,512.1 1093.5,507.6 1095,501.4 1096,499.9 1096.5,500.1 1098,502.4 1099.3,505.4 1099.5,506.1 1101,513.7 1102.5,522.7 1102.6,523.1 1104,530.4 1105.5,538 1107,545.1 1107,545.2 1108.5,552.6 1110,559.8 1111.5,566.1 1112.5,569.3 1113,570.8 1114.5,574.7 1116,578.2 1117.5,580.8 1119,582.5 1119.1,582.6 1120.5,583.4 1122,584.2 1123.5,584.7 1124.6,584.8 1125,584.8 1126.5,584.7 1128,584.4 1129.5,584.1 1131,583.7 1131.2,583.7 1132.5,583 1134,581.6 1135.5,579.8 1136.7,578.2 1137,577.7 1138.5,574.2 1140,570.5 1141.2,569.3 1141.5,569.4 1143,570.1 1144.5,571.5 1145.6,572.7 1146,573.4 1147.5,577.2 1149,582 1150,584.8 1150.5,586.2 1152,590.1 1153.5,593.7 1155,597.1 1155.5,598 1156.5,600 1158,602.5 1159.5,604.9 1161,607.3 1162.1,609 1162.5,609.7 1164,612.1 1165.5,614.5 1167,617 1168.5,619.7 1168.7,620 1170,622.8 1171.5,626.2 1173,629.8 1174.5,633.5 1175.3,635.5 1176,637.3 1177.5,641.2 1179,645.2 1180.5,649.3 1181.9,653.1 1182,653.4 1183.5,657.5 1185,661.7 1186.5,665.7 1188,669.5 1188.5,670.7 1189.5,673 1191,676.2 1192.5,679.3 1194,682.1 1195.1,683.9 1195.5,684.5 1197,686.8 1198.5,688.9 1200,690.8 1201.5,692.5 1201.8,692.8 1203,694.1 1204.5,695.5 1206,696.9 1207.5,698.1 1209,699.3 1210.5,700.4 1210.6,700.5 1212,701.5 1213.5,702.6 1215,703.6 1216.5,704.5 1218,705.4 1219.5,706.2 1221,706.9 1221.6,707.1 1222.5,707.4 1224,708 1225.5,708.5 1227,709 1228.5,709.4 1230,709.8 1231.5,710.1 1233,710.3 1234.5,710.4 1234.8,710.4 1236,710.4 1237.5,710.2 1239,710 1240.5,709.8 1242,709.4 1243.5,708.9 1245,708.4 1246.5,707.8 1248,707.1 1248,713.9 1246.5,713.9 1245,713.9 1243.5,713.9 1242,713.9 1240.5,713.9 1239,713.9 1237.5,713.9 1236,713.9 1234.5,713.9 1233,713.9 1231.5,713.9 1230,713.9 1228.5,713.9 1227,713.9 1225.5,713.9 1224,713.9 1222.5,713.9 1221,713.9 1219.5,713.9 1218,713.9 1216.5,713.9 1215,713.9 1213.5,713.9 1212,713.9 1210.6,713.9 1210.5,713.9 1209,713.9 1207.5,713.9 1206,713.8 1204.5,713.8 1203,713.7 1201.5,713.6 1200,713.5 1198.5,713.4 1197,713.2 1195.5,713.1 1195.1,713 1194,712.7 1192.5,711.8 1191,710.5 1189.5,709.1 1188.5,708.2 1188,707.7 1186.5,706.2 1185,704.4 1183.5,702.6 1182,700.6 1181.9,700.5 1180.5,698.6 1179,696.4 1177.5,694.1 1176,691.7 1175.3,690.5 1174.5,689.3 1173,686.8 1171.5,684.2 1170,681.5 1168.5,678.9 1167.6,677.3 1167,676.4 1165.5,673.8 1164,671.2 1162.5,668.7 1161,666.4 1161,666.3 1159.5,664.3 1158,662.4 1156.5,660.6 1155,658.5 1154.4,657.5 1153.5,656.1 1152,653.2 1150.5,650.1 1149,646.8 1148.9,646.5 1147.5,642.9 1146,638.6 1144.5,635.5 1144.5,635.5 1143,633.9 1141.5,632.6 1140,632.2 1140,632.2 1138.5,632.5 1137,633.4 1135.5,634.4 1134,635.5 1132.5,636.3 1131.2,636.6 1131,636.6 1129.5,636.5 1128,636.4 1126.5,636.2 1125,636 1123.5,635.7 1122.4,635.5 1122,635.3 1120.5,634.6 1119,633.3 1117.5,631.7 1116.9,631 1116,629.4 1114.5,625.6 1113,623.3 1112.9,623.3 1111.5,624.9 1110,628.7 1109.2,631 1108.5,633.5 1107,640.7 1105.9,644.3 1105.5,644.8 1104,646.6 1102.5,647.9 1101,648.6 1100.4,648.7 1099.5,648.5 1098,647.5 1096.5,646.6 1096,646.5 1095,647.2 1093.5,650.4 1092,655 1090.5,659.6 1090.5,659.7 1089,663.9 1087.5,668.6 1086.1,672.9 1086,673 1084.5,676.9 1083,680.6 1081.7,683.9 1081.5,684.3 1080,688.1 1078.5,692 1077,695.5 1076.1,697.2 1075.5,698.2 1074,700.7 1072.5,702.9 1071,704.8 1069.5,706.3 1068.4,707.1 1068,707.3 1066.5,708.1 1065,708.9 1063.5,709.7 1062,710.4 1060.5,711 1059,711.5 1057.5,712 1056,712.4 1054.5,712.7 1053,712.9 1051.5,713 1050.8,713 1050,713 1048.5,712.8 1047,712.3 1045.5,711.7 1044,711.1 1042.5,710.3 1041,709.6 1039.5,708.8 1038,708.2 1036.5,707.6 1035,707.3 1033.5,707.1 1033.2,707.1 1032,707.1 1030.5,707.1 1029,707.1 1027.5,707.1 1026,707.2 1024.5,707.3 1023,707.4 1021.5,707.5 1020,707.6 1018.5,707.8 1017,708 1015.5,708.2 1014,708.5 1012.5,708.8 1011,709.2 1009.5,709.6 1008,710 1006.5,710.5 1005,711.1 1003.5,711.7 1002,712.4 1000.5,713.1 999,713.9" fill="#E69F00" fill-opacity="0.5" stroke="none"/>
<polyline points="999,712.1 1000.5,711.8 1002,711.5 1003.5,711.1 1005,710.7 1006.5,710.3 1008,709.8 1009.5,709.2 1011,708.7 1012.5,708.1 1014,707.5 1015.5,706.9 1017,706.2 1018.5,705.5 1020,704.8 1021.5,704.2 1023,703.4 1023.3,703.3 1024.5,702.6 1026,701.5 1027.5,700.2 1029,699 1030.5,698 1032,697.3 1033.2,697.2 1033.5,697.2 1035,697.6 1036.5,698.6 1038,699.8 1039.5,701 1041,702.1 1042,702.7 1042.5,702.9 1044,703.7 1045.5,704.4 1047,705.1 1048.5,705.6 1050,705.9 1050.8,706 1051.5,705.9 1053,705.6 1054.5,704.9 1056,704.1 1057.5,703.1 1059,702 1059.6,701.6 1060.5,700.9 1062,699.5 1063.5,697.8 1065,695.8 1066.5,693.6 1068,691.2 1068.4,690.5 1069.5,688.6 1071,685.5 1072.5,682 1074,677.8 1075.5,672.9 1076.1,670.7 1077,667.1 1078.5,659.5 1080,649.9 1081.5,638.7 1081.7,637.7 1083,624 1084.5,605 1086,585.3 1086.1,584.8 1087.5,564.6 1089,544.5 1089.4,540.7 1090.5,528.9 1092,516 1092.7,512.1 1093.5,507.6 1095,501.4 1096,499.9 1096.5,500.1 1098,502.4 1099.3,505.4 1099.5,506.1 1101,513.7 1102.5,522.7 1102.6,523.1 1104,530.4 1105.5,538 1107,545.1 1107,545.2 1108.5,552.6 1110,559.8 1111.5,566.1 1112.5,569.3 1113,570.8 1114.5,574.7 1116,578.2 1117.5,580.8 1119,582.5 1119.1,582.6 1120.5,583.4 1122,584.2 1123.5,584.7 1124.6,584.8 1125,584.8 1126.5,584.7 1128,584.4 1129.5,584.1 1131,583.7 1131.2,583.7 1132.5,583 1134,581.6 1135.5,579.8 1136.7,578.2 1137,577.7 1138.5,574.2 1140,570.5 1141.2,569.3 1141.5,569.4 1143,570.1 1144.5,571.5 1145.6,572.7 1146,573.4 1147.5,577.2 1149,582 1150,584.8 1150.5,586.2 1152,590.1 1153.5,593.7 1155,597.1 1155.5,598 1156.5,600 1158,602.5 1159.5,604.9 1161,607.3 1162.1,609 1162.5,609.7 1164,612.1 1165.5,614.5 1167,617 1168.5,619.7 1168.7,620 1170,622.8 1171.5,626.2 1173,629.8 1174.5,633.5 1175.3,635.5 1176,637.3 1177.5,641.2 1179,645.2 1180.5,649.3 1181.9,653.1 1182,653.4 1183.5,657.5 1185,661.7 1186.5,665.7 1188,669.5 1188.5,670.7 1189.5,673 1191,676.2 1192.5,679.3 1194,682.1 1195.1,683.9 1195.5,684.5 1197,686.8 1198.5,688.9 1200,690.8 1201.5,692.5 1201.8,692.8 1203,694.1 1204.5,695.5 1206,696.9 1207.5,698.1 1209,699.3 1210.5,700.4 1210.6,700.5 1212,701.5 1213.5,702.6 1215,703.6 1216.5,704.5 1218,705.4 1219.5,706.2 1221,706.9 1221.6,707.1 1222.5,707.4 1224,708 1225.5,708.5 1227,709 1228.5,709.4 1230,709.8 1231.5,710.1 1233,710.3 1234.5,710.4 1234.8,710.4 1236,710.4 1237.5,710.2 1239,710 1240.5,709.8 1242,709.4 1243.5,708.9 1245,708.4 1246.5,707.8 1248,707.1" fill="none" stroke="#E69F00" stroke-width="2.9" stroke-linejoin="round"/>
<polyline points="999,713.9 1000.5,713.1 1002,712.4 1003.5,711.7 1005,711.1 1006.5,710.5 1008,710 1009.5,709.6 1011,709.2 1012.5,708.8 1014,708.5 1015.5,708.2 1017,708 1018.5,707.8 1020,707.6 1021.5,707.5 1023,707.4 1024.5,707.3 1026,707.2 1027.5,707.1 1029,707.1 1030.5,707.1 1032,707.1 1033.2,707.1 1033.5,707.1 1035,707.3 1036.5,707.6 1038,708.2 1039.5,708.8 1041,709.6 1042.5,710.3 1044,711.1 1045.5,711.7 1047,712.3 1048.5,712.8 1050,713 1050.8,713 1051.5,713 1053,712.9 1054.5,712.7 1056,712.4 1057.5,712 1059,711.5 1060.5,711 1062,710.4 1063.5,709.7 1065,708.9 1066.5,708.1 1068,707.3 1068.4,707.1 1069.5,706.3 1071,704.8 1072.5,702.9 1074,700.7 1075.5,698.2 1076.1,697.2 1077,695.5 1078.5,692 1080,688.1 1081.5,684.3 1081.7,683.9 1083,680.6 1084.5,676.9 1086,673 1086.1,672.9 1087.5,668.6 1089,663.9 1090.5,659.7 1090.5,659.6 1092,655 1093.5,650.4 1095,647.2 1096,646.5 1096.5,646.6 1098,647.5 1099.5,648.5 1100.4,648.7 1101,648.6 1102.5,647.9 1104,646.6 1105.5,644.8 1105.9,644.3 1107,640.7 1108.5,633.5 1109.2,631 1110,628.7 1111.5,624.9 1112.9,623.3 1113,623.3 1114.5,625.6 1116,629.4 1116.9,631 1117.5,631.7 1119,633.3 1120.5,634.6 1122,635.3 1122.4,635.5 1123.5,635.7 1125,636 1126.5,636.2 1128,636.4 1129.5,636.5 1131,636.6 1131.2,636.6 1132.5,636.3 1134,635.5 1135.5,634.4 1137,633.4 1138.5,632.5 1140,632.2 1140,632.2 1141.5,632.6 1143,633.9 1144.5,635.5 1144.5,635.5 1146,638.6 1147.5,642.9 1148.9,646.5 1149,646.8 1150.5,650.1 1152,653.2 1153.5,656.1 1154.4,657.5 1155,658.5 1156.5,660.6 1158,662.4 1159.5,664.3 1161,666.3 1161,666.4 1162.5,668.7 1164,671.2 1165.5,673.8 1167,676.4 1167.6,677.3 1168.5,678.9 1170,681.5 1171.5,684.2 1173,686.8 1174.5,689.3 1175.3,690.5 1176,691.7 1177.5,694.1 1179,696.4 1180.5,698.6 1181.9,700.5 1182,700.6 1183.5,702.6 1185,704.4 1186.5,706.2 1188,707.7 1188.5,708.2 1189.5,709.1 1191,710.5 1192.5,711.8 1194,712.7 1195.1,713 1195.5,713.1 1197,713.2 1198.5,713.4 1200,713.5 1201.5,713.6 1203,713.7 1204.5,713.8 1206,713.8 1207.5,713.9 1209,713.9 1210.5,713.9 1210.6,713.9 1212,713.9 1213.5,713.9 1215,713.9 1216.5,713.9 1218,713.9 1219.5,713.9 1221,713.9 1222.5,713.9 1224,713.9 1225.5,713.9 1227,713.9 1228.5,713.9 1230,713.9 1231.5,713.9 1233,713.9 1234.5,713.9 1236,713.9 1237.5,713.9 1239,713.9 1240.5,713.9 1242,713.9 1243.5,713.9 1245,713.9 1246.5,713.9 1248,713.9" fill="none" stroke="#E69F00" stroke-width="2.9" stroke-linejoin="round"/>
<polyline points="999,713 1000,713 1001,713 1002,713 1003,712.9 1004,712.9 1005,712.8 1006,712.8 1007,712.7 1008,712.6 1009,712.5 1010,712.4 1011,712.3 1012,712.1 1013,711.9 1014,711.6 1015,711.2 1016,710.6 1017,710 1018,709.3 1019,708.6 1020,707.9 1021,707.3 1022,706.7 1023,706.1 1024,705.6 1025,705.1 1026,704.6 1027,704 1028,703.5 1029,703.1 1030,702.7 1031,702.4 1032,702.2 1033,702.1 1034,702.2 1035,702.6 1036,703.1 1037,703.8 1038,704.5 1039,705.3 1040,706 1041,706.6 1042,707 1043,707.4 1044,707.8 1045,708.1 1046,708.4 1047,708.7 1048,708.9 1049,709.1 1050,709.2 1051,709.2 1052,709.1 1053,708.9 1054,708.6 1055,708.3 1056,707.8 1057,707.3 1058,706.8 1059,706.3 1060,705.7 1061,705.1 1062,704.4 1063,703.7 1064,702.8 1065,701.9 1066,700.9 1067,699.8 1068,698.7 1069,697.5 1070,696.1 1071,694.5 1072,692.8 1073,690.9 1074,688.9 1075,686.6 1076,684.1 1077,681.2 1078,677.7 1079,673.9 1080,669.5 1081,664.8 1082,659.6 1083,653.8 1084,647.4 1085,640.6 1086,633.3 1087,625.7 1088,617.6 1089,609.5 1090,601.6 1091,594.1 1092,586.9 1093,580.1 1094,574.2 1095,569.1 1096,564.8 1097,561.4 1098,559.1 1099,557.7 1100,556.8 1101,556.6 1102,557.1 1103,558.7 1104,561.3 1105,564.4 1106,567.6 1107,570.9 1108,574.4 1109,578 1110,581.6 1111,584.9 1112,588.3 1113,591.5 1114,594.4 1115,597.1 1116,599.4 1117,601.4 1118,603.1 1119,604.7 1120,606.2 1121,607.5 1122,608.6 1123,609.6 1124,610.5 1125,611.4 1126,612.1 1127,612.7 1128,613.1 1129,613.2 1130,613 1131,612.3 1132,611.5 1133,610.6 1134,609.8 1135,609.3 1136,609.1 1137,609 1138,609 1139,609 1140,609 1141,609.2 1142,609.8 1143,610.9 1144,612.6 1145,614.6 1146,617 1147,619.8 1148,622.9 1149,626 1150,628.8 1151,631.2 1152,633.4 1153,635.4 1154,637.3 1155,639.1 1156,640.7 1157,642.1 1158,643.5 1159,644.8 1160,646.1 1161,647.3 1162,648.6 1163,649.9 1164,651.2 1165,652.5 1166,653.8 1167,655.2 1168,656.6 1169,658 1170,659.5 1171,661.1 1172,662.8 1173,664.5 1174,666.2 1175,668 1176,669.9 1177,671.9 1178,674 1179,676.1 1180,678.1 1181,680 1182,681.9 1183,683.5 1184,685.2 1185,686.7 1186,688.2 1187,689.6 1188,691 1189,692.3 1190,693.6 1191,694.8 1192,696 1193,697.1 1194,698.2 1195,699.2 1196,700.2 1197,701.1 1198,702 1199,702.8 1200,703.6 1201,704.3 1202,705.1 1203,705.8 1204,706.5 1205,707.2 1206,707.9 1207,708.6 1208,709.2 1209,709.7 1210,710.1 1211,710.5 1212,710.9 1213,711.2 1214,711.6 1215,711.9 1216,712.2 1217,712.4 1218,712.6 1219,712.8 1220,712.9 1221,713 1222,713 1223,713 1224,713 1225,713 1226,712.9 1227,712.9 1228,712.9 1229,712.8 1230,712.8 1231,712.7 1232,712.7 1233,712.7 1234,712.6 1235,712.6 1236,712.5 1237,712.5 1238,712.5 1239,712.4 1240,712.4 1241,712.4 1242,712.3 1243,712.3 1244,712.3 1245,712.2 1246,712.2 1247,712.2 1248,712.2" fill="none" stroke="#000000" stroke-width="9.3" stroke-linejoin="round"/>
<text transform="translate(1109.7,441.4) scale(1,1.04)" font-family="'Liberation Sans', Arial, sans-serif" font-size="38" text-anchor="middle" fill="#000000">n = 56</text>
<path d="M986.9 408.5h1.7v331h-1.7zM986.9 408.5h273.9v1.7h-273.9zM1258.2 408.5h2.7v331h-2.7zM986.9 736.8h273.9v2.7h-273.9z" fill="#1e1e1e"/>
</g>
<g>
<path d="M1281.6 665.3H1548.5M1281.6 569.5H1548.5M1281.6 473.7H1548.5M1290.9 411.5V735.5M1346.1 411.5V735.5M1401.3 411.5V735.5M1456.5 411.5V735.5M1511.7 411.5V735.5" stroke="#EBEBEB" stroke-width="1.5" fill="none"/>
<path d="M1281.6 713.2H1548.5M1281.6 617.4H1548.5M1281.6 521.6H1548.5M1281.6 425.8H1548.5M1318.5 411.5V735.5M1373.7 411.5V735.5M1428.9 411.5V735.5M1484.1 411.5V735.5M1539.3 411.5V735.5" stroke="#EBEBEB" stroke-width="2.9" fill="none"/>
<rect x="1374.3" y="431.1" width="32.1" height="281.3" fill="rgba(211,211,211,0.5)"/>
<rect x="1412.4" y="431.1" width="33.1" height="281.3" fill="rgba(248,203,173,0.5)"/>
<rect x="1445.5" y="431.1" width="44.2" height="281.3" fill="rgba(193,220,238,0.5)"/>
<polygon points="1290.5,712.1 1292,711.8 1293.5,711.4 1295,710.9 1296.5,710.4 1298,709.9 1299.5,709.3 1301,708.6 1302.5,708 1304,707.3 1305.5,706.6 1307,705.8 1308.5,705.1 1310,704.3 1311.5,703.5 1313,702.7 1314.3,702 1314.5,701.9 1316,700.8 1317.5,699.4 1319,698 1320.5,696.6 1322,695.6 1323.5,695 1324.2,695 1325,695.1 1326.5,695.7 1328.1,696.7 1329.6,697.9 1331.1,699.1 1332.6,700.2 1333,700.5 1334.1,701.2 1335.6,702.2 1337.1,703.3 1338.6,704.4 1340.1,705.2 1341.6,705.8 1342.9,706 1343.1,706 1344.6,705.6 1346.1,704.7 1347.6,703.4 1349.1,702 1350.6,700.4 1351.7,699.4 1352.1,699 1353.6,697.5 1355.1,695.9 1356.6,694.1 1358.1,692.1 1359.6,689.8 1360.5,688.3 1361.1,687.3 1362.6,684.1 1364.1,680.4 1365.6,675.9 1367.1,670.7 1367.2,670.7 1368.7,664.1 1370.2,655.6 1371.7,645.3 1372.7,637.7 1373.2,633.1 1374.7,616.1 1376.2,596.3 1377.1,584.8 1377.7,576.4 1379.2,554.8 1380.4,540.7 1380.7,537.7 1382.2,525 1383.7,516.5 1383.7,516.4 1385.2,511.6 1386.7,508.2 1388.1,505.4 1388.2,505.2 1389.7,501.9 1391.2,500 1391.4,499.9 1392.7,502.4 1394,507.6 1394.2,508.6 1395.7,520.1 1396.9,529.7 1397.2,531.9 1398.7,541.2 1400.2,549.5 1400.2,549.7 1401.7,558.1 1403.2,566 1404.6,571.6 1404.7,572 1406.3,576.7 1407.8,580.5 1409,582.6 1409.3,582.8 1410.8,584.4 1412.3,585.6 1413.8,586.4 1414.5,586.5 1415.3,586.6 1416.8,586.8 1418.3,586.9 1419.8,587 1420,587 1421.3,586.2 1422.8,584 1424.3,581.2 1425.5,579.3 1425.8,578.9 1427.3,576.6 1428.8,574.3 1430.3,572.9 1431,572.7 1431.8,572.7 1433.3,572.7 1434.8,572.7 1436.3,572.7 1436.6,572.7 1437.8,573.4 1439.3,575.5 1440.8,578 1441,578.2 1442.3,580.4 1443.8,583.2 1445.4,586.1 1446.5,588.1 1446.9,588.7 1448.4,591 1449.9,593.1 1451.4,595.3 1452.9,597.6 1453.1,598 1454.4,600.3 1455.9,603.1 1457.4,606.2 1458.9,609.4 1459.7,611.2 1460.4,612.9 1461.9,616.7 1463.4,620.8 1464.9,625 1466.3,628.8 1466.4,629.1 1467.9,633.2 1469.4,637.3 1470.9,641.3 1472.4,645.2 1472.9,646.5 1473.9,649 1475.4,652.6 1476.9,656.1 1478.4,659.5 1479.5,661.9 1479.9,662.8 1481.4,665.9 1482.9,669 1484.4,672 1486,674.8 1486.1,675.1 1487.5,677.5 1489,680.1 1490.5,682.6 1492,685 1492.8,686.1 1493.5,687.2 1495,689.5 1496.5,691.6 1498,693.6 1499.4,695 1499.5,695.1 1501,696.2 1502.5,697.2 1504,698 1505.5,698.8 1507,699.7 1508.2,700.5 1508.5,700.7 1510,702.1 1511.5,703.6 1513,705.1 1514.5,706.3 1515.9,707.1 1516,707.1 1517.5,707.6 1519,708.1 1520.5,708.5 1522,708.9 1523.5,709.1 1525.1,709.3 1525.8,709.3 1526.6,709.3 1528.1,709.2 1529.6,709.1 1531.1,708.8 1532.6,708.5 1534.1,708.1 1535.6,707.7 1537.1,707.1 1538.6,706.4 1538.6,713.9 1537.1,713.9 1535.6,713.9 1534.1,713.9 1532.6,713.9 1531.1,713.9 1529.6,713.9 1528.1,713.9 1526.6,713.9 1525.1,713.9 1523.5,713.9 1522,713.9 1520.5,713.9 1519,713.9 1517.5,713.9 1516,713.9 1514.5,713.9 1513,713.9 1511.5,713.9 1510,713.9 1508.5,713.9 1507,713.9 1505.5,713.9 1504,713.9 1502.5,713.9 1501.6,713.9 1501,713.9 1499.5,713.8 1498,713.7 1496.5,713.5 1495,713.3 1493.5,713.1 1492.8,713 1492,712.9 1490.5,712.7 1489,712.3 1487.5,711.9 1486.1,711.5 1486,711.4 1484.4,710.3 1482.9,708.5 1481.4,706.4 1479.9,704.3 1479.5,703.8 1478.4,702.4 1476.9,700.5 1475.4,698.5 1473.9,696.4 1472.9,695 1472.4,694.2 1470.9,691.8 1469.4,689.3 1467.9,686.7 1466.4,684.1 1466.3,683.9 1464.9,681.5 1463.4,678.7 1461.9,676 1460.4,673.8 1459.7,672.9 1458.9,672.1 1457.4,670.8 1455.9,669.7 1454.4,668.5 1453.1,667.4 1452.9,667.2 1451.4,665.7 1449.9,664.1 1448.4,662.3 1446.9,660.3 1446.5,659.7 1445.4,657.8 1443.8,654.9 1442.3,651.6 1441,648.7 1440.8,648.4 1439.3,645 1437.8,641.4 1436.3,638.1 1435.5,636.6 1434.8,635.5 1433.3,633 1431.8,631.3 1431,631 1430.3,631.1 1428.8,631.6 1427.3,632.3 1425.8,633.1 1425.5,633.3 1424.3,634 1422.8,635.2 1421.3,636.2 1420,636.6 1419.8,636.6 1418.3,636.5 1416.8,636.2 1415.3,635.9 1413.8,635.6 1413.4,635.5 1412.3,635 1410.8,633.9 1409.3,632.5 1407.9,631 1407.8,630.9 1406.3,628.3 1404.7,625.3 1403.5,623.3 1403.2,623 1401.7,621.3 1400.2,620.1 1399.8,620 1398.7,621.3 1397.2,626.1 1395.8,631 1395.7,631.2 1394.2,635.9 1392.7,640.4 1391.4,643.2 1391.2,643.4 1389.7,644.9 1388.2,646.3 1388.1,646.5 1386.7,649.2 1385.2,653.2 1383.7,657.4 1383.7,657.5 1382.2,661.6 1380.7,665.9 1379.2,670.2 1378.2,672.9 1377.7,674.2 1376.2,677.9 1374.7,681.5 1373.2,685 1372.7,686.1 1371.7,688.5 1370.2,692.1 1368.7,695.5 1367.2,698.2 1367.1,698.3 1365.6,700.5 1364.1,702.5 1362.6,704.3 1361.1,705.6 1360.5,706 1359.6,706.5 1358.1,707.3 1356.6,708.1 1355.1,708.9 1353.6,709.6 1352.1,710.2 1350.6,710.7 1349.1,711.2 1347.6,711.6 1346.1,711.9 1344.6,712.1 1343.1,712.1 1342.9,712.1 1341.6,712.1 1340.1,711.8 1338.6,711.3 1337.1,710.7 1335.6,710 1334.1,709.3 1332.6,708.6 1331.1,707.9 1329.6,707.2 1328.1,706.7 1326.5,706.2 1325,706 1324.2,706 1323.5,706 1322,706 1320.5,706 1319,706.1 1317.5,706.1 1316,706.2 1314.5,706.4 1313,706.5 1311.5,706.7 1310,706.9 1308.5,707.2 1307,707.5 1305.5,707.8 1304,708.2 1302.5,708.6 1301,709.1 1299.5,709.6 1298,710.2 1296.5,710.8 1295,711.5 1293.5,712.2 1292,713 1290.5,713.9" fill="#E69F00" fill-opacity="0.5" stroke="none"/>
<polyline points="1290.5,712.1 1292,711.8 1293.5,711.4 1295,710.9 1296.5,710.4 1298,709.9 1299.5,709.3 1301,708.6 1302.5,708 1304,707.3 1305.5,706.6 1307,705.8 1308.5,705.1 1310,704.3 1311.5,703.5 1313,702.7 1314.3,702 1314.5,701.9 1316,700.8 1317.5,699.4 1319,698 1320.5,696.6 1322,695.6 1323.5,695 1324.2,695 1325,695.1 1326.5,695.7 1328.1,696.7 1329.6,697.9 1331.1,699.1 1332.6,700.2 1333,700.5 1334.1,701.2 1335.6,702.2 1337.1,703.3 1338.6,704.4 1340.1,705.2 1341.6,705.8 1342.9,706 1343.1,706 1344.6,705.6 1346.1,704.7 1347.6,703.4 1349.1,702 1350.6,700.4 1351.7,699.4 1352.1,699 1353.6,697.5 1355.1,695.9 1356.6,694.1 1358.1,692.1 1359.6,689.8 1360.5,688.3 1361.1,687.3 1362.6,684.1 1364.1,680.4 1365.6,675.9 1367.1,670.7 1367.2,670.7 1368.7,664.1 1370.2,655.6 1371.7,645.3 1372.7,637.7 1373.2,633.1 1374.7,616.1 1376.2,596.3 1377.1,584.8 1377.7,576.4 1379.2,554.8 1380.4,540.7 1380.7,537.7 1382.2,525 1383.7,516.5 1383.7,516.4 1385.2,511.6 1386.7,508.2 1388.1,505.4 1388.2,505.2 1389.7,501.9 1391.2,500 1391.4,499.9 1392.7,502.4 1394,507.6 1394.2,508.6 1395.7,520.1 1396.9,529.7 1397.2,531.9 1398.7,541.2 1400.2,549.5 1400.2,549.7 1401.7,558.1 1403.2,566 1404.6,571.6 1404.7,572 1406.3,576.7 1407.8,580.5 1409,582.6 1409.3,582.8 1410.8,584.4 1412.3,585.6 1413.8,586.4 1414.5,586.5 1415.3,586.6 1416.8,586.8 1418.3,586.9 1419.8,587 1420,587 1421.3,586.2 1422.8,584 1424.3,581.2 1425.5,579.3 1425.8,578.9 1427.3,576.6 1428.8,574.3 1430.3,572.9 1431,572.7 1431.8,572.7 1433.3,572.7 1434.8,572.7 1436.3,572.7 1436.6,572.7 1437.8,573.4 1439.3,575.5 1440.8,578 1441,578.2 1442.3,580.4 1443.8,583.2 1445.4,586.1 1446.5,588.1 1446.9,588.7 1448.4,591 1449.9,593.1 1451.4,595.3 1452.9,597.6 1453.1,598 1454.4,600.3 1455.9,603.1 1457.4,606.2 1458.9,609.4 1459.7,611.2 1460.4,612.9 1461.9,616.7 1463.4,620.8 1464.9,625 1466.3,628.8 1466.4,629.1 1467.9,633.2 1469.4,637.3 1470.9,641.3 1472.4,645.2 1472.9,646.5 1473.9,649 1475.4,652.6 1476.9,656.1 1478.4,659.5 1479.5,661.9 1479.9,662.8 1481.4,665.9 1482.9,669 1484.4,672 1486,674.8 1486.1,675.1 1487.5,677.5 1489,680.1 1490.5,682.6 1492,685 1492.8,686.1 1493.5,687.2 1495,689.5 1496.5,691.6 1498,693.6 1499.4,695 1499.5,695.1 1501,696.2 1502.5,697.2 1504,698 1505.5,698.8 1507,699.7 1508.2,700.5 1508.5,700.7 1510,702.1 1511.5,703.6 1513,705.1 1514.5,706.3 1515.9,707.1 1516,707.1 1517.5,707.6 1519,708.1 1520.5,708.5 1522,708.9 1523.5,709.1 1525.1,709.3 1525.8,709.3 1526.6,709.3 1528.1,709.2 1529.6,709.1 1531.1,708.8 1532.6,708.5 1534.1,708.1 1535.6,707.7 1537.1,707.1 1538.6,706.4" fill="none" stroke="#E69F00" stroke-width="2.9" stroke-linejoin="round"/>
<polyline points="1290.5,713.9 1292,713 1293.5,712.2 1295,711.5 1296.5,710.8 1298,710.2 1299.5,709.6 1301,709.1 1302.5,708.6 1304,708.2 1305.5,707.8 1307,707.5 1308.5,707.2 1310,706.9 1311.5,706.7 1313,706.5 1314.5,706.4 1316,706.2 1317.5,706.1 1319,706.1 1320.5,706 1322,706 1323.5,706 1324.2,706 1325,706 1326.5,706.2 1328.1,706.7 1329.6,707.2 1331.1,707.9 1332.6,708.6 1334.1,709.3 1335.6,710 1337.1,710.7 1338.6,711.3 1340.1,711.8 1341.6,712.1 1342.9,712.1 1343.1,712.1 1344.6,712.1 1346.1,711.9 1347.6,711.6 1349.1,711.2 1350.6,710.7 1352.1,710.2 1353.6,709.6 1355.1,708.9 1356.6,708.1 1358.1,707.3 1359.6,706.5 1360.5,706 1361.1,705.6 1362.6,704.3 1364.1,702.5 1365.6,700.5 1367.1,698.3 1367.2,698.2 1368.7,695.5 1370.2,692.1 1371.7,688.5 1372.7,686.1 1373.2,685 1374.7,681.5 1376.2,677.9 1377.7,674.2 1378.2,672.9 1379.2,670.2 1380.7,665.9 1382.2,661.6 1383.7,657.5 1383.7,657.4 1385.2,653.2 1386.7,649.2 1388.1,646.5 1388.2,646.3 1389.7,644.9 1391.2,643.4 1391.4,643.2 1392.7,640.4 1394.2,635.9 1395.7,631.2 1395.8,631 1397.2,626.1 1398.7,621.3 1399.8,620 1400.2,620.1 1401.7,621.3 1403.2,623 1403.5,623.3 1404.7,625.3 1406.3,628.3 1407.8,630.9 1407.9,631 1409.3,632.5 1410.8,633.9 1412.3,635 1413.4,635.5 1413.8,635.6 1415.3,635.9 1416.8,636.2 1418.3,636.5 1419.8,636.6 1420,636.6 1421.3,636.2 1422.8,635.2 1424.3,634 1425.5,633.3 1425.8,633.1 1427.3,632.3 1428.8,631.6 1430.3,631.1 1431,631 1431.8,631.3 1433.3,633 1434.8,635.5 1435.5,636.6 1436.3,638.1 1437.8,641.4 1439.3,645 1440.8,648.4 1441,648.7 1442.3,651.6 1443.8,654.9 1445.4,657.8 1446.5,659.7 1446.9,660.3 1448.4,662.3 1449.9,664.1 1451.4,665.7 1452.9,667.2 1453.1,667.4 1454.4,668.5 1455.9,669.7 1457.4,670.8 1458.9,672.1 1459.7,672.9 1460.4,673.8 1461.9,676 1463.4,678.7 1464.9,681.5 1466.3,683.9 1466.4,684.1 1467.9,686.7 1469.4,689.3 1470.9,691.8 1472.4,694.2 1472.9,695 1473.9,696.4 1475.4,698.5 1476.9,700.5 1478.4,702.4 1479.5,703.8 1479.9,704.3 1481.4,706.4 1482.9,708.5 1484.4,710.3 1486,711.4 1486.1,711.5 1487.5,711.9 1489,712.3 1490.5,712.7 1492,712.9 1492.8,713 1493.5,713.1 1495,713.3 1496.5,713.5 1498,713.7 1499.5,713.8 1501,713.9 1501.6,713.9 1502.5,713.9 1504,713.9 1505.5,713.9 1507,713.9 1508.5,713.9 1510,713.9 1511.5,713.9 1513,713.9 1514.5,713.9 1516,713.9 1517.5,713.9 1519,713.9 1520.5,713.9 1522,713.9 1523.5,713.9 1525.1,713.9 1526.6,713.9 1528.1,713.9 1529.6,713.9 1531.1,713.9 1532.6,713.9 1534.1,713.9 1535.6,713.9 1537.1,713.9 1538.6,713.9" fill="none" stroke="#E69F00" stroke-width="2.9" stroke-linejoin="round"/>
<polyline points="1290.5,713 1291.5,713 1292.5,713 1293.5,713 1294.5,712.9 1295.5,712.9 1296.5,712.8 1297.5,712.7 1298.5,712.7 1299.5,712.6 1300.5,712.5 1301.5,712.3 1302.5,712.2 1303.5,712.1 1304.5,711.8 1305.5,711.4 1306.5,710.9 1307.5,710.2 1308.5,709.5 1309.5,708.8 1310.5,708.1 1311.5,707.3 1312.5,706.6 1313.5,706 1314.5,705.4 1315.5,704.9 1316.5,704.3 1317.5,703.7 1318.5,703.1 1319.5,702.6 1320.5,702.1 1321.5,701.7 1322.5,701.4 1323.5,701.2 1324.5,701.2 1325.5,701.4 1326.5,701.8 1327.5,702.3 1328.5,702.9 1329.5,703.5 1330.5,704.2 1331.5,704.8 1332.5,705.3 1333.5,705.7 1334.5,706.1 1335.5,706.4 1336.5,706.8 1337.5,707.1 1338.5,707.4 1339.5,707.7 1340.5,707.9 1341.5,708.1 1342.5,708.1 1343.5,708.1 1344.5,707.9 1345.5,707.6 1346.5,707.2 1347.5,706.8 1348.5,706.2 1349.5,705.6 1350.5,705 1351.5,704.3 1352.5,703.6 1353.5,702.9 1354.5,702 1355.5,701 1356.5,700 1357.5,698.8 1358.5,697.6 1359.5,696.3 1360.5,695 1361.5,693.5 1362.5,691.8 1363.5,690 1364.5,688 1365.5,685.8 1366.5,683.3 1367.5,680.4 1368.5,677 1369.5,673 1370.5,668.5 1371.5,663.5 1372.5,658 1373.5,651.8 1374.5,644.8 1375.5,637.1 1376.5,628.9 1377.5,620.1 1378.5,610.7 1379.5,600.9 1380.5,591.4 1381.5,582.6 1382.5,574.6 1383.5,567.7 1384.5,562.6 1385.5,559.3 1386.5,557.3 1387.5,555.8 1388.5,554.4 1389.5,553.2 1390.5,552 1391.5,551.3 1392.5,551.3 1393.5,552.4 1394.5,554.7 1395.5,557.8 1396.5,561.4 1397.5,565.3 1398.5,569.6 1399.5,574.2 1400.5,578.9 1401.5,583.5 1402.5,587.9 1403.5,592.2 1404.5,596.1 1405.5,599.3 1406.5,602 1407.5,604.2 1408.5,606.2 1409.5,607.8 1410.5,609.2 1411.5,610.3 1412.5,611.3 1413.5,612.1 1414.5,612.8 1415.5,613.5 1416.5,614 1417.5,614.4 1418.5,614.7 1419.5,615 1420.5,615.2 1421.5,615.4 1422.5,615.5 1423.5,615.5 1424.5,615.2 1425.5,614.7 1426.5,614 1427.5,613.4 1428.5,612.8 1429.5,612.5 1430.5,612.5 1431.5,612.8 1432.5,613.3 1433.5,614 1434.5,614.8 1435.5,615.9 1436.5,617.2 1437.5,619 1438.5,621.1 1439.5,623.3 1440.5,625.7 1441.5,628 1442.5,630.5 1443.5,633.1 1444.5,635.6 1445.5,637.8 1446.5,639.8 1447.5,641.5 1448.5,643 1449.5,644.3 1450.5,645.6 1451.5,646.8 1452.5,648 1453.5,649.2 1454.5,650.4 1455.5,651.5 1456.5,652.7 1457.5,653.8 1458.5,655 1459.5,656.2 1460.5,657.6 1461.5,658.9 1462.5,660.4 1463.5,661.9 1464.5,663.4 1465.5,665.1 1466.5,666.8 1467.5,668.7 1468.5,670.7 1469.6,672.8 1470.6,674.9 1471.6,676.9 1472.6,678.8 1473.6,680.6 1474.6,682.2 1475.6,683.8 1476.6,685.3 1477.6,686.7 1478.6,688.1 1479.6,689.5 1480.6,690.7 1481.6,692 1482.6,693.2 1483.6,694.3 1484.6,695.4 1485.6,696.5 1486.6,697.6 1487.6,698.7 1488.6,699.8 1489.6,700.8 1490.6,701.8 1491.6,702.7 1492.6,703.6 1493.6,704.4 1494.6,705.1 1495.6,705.8 1496.6,706.5 1497.6,707.2 1498.6,707.8 1499.6,708.3 1500.6,708.8 1501.6,709.3 1502.6,709.7 1503.6,710.1 1504.6,710.5 1505.6,710.9 1506.6,711.3 1507.6,711.6 1508.6,711.9 1509.6,712.2 1510.6,712.4 1511.6,712.5 1512.6,712.6 1513.6,712.6 1514.6,712.6 1515.6,712.6 1516.6,712.6 1517.6,712.6 1518.6,712.6 1519.6,712.6 1520.6,712.6 1521.6,712.6 1522.6,712.6 1523.6,712.6 1524.6,712.6 1525.6,712.6 1526.6,712.6 1527.6,712.5 1528.6,712.5 1529.6,712.4 1530.6,712.4 1531.6,712.3 1532.6,712.2 1533.6,712.1 1534.6,712 1535.6,711.9 1536.6,711.7 1537.6,711.6 1538.6,711.5" fill="none" stroke="#000000" stroke-width="9.3" stroke-linejoin="round"/>
<text transform="translate(1401.3,441.4) scale(1,1.04)" font-family="'Liberation Sans', Arial, sans-serif" font-size="38" text-anchor="middle" fill="#000000">n = 51</text>
<path d="M1278.6 408.5h1.7v331h-1.7zM1278.6 408.5h273.9v1.7h-273.9zM1549.8 408.5h2.7v331h-2.7zM1278.6 736.8h273.9v2.7h-273.9z" fill="#1e1e1e"/>
</g>
<g>
<path d="M1573.3 665.3H1840.2M1573.3 569.5H1840.2M1573.3 473.7H1840.2M1582.6 411.5V735.5M1637.8 411.5V735.5M1693 411.5V735.5M1748.2 411.5V735.5M1803.4 411.5V735.5" stroke="#EBEBEB" stroke-width="1.5" fill="none"/>
<path d="M1573.3 713.2H1840.2M1573.3 617.4H1840.2M1573.3 521.6H1840.2M1573.3 425.8H1840.2M1610.2 411.5V735.5M1665.4 411.5V735.5M1720.6 411.5V735.5M1775.8 411.5V735.5M1831 411.5V735.5" stroke="#EBEBEB" stroke-width="2.9" fill="none"/>
<rect x="1666" y="431.1" width="32.1" height="281.3" fill="rgba(211,211,211,0.5)"/>
<rect x="1704" y="431.1" width="33.1" height="281.3" fill="rgba(248,203,173,0.5)"/>
<rect x="1737.2" y="431.1" width="44.2" height="281.3" fill="rgba(193,220,238,0.5)"/>
<polygon points="1582,711.7 1583.5,711.4 1585,711.1 1586.5,710.7 1588,710.4 1589.5,710 1591,709.5 1592.5,709.1 1594,708.6 1595.5,708.1 1597,707.6 1598.5,707.1 1600,706.6 1601.5,706 1603,705.5 1604.5,704.9 1606,704.3 1606.3,704.2 1607.5,703.6 1609,702.7 1610.5,701.8 1612,700.8 1613.5,700 1615,699.5 1616.2,699.4 1616.5,699.4 1618,699.8 1619.5,700.6 1621,701.7 1622.5,702.8 1624,703.7 1625,704.2 1625.5,704.4 1627,705.1 1628.5,705.7 1630,706.3 1631.5,706.8 1633,707 1633.8,707.1 1634.5,707 1636,706.6 1637.5,706 1639,705.1 1640.5,704.1 1642,703.1 1642.6,702.7 1643.5,702.1 1645,701.1 1646.5,700 1648,698.7 1649.5,697.2 1651,695.5 1651.4,695 1652.5,693.3 1654,690.5 1655.5,686.8 1657,682.5 1658.5,677.4 1659.1,675.1 1660,671.3 1661.5,662.6 1663,651.7 1664.5,638.9 1664.7,637.7 1666,621.7 1667.5,599.7 1669,578.7 1669.1,578.2 1670.5,559.9 1672,543.6 1672.4,540.7 1673.5,532.2 1675,523.5 1675.7,520.9 1676.5,518.3 1678,514.8 1679,513.2 1679.5,512.2 1681,510.1 1681.6,509.9 1682.5,511.2 1684,516.8 1684.5,518.7 1685.5,523.5 1687,532 1687.8,536.3 1688.5,540.3 1690,548.8 1691.5,557.1 1692.2,560.5 1693,564.7 1694.5,572.2 1696,578.5 1696.6,580.4 1697.5,582.8 1699,586.1 1700.5,588.9 1702,591.2 1702.1,591.4 1703.5,593.5 1705,595.7 1706.5,597.3 1707.6,598 1708,598.1 1709.5,598.6 1711,598.9 1712.5,599.1 1713.1,599.1 1714,598.5 1715.5,596 1716.9,594.7 1717,594.7 1718.5,595.2 1720,596.4 1721.5,597.7 1721.9,598 1723,598.8 1724.5,599.9 1726,601.2 1727.5,602.4 1727.5,602.5 1729,603.7 1730.5,605.1 1731.9,606.8 1732,607.1 1733.5,611.7 1735,618 1736.3,622.2 1736.5,622.9 1738,626.3 1739.5,629.2 1741,631.9 1741.8,633.3 1742.5,634.5 1744,636.9 1745.5,639.2 1747,641.6 1747.3,642.1 1748.5,644.4 1750,647.4 1751.5,650.6 1753,653.6 1753.9,655.3 1754.5,656.4 1756,658.9 1757.5,661.4 1759,663.8 1760.5,666.3 1760.5,666.3 1762,669.1 1763.5,672 1765,674.8 1766.5,677.5 1767.1,678.4 1768,679.8 1769.5,682 1771,684.1 1772.5,685.9 1773.7,687.2 1774,687.5 1775.5,689 1777,690.3 1778.5,691.5 1780,692.5 1780.3,692.8 1781.5,693.4 1783,694.2 1784.5,694.8 1786,695.6 1787,696.1 1787.5,696.4 1789,697.3 1790.5,698.3 1792,699.3 1793.5,700.4 1793.6,700.5 1795,701.7 1796.5,703.2 1798,704.7 1799.5,706 1801,707 1801.3,707.1 1802.5,707.5 1804,708.1 1805.5,708.6 1807,709 1808.5,709.4 1810,709.8 1811.5,710 1813,710.2 1814.5,710.4 1815.6,710.4 1816,710.4 1817.5,710.4 1819,710.4 1820.5,710.3 1822,710.3 1823.5,710.2 1825,710.1 1826.5,710 1828,709.8 1829.5,709.6 1831,709.3 1831,713.5 1829.5,713.5 1828,713.5 1826.5,713.5 1825,713.5 1823.5,713.5 1822,713.5 1820.5,713.5 1819,713.4 1817.5,713.4 1816,713.4 1814.5,713.4 1813,713.4 1811.5,713.4 1810,713.4 1808.5,713.4 1807,713.4 1805.5,713.4 1804,713.3 1802.5,713.3 1801,713.3 1799.5,713.3 1798,713.3 1796.5,713.3 1795,713.2 1793.5,713.2 1792,713.2 1790.5,713.1 1789,713.1 1787.5,713.1 1786,713.1 1784.8,713 1784.5,713 1783,712.8 1781.5,712.4 1780,711.8 1778.5,711.1 1777,710.4 1777,710.4 1775.5,709.5 1774,708.3 1772.5,706.9 1771,705.5 1769.5,704 1769.3,703.8 1768,702.5 1766.5,700.9 1765,699.2 1763.5,697.4 1762,695.5 1761.6,695 1760.5,693.4 1759,690.9 1757.5,688.2 1756,685.4 1754.5,682.8 1753.9,681.7 1753,680.3 1751.5,677.7 1750,675.2 1748.5,672.9 1747,670.7 1746.2,669.6 1745.5,668.8 1744,667.4 1742.5,666.1 1741,664.7 1739.5,663.2 1738.5,661.9 1738,661.2 1736.5,658.6 1735,655.5 1733.5,652.1 1733,650.9 1732,648.7 1730.5,644.8 1729,641 1727.5,637.8 1727.5,637.7 1726,634.8 1724.5,632.2 1723,631 1723,631 1721.5,631.3 1720,631.9 1718.5,632.7 1717.5,633.3 1717,633.6 1715.5,635.4 1714,637.4 1712.5,638.7 1712,638.8 1711,638.8 1709.5,638.8 1708,638.8 1706.5,638.8 1705.4,638.8 1705,638.7 1703.5,638.1 1702,636.8 1700.5,635.2 1699,633.5 1698.8,633.3 1697.5,631.7 1696,629.5 1694.5,626.9 1693.3,624.4 1693,623.8 1691.5,619.6 1690,614.7 1688.9,611.2 1688.5,610.1 1687,604.9 1685.6,602.4 1685.5,602.4 1684,605.1 1682.5,610.4 1682.3,611.2 1681,616.6 1679.5,624.1 1679,626.6 1678,630.6 1676.5,636.5 1675,642.4 1674.6,644.3 1673.5,648.9 1672,655.8 1670.5,662.6 1670.2,664.1 1669,669 1667.5,675.3 1666,680.9 1665.8,681.7 1664.5,685.7 1663,690.3 1661.5,694.4 1660,697.8 1659.1,699.4 1658.5,700.3 1657,702.4 1655.5,704.3 1654,705.9 1652.5,707.1 1651.4,707.7 1651,707.9 1649.5,708.7 1648,709.4 1646.5,710 1645,710.6 1643.5,711.2 1642,711.7 1640.5,712.1 1639,712.5 1637.5,712.7 1636,712.9 1634.5,713 1633.8,713 1633,713 1631.5,712.8 1630,712.4 1628.5,711.9 1627,711.3 1625.5,710.6 1624,709.9 1622.5,709.3 1621,708.7 1619.5,708.2 1618,707.9 1616.5,707.7 1616.2,707.7 1615,707.7 1613.5,707.7 1612,707.8 1610.5,707.8 1609,707.8 1607.5,707.9 1606,707.9 1604.5,708 1603,708.1 1601.5,708.3 1600,708.5 1598.5,708.6 1597,708.9 1595.5,709.1 1594,709.4 1592.5,709.8 1591,710.2 1589.5,710.6 1588,711.1 1586.5,711.6 1585,712.2 1583.5,712.8 1582,713.5" fill="#E69F00" fill-opacity="0.5" stroke="none"/>
<polyline points="1582,711.7 1583.5,711.4 1585,711.1 1586.5,710.7 1588,710.4 1589.5,710 1591,709.5 1592.5,709.1 1594,708.6 1595.5,708.1 1597,707.6 1598.5,707.1 1600,706.6 1601.5,706 1603,705.5 1604.5,704.9 1606,704.3 1606.3,704.2 1607.5,703.6 1609,702.7 1610.5,701.8 1612,700.8 1613.5,700 1615,699.5 1616.2,699.4 1616.5,699.4 1618,699.8 1619.5,700.6 1621,701.7 1622.5,702.8 1624,703.7 1625,704.2 1625.5,704.4 1627,705.1 1628.5,705.7 1630,706.3 1631.5,706.8 1633,707 1633.8,707.1 1634.5,707 1636,706.6 1637.5,706 1639,705.1 1640.5,704.1 1642,703.1 1642.6,702.7 1643.5,702.1 1645,701.1 1646.5,700 1648,698.7 1649.5,697.2 1651,695.5 1651.4,695 1652.5,693.3 1654,690.5 1655.5,686.8 1657,682.5 1658.5,677.4 1659.1,675.1 1660,671.3 1661.5,662.6 1663,651.7 1664.5,638.9 1664.7,637.7 1666,621.7 1667.5,599.7 1669,578.7 1669.1,578.2 1670.5,559.9 1672,543.6 1672.4,540.7 1673.5,532.2 1675,523.5 1675.7,520.9 1676.5,518.3 1678,514.8 1679,513.2 1679.5,512.2 1681,510.1 1681.6,509.9 1682.5,511.2 1684,516.8 1684.5,518.7 1685.5,523.5 1687,532 1687.8,536.3 1688.5,540.3 1690,548.8 1691.5,557.1 1692.2,560.5 1693,564.7 1694.5,572.2 1696,578.5 1696.6,580.4 1697.5,582.8 1699,586.1 1700.5,588.9 1702,591.2 1702.1,591.4 1703.5,593.5 1705,595.7 1706.5,597.3 1707.6,598 1708,598.1 1709.5,598.6 1711,598.9 1712.5,599.1 1713.1,599.1 1714,598.5 1715.5,596 1716.9,594.7 1717,594.7 1718.5,595.2 1720,596.4 1721.5,597.7 1721.9,598 1723,598.8 1724.5,599.9 1726,601.2 1727.5,602.4 1727.5,602.5 1729,603.7 1730.5,605.1 1731.9,606.8 1732,607.1 1733.5,611.7 1735,618 1736.3,622.2 1736.5,622.9 1738,626.3 1739.5,629.2 1741,631.9 1741.8,633.3 1742.5,634.5 1744,636.9 1745.5,639.2 1747,641.6 1747.3,642.1 1748.5,644.4 1750,647.4 1751.5,650.6 1753,653.6 1753.9,655.3 1754.5,656.4 1756,658.9 1757.5,661.4 1759,663.8 1760.5,666.3 1760.5,666.3 1762,669.1 1763.5,672 1765,674.8 1766.5,677.5 1767.1,678.4 1768,679.8 1769.5,682 1771,684.1 1772.5,685.9 1773.7,687.2 1774,687.5 1775.5,689 1777,690.3 1778.5,691.5 1780,692.5 1780.3,692.8 1781.5,693.4 1783,694.2 1784.5,694.8 1786,695.6 1787,696.1 1787.5,696.4 1789,697.3 1790.5,698.3 1792,699.3 1793.5,700.4 1793.6,700.5 1795,701.7 1796.5,703.2 1798,704.7 1799.5,706 1801,707 1801.3,707.1 1802.5,707.5 1804,708.1 1805.5,708.6 1807,709 1808.5,709.4 1810,709.8 1811.5,710 1813,710.2 1814.5,710.4 1815.6,710.4 1816,710.4 1817.5,710.4 1819,710.4 1820.5,710.3 1822,710.3 1823.5,710.2 1825,710.1 1826.5,710 1828,709.8 1829.5,709.6 1831,709.3" fill="none" stroke="#E69F00" stroke-width="2.9" stroke-linejoin="round"/>
<polyline points="1582,713.5 1583.5,712.8 1585,712.2 1586.5,711.6 1588,711.1 1589.5,710.6 1591,710.2 1592.5,709.8 1594,709.4 1595.5,709.1 1597,708.9 1598.5,708.6 1600,708.5 1601.5,708.3 1603,708.1 1604.5,708 1606,707.9 1607.5,707.9 1609,707.8 1610.5,707.8 1612,707.8 1613.5,707.7 1615,707.7 1616.2,707.7 1616.5,707.7 1618,707.9 1619.5,708.2 1621,708.7 1622.5,709.3 1624,709.9 1625.5,710.6 1627,711.3 1628.5,711.9 1630,712.4 1631.5,712.8 1633,713 1633.8,713 1634.5,713 1636,712.9 1637.5,712.7 1639,712.5 1640.5,712.1 1642,711.7 1643.5,711.2 1645,710.6 1646.5,710 1648,709.4 1649.5,708.7 1651,707.9 1651.4,707.7 1652.5,707.1 1654,705.9 1655.5,704.3 1657,702.4 1658.5,700.3 1659.1,699.4 1660,697.8 1661.5,694.4 1663,690.3 1664.5,685.7 1665.8,681.7 1666,680.9 1667.5,675.3 1669,669 1670.2,664.1 1670.5,662.6 1672,655.8 1673.5,648.9 1674.6,644.3 1675,642.4 1676.5,636.5 1678,630.6 1679,626.6 1679.5,624.1 1681,616.6 1682.3,611.2 1682.5,610.4 1684,605.1 1685.5,602.4 1685.6,602.4 1687,604.9 1688.5,610.1 1688.9,611.2 1690,614.7 1691.5,619.6 1693,623.8 1693.3,624.4 1694.5,626.9 1696,629.5 1697.5,631.7 1698.8,633.3 1699,633.5 1700.5,635.2 1702,636.8 1703.5,638.1 1705,638.7 1705.4,638.8 1706.5,638.8 1708,638.8 1709.5,638.8 1711,638.8 1712,638.8 1712.5,638.7 1714,637.4 1715.5,635.4 1717,633.6 1717.5,633.3 1718.5,632.7 1720,631.9 1721.5,631.3 1723,631 1723,631 1724.5,632.2 1726,634.8 1727.5,637.7 1727.5,637.8 1729,641 1730.5,644.8 1732,648.7 1733,650.9 1733.5,652.1 1735,655.5 1736.5,658.6 1738,661.2 1738.5,661.9 1739.5,663.2 1741,664.7 1742.5,666.1 1744,667.4 1745.5,668.8 1746.2,669.6 1747,670.7 1748.5,672.9 1750,675.2 1751.5,677.7 1753,680.3 1753.9,681.7 1754.5,682.8 1756,685.4 1757.5,688.2 1759,690.9 1760.5,693.4 1761.6,695 1762,695.5 1763.5,697.4 1765,699.2 1766.5,700.9 1768,702.5 1769.3,703.8 1769.5,704 1771,705.5 1772.5,706.9 1774,708.3 1775.5,709.5 1777,710.4 1777,710.4 1778.5,711.1 1780,711.8 1781.5,712.4 1783,712.8 1784.5,713 1784.8,713 1786,713.1 1787.5,713.1 1789,713.1 1790.5,713.1 1792,713.2 1793.5,713.2 1795,713.2 1796.5,713.3 1798,713.3 1799.5,713.3 1801,713.3 1802.5,713.3 1804,713.3 1805.5,713.4 1807,713.4 1808.5,713.4 1810,713.4 1811.5,713.4 1813,713.4 1814.5,713.4 1816,713.4 1817.5,713.4 1819,713.4 1820.5,713.5 1822,713.5 1823.5,713.5 1825,713.5 1826.5,713.5 1828,713.5 1829.5,713.5 1831,713.5" fill="none" stroke="#E69F00" stroke-width="2.9" stroke-linejoin="round"/>
<polyline points="1582,712.6 1583,712.6 1584,712.5 1585,712.5 1586,712.5 1587,712.4 1588,712.3 1589,712.2 1590,712.1 1591,712 1592,711.9 1593,711.8 1594,711.6 1595,711.5 1596,711.3 1597,711 1598,710.7 1599,710.3 1600,709.9 1601,709.4 1602,709 1603,708.5 1604,708 1605,707.6 1606,707.2 1607,706.8 1608,706.4 1609,705.9 1610,705.5 1611,705.1 1612,704.7 1613,704.3 1614,704.1 1615,703.9 1616,703.9 1617,704 1618,704.3 1619,704.7 1620,705.3 1621,706 1622,706.6 1623,707.2 1624,707.7 1625,708.1 1626,708.5 1627,708.8 1628,709 1629,709.3 1630,709.5 1631,709.7 1632,709.8 1633,709.9 1634,709.9 1635,709.8 1636,709.6 1637,709.4 1638,709 1639,708.7 1640,708.2 1641,707.8 1642,707.3 1643,706.9 1644,706.3 1645,705.8 1646,705.1 1647,704.4 1648,703.6 1649,702.8 1650,701.9 1651,700.8 1652,699.7 1653,698.4 1654,697 1655,695.3 1656,693.4 1657,691.3 1658,688.9 1659,686.2 1660,683 1661,679.1 1662,674.5 1663,669.2 1664,663.3 1665,656.5 1666,648.5 1667,639.5 1668,630 1669,620.4 1670,610.8 1671,601.2 1672,592.1 1673,584.2 1674,577.6 1675,572.2 1676,567.9 1677,564.8 1678,562.6 1679,561 1680,559.6 1681,558.5 1682,557.6 1683,556.9 1684,556.7 1685,557.7 1686,560.2 1687,564 1688,568.1 1689,572.5 1690,577.1 1691,581.7 1692,586.1 1693,590.1 1694,593.8 1695,597.3 1696,600.5 1697,603.5 1698,606.4 1699,609.1 1700,611.6 1701,613.6 1702,615.3 1703,616.6 1704,617.8 1705,618.8 1706,619.6 1707,620.3 1708,620.8 1709,621.2 1710,621.5 1711,621.7 1712,621.9 1713,622 1714,622.1 1715,622.2 1716,622 1717,621.7 1718,621.3 1719,620.7 1720,620.1 1721,619.6 1722,619.2 1723,619.2 1724,619.6 1725,620.6 1726,622.1 1727,623.8 1728,625.7 1729,627.7 1730,629.9 1731,632.3 1732,634.9 1733,637.4 1734,639.7 1735,641.8 1736,643.8 1737,645.8 1738,647.6 1739,649.3 1740,650.9 1741,652.4 1742,653.7 1743,654.8 1744,655.9 1745,657 1746,658.1 1747,659.2 1748,660.4 1749,661.7 1750,663.1 1751,664.6 1752,666.2 1753,667.8 1754,669.5 1755,671.1 1756,672.8 1757,674.5 1758,676.2 1759,678 1760,679.8 1761,681.6 1762,683.3 1763,684.9 1764,686.4 1765,687.8 1766,689.2 1767,690.6 1768,691.9 1769,693.1 1770,694.3 1771,695.5 1772,696.6 1773,697.7 1774,698.8 1775,699.9 1776,700.9 1777,701.8 1778,702.7 1779,703.6 1780,704.3 1781,705.1 1782,705.8 1783,706.4 1784,707 1785,707.6 1786,708.1 1787,708.6 1788,709.1 1789,709.5 1790,710 1791,710.4 1792,710.7 1793,711 1794,711.3 1795,711.5 1796,711.8 1797,712 1798,712.1 1799,712.3 1800,712.4 1801,712.5 1802,712.6 1803,712.6 1804,712.6 1805,712.6 1806,712.6 1807,712.6 1808,712.6 1809,712.6 1810,712.6 1811,712.6 1812,712.6 1813,712.6 1814,712.6 1815,712.6 1816,712.6 1817,712.6 1818,712.5 1819,712.5 1820,712.4 1821,712.3 1822,712.2 1823,712.1 1824,711.9 1825,711.8 1826,711.7 1827,711.5 1828,711.3 1829,711.2 1830,711 1831,710.9" fill="none" stroke="#000000" stroke-width="9.3" stroke-linejoin="round"/>
<text transform="translate(1693,441.4) scale(1,1.04)" font-family="'Liberation Sans', Arial, sans-serif" font-size="38" text-anchor="middle" fill="#000000">n = 38</text>
<path d="M1570.3 408.5h1.7v331h-1.7zM1570.3 408.5h273.9v1.7h-273.9zM1841.5 408.5h2.7v331h-2.7zM1570.3 736.8h273.9v2.7h-273.9z" fill="#1e1e1e"/>
</g>
<g>
<path d="M114.9 1013.7H381.9M114.9 917.9H381.9M114.9 822.1H381.9M124.2 759.9V1083.9M179.4 759.9V1083.9M234.6 759.9V1083.9M289.9 759.9V1083.9M345 759.9V1083.9" stroke="#EBEBEB" stroke-width="1.5" fill="none"/>
<path d="M114.9 1061.6H381.9M114.9 965.8H381.9M114.9 870H381.9M114.9 774.2H381.9M151.8 759.9V1083.9M207.1 759.9V1083.9M262.2 759.9V1083.9M317.4 759.9V1083.9M372.6 759.9V1083.9" stroke="#EBEBEB" stroke-width="2.9" fill="none"/>
<rect x="207.6" y="779.5" width="32.1" height="281.3" fill="rgba(211,211,211,0.5)"/>
<rect x="245.7" y="779.5" width="33.1" height="281.3" fill="rgba(248,203,173,0.5)"/>
<rect x="278.8" y="779.5" width="44.2" height="281.3" fill="rgba(193,220,238,0.5)"/>
<polygon points="124.1,1060.1 125.6,1059.6 127.1,1059.1 128.6,1058.5 130.1,1057.9 131.7,1057.3 133.2,1056.6 134.7,1055.9 136.2,1055.2 137.7,1054.5 139.2,1053.8 140.7,1053 142.2,1052.3 143.7,1051.5 145.2,1050.7 146.7,1049.9 147.3,1049.6 148.2,1049 149.7,1047.8 151.2,1046.6 152.7,1045.3 154.3,1044.1 155.8,1043.2 157.3,1042.6 158.3,1042.5 158.8,1042.6 160.3,1043.2 161.8,1044.4 163.3,1045.9 164.8,1047.5 166.3,1049 167.1,1049.6 167.8,1050.1 169.3,1051.3 170.8,1052.6 172.3,1053.7 173.8,1054.6 175.3,1055 175.9,1055.1 176.9,1055 178.4,1054.7 179.9,1054.2 181.4,1053.5 182.9,1052.7 184.4,1051.9 184.7,1051.8 185.9,1051.1 187.4,1050.2 188.9,1049.2 190.4,1048 191.9,1046.7 193.4,1045.3 193.5,1045.2 194.9,1043.7 196.4,1041.8 197.9,1039.7 199.5,1037.3 201,1034.7 201.2,1034.1 202.5,1031.8 204,1028.5 205.5,1024.5 207,1019.5 207.2,1018.7 208.5,1012.3 210,1002 211.2,992.3 211.5,988.8 213,969.2 213.8,959.2 214.5,951 216,935 216.7,930.6 217.5,926.3 219,920.7 220,919.6 220.5,919.6 222.1,919.9 223.6,920.4 224.4,920.7 225.1,920.9 226.6,921.8 228.1,922.8 229.6,923.7 231,924 231.1,924 232.6,923.5 234.1,922.6 235.6,921.9 236.5,921.8 237.1,921.9 238.6,923.3 240.1,925.4 241.6,927 242,927.3 243.1,927.8 244.7,928.5 246.2,929.1 247.7,929.4 248.6,929.5 249.2,929.4 250.7,928.2 252.2,926.2 253.7,924.2 255.2,922.9 255.2,922.9 256.7,922.2 258.2,921.8 259.7,921.4 261.2,920.9 261.8,920.7 262.7,920.3 264.2,919.6 265.7,918.8 266.3,918.4 267.3,917.1 268.8,914.6 269.6,914 270.3,914.4 271.8,917.1 272.9,919.6 273.3,920.7 274.8,926.4 276.2,930.6 276.3,930.8 277.8,932.6 279.3,933.9 280.8,935.2 281.7,936.1 282.3,936.9 283.8,939 285.3,941.4 286.8,943.8 288.3,946 288.3,946.1 289.9,948.1 291.4,950.1 292.9,952 294.4,954.1 294.9,954.8 295.9,956.2 297.4,958.4 298.9,960.8 300.4,963.6 300.4,963.6 301.9,967.1 303.4,971.3 304.9,975.9 305.9,979 306.4,980.7 307.9,985.9 309.4,991.3 310.3,994.5 310.9,996.7 312.5,1002.3 314,1007.9 315.5,1013.1 315.8,1014.3 317,1017.9 318.5,1022.5 320,1026.6 321.3,1029.7 321.5,1030 323,1032.9 324.5,1035.5 326,1037.6 326.9,1038.5 327.5,1039.2 329,1040.5 330.5,1041.6 332,1042.7 332.4,1043 333.5,1044 335.1,1045.3 336.6,1046.6 338.1,1047.8 339,1048.5 339.6,1048.8 341.1,1049.6 342.6,1050.2 344.1,1050.9 345.6,1051.8 345.6,1051.8 347.1,1053.4 348.6,1055.4 350,1056.2 350.1,1056.2 351.6,1056.2 353.1,1056.2 354.6,1056.2 356.1,1056.2 357.7,1056.2 358.8,1056.2 359.2,1056.2 360.7,1055.9 362.2,1055.3 363.7,1054.6 365.2,1054.1 366.5,1054 366.7,1054 368.2,1054.2 369.7,1054.8 371.2,1055.8 372.7,1057 374.2,1058.4 374.2,1061.9 372.7,1061.9 371.2,1061.9 369.7,1061.9 368.2,1061.9 366.7,1061.9 365.2,1061.9 363.7,1061.9 362.2,1061.9 360.7,1061.9 359.2,1061.9 357.7,1061.9 356.1,1061.9 354.6,1061.9 353.1,1061.9 351.6,1061.9 350.1,1061.9 348.6,1061.9 347.1,1061.9 345.6,1061.9 344.1,1061.9 342.6,1061.9 341.1,1061.9 339.6,1061.9 338.1,1061.9 336.6,1061.9 335.1,1061.9 333.5,1061.9 332.4,1061.9 332,1061.9 330.5,1061.8 329,1061.6 327.5,1061.4 326,1061.1 325.8,1061 324.5,1060.6 323,1059.6 321.5,1058.4 320,1057 319.1,1056.2 318.5,1055.5 317,1053.7 315.5,1051.7 314,1049.5 312.5,1047.4 312.5,1047.3 310.9,1044.9 309.4,1042.4 307.9,1039.8 306.4,1037.2 305.9,1036.3 304.9,1034.7 303.4,1032.3 301.9,1029.8 300.4,1027.3 299.3,1025.3 298.9,1024.6 297.4,1021.6 295.9,1018.5 294.4,1015.4 292.9,1012.4 292.7,1012.1 291.4,1009.8 289.9,1007.3 288.3,1004.9 286.8,1002.4 286.1,1001.1 285.3,999.7 283.8,996.8 282.3,993.9 280.8,990.7 279.5,987.9 279.3,987.5 277.8,984 276.3,980.3 274.8,976.6 274,974.6 273.3,973 271.8,969 270.3,965.7 269.6,964.7 268.8,964 267.3,962.7 265.7,961.8 264.2,961.4 264,961.4 262.7,962.3 261.2,964.9 259.7,967.9 259.6,968 258.2,971.3 256.7,975.5 255.2,979 254.1,980.2 253.7,980.3 252.2,980.7 250.7,980.9 249.7,981.3 249.2,981.6 247.7,983.9 246.2,987.4 244.7,991.2 244.2,992.3 243.1,995.2 241.6,1000 240.1,1004.6 238.7,1007.7 238.6,1007.8 237.1,1009.6 235.6,1011 234.3,1012.1 234.1,1012.3 232.6,1013.7 231.1,1015 229.9,1015.4 229.6,1015.1 228.1,1010.4 227.7,1009.9 226.6,1011.3 225.1,1015.9 223.6,1020.4 223.3,1020.9 222.1,1022.7 220.5,1024.4 219,1026 217.8,1027.5 217.5,1027.8 216,1029.9 214.5,1032 213,1034.1 212.3,1035.2 211.5,1036.4 210,1038.8 208.5,1041.1 207.2,1043 207,1043.2 205.5,1045.1 204,1046.8 202.5,1048.4 201.2,1049.6 201,1049.8 199.5,1051.3 197.9,1052.8 196.4,1054.2 194.9,1055.3 193.5,1056.2 193.4,1056.2 191.9,1057 190.4,1057.7 188.9,1058.3 187.4,1059 185.9,1059.6 184.4,1060.1 182.9,1060.6 181.4,1061 179.9,1061.3 178.4,1061.5 176.9,1061.7 175.9,1061.7 175.3,1061.7 173.8,1061.4 172.3,1060.9 170.8,1060.1 169.3,1059.3 167.8,1058.3 166.3,1057.3 164.8,1056.4 163.3,1055.5 161.8,1054.8 160.3,1054.2 158.8,1054 158.3,1054 157.3,1054 155.8,1054 154.3,1054 152.7,1054 151.2,1054.1 149.7,1054.1 148.2,1054.2 146.7,1054.3 145.2,1054.5 143.7,1054.7 142.2,1054.9 140.7,1055.2 139.2,1055.5 137.7,1055.8 136.2,1056.2 134.7,1056.7 133.2,1057.2 131.7,1057.8 130.1,1058.5 128.6,1059.2 127.1,1060 125.6,1060.9 124.1,1061.9" fill="#E69F00" fill-opacity="0.5" stroke="none"/>
<polyline points="124.1,1060.1 125.6,1059.6 127.1,1059.1 128.6,1058.5 130.1,1057.9 131.7,1057.3 133.2,1056.6 134.7,1055.9 136.2,1055.2 137.7,1054.5 139.2,1053.8 140.7,1053 142.2,1052.3 143.7,1051.5 145.2,1050.7 146.7,1049.9 147.3,1049.6 148.2,1049 149.7,1047.8 151.2,1046.6 152.7,1045.3 154.3,1044.1 155.8,1043.2 157.3,1042.6 158.3,1042.5 158.8,1042.6 160.3,1043.2 161.8,1044.4 163.3,1045.9 164.8,1047.5 166.3,1049 167.1,1049.6 167.8,1050.1 169.3,1051.3 170.8,1052.6 172.3,1053.7 173.8,1054.6 175.3,1055 175.9,1055.1 176.9,1055 178.4,1054.7 179.9,1054.2 181.4,1053.5 182.9,1052.7 184.4,1051.9 184.7,1051.8 185.9,1051.1 187.4,1050.2 188.9,1049.2 190.4,1048 191.9,1046.7 193.4,1045.3 193.5,1045.2 194.9,1043.7 196.4,1041.8 197.9,1039.7 199.5,1037.3 201,1034.7 201.2,1034.1 202.5,1031.8 204,1028.5 205.5,1024.5 207,1019.5 207.2,1018.7 208.5,1012.3 210,1002 211.2,992.3 211.5,988.8 213,969.2 213.8,959.2 214.5,951 216,935 216.7,930.6 217.5,926.3 219,920.7 220,919.6 220.5,919.6 222.1,919.9 223.6,920.4 224.4,920.7 225.1,920.9 226.6,921.8 228.1,922.8 229.6,923.7 231,924 231.1,924 232.6,923.5 234.1,922.6 235.6,921.9 236.5,921.8 237.1,921.9 238.6,923.3 240.1,925.4 241.6,927 242,927.3 243.1,927.8 244.7,928.5 246.2,929.1 247.7,929.4 248.6,929.5 249.2,929.4 250.7,928.2 252.2,926.2 253.7,924.2 255.2,922.9 255.2,922.9 256.7,922.2 258.2,921.8 259.7,921.4 261.2,920.9 261.8,920.7 262.7,920.3 264.2,919.6 265.7,918.8 266.3,918.4 267.3,917.1 268.8,914.6 269.6,914 270.3,914.4 271.8,917.1 272.9,919.6 273.3,920.7 274.8,926.4 276.2,930.6 276.3,930.8 277.8,932.6 279.3,933.9 280.8,935.2 281.7,936.1 282.3,936.9 283.8,939 285.3,941.4 286.8,943.8 288.3,946 288.3,946.1 289.9,948.1 291.4,950.1 292.9,952 294.4,954.1 294.9,954.8 295.9,956.2 297.4,958.4 298.9,960.8 300.4,963.6 300.4,963.6 301.9,967.1 303.4,971.3 304.9,975.9 305.9,979 306.4,980.7 307.9,985.9 309.4,991.3 310.3,994.5 310.9,996.7 312.5,1002.3 314,1007.9 315.5,1013.1 315.8,1014.3 317,1017.9 318.5,1022.5 320,1026.6 321.3,1029.7 321.5,1030 323,1032.9 324.5,1035.5 326,1037.6 326.9,1038.5 327.5,1039.2 329,1040.5 330.5,1041.6 332,1042.7 332.4,1043 333.5,1044 335.1,1045.3 336.6,1046.6 338.1,1047.8 339,1048.5 339.6,1048.8 341.1,1049.6 342.6,1050.2 344.1,1050.9 345.6,1051.8 345.6,1051.8 347.1,1053.4 348.6,1055.4 350,1056.2 350.1,1056.2 351.6,1056.2 353.1,1056.2 354.6,1056.2 356.1,1056.2 357.7,1056.2 358.8,1056.2 359.2,1056.2 360.7,1055.9 362.2,1055.3 363.7,1054.6 365.2,1054.1 366.5,1054 366.7,1054 368.2,1054.2 369.7,1054.8 371.2,1055.8 372.7,1057 374.2,1058.4" fill="none" stroke="#E69F00" stroke-width="2.9" stroke-linejoin="round"/>
<polyline points="124.1,1061.9 125.6,1060.9 127.1,1060 128.6,1059.2 130.1,1058.5 131.7,1057.8 133.2,1057.2 134.7,1056.7 136.2,1056.2 137.7,1055.8 139.2,1055.5 140.7,1055.2 142.2,1054.9 143.7,1054.7 145.2,1054.5 146.7,1054.3 148.2,1054.2 149.7,1054.1 151.2,1054.1 152.7,1054 154.3,1054 155.8,1054 157.3,1054 158.3,1054 158.8,1054 160.3,1054.2 161.8,1054.8 163.3,1055.5 164.8,1056.4 166.3,1057.3 167.8,1058.3 169.3,1059.3 170.8,1060.1 172.3,1060.9 173.8,1061.4 175.3,1061.7 175.9,1061.7 176.9,1061.7 178.4,1061.5 179.9,1061.3 181.4,1061 182.9,1060.6 184.4,1060.1 185.9,1059.6 187.4,1059 188.9,1058.3 190.4,1057.7 191.9,1057 193.4,1056.2 193.5,1056.2 194.9,1055.3 196.4,1054.2 197.9,1052.8 199.5,1051.3 201,1049.8 201.2,1049.6 202.5,1048.4 204,1046.8 205.5,1045.1 207,1043.2 207.2,1043 208.5,1041.1 210,1038.8 211.5,1036.4 212.3,1035.2 213,1034.1 214.5,1032 216,1029.9 217.5,1027.8 217.8,1027.5 219,1026 220.5,1024.4 222.1,1022.7 223.3,1020.9 223.6,1020.4 225.1,1015.9 226.6,1011.3 227.7,1009.9 228.1,1010.4 229.6,1015.1 229.9,1015.4 231.1,1015 232.6,1013.7 234.1,1012.3 234.3,1012.1 235.6,1011 237.1,1009.6 238.6,1007.8 238.7,1007.7 240.1,1004.6 241.6,1000 243.1,995.2 244.2,992.3 244.7,991.2 246.2,987.4 247.7,983.9 249.2,981.6 249.7,981.3 250.7,980.9 252.2,980.7 253.7,980.3 254.1,980.2 255.2,979 256.7,975.5 258.2,971.3 259.6,968 259.7,967.9 261.2,964.9 262.7,962.3 264,961.4 264.2,961.4 265.7,961.8 267.3,962.7 268.8,964 269.6,964.7 270.3,965.7 271.8,969 273.3,973 274,974.6 274.8,976.6 276.3,980.3 277.8,984 279.3,987.5 279.5,987.9 280.8,990.7 282.3,993.9 283.8,996.8 285.3,999.7 286.1,1001.1 286.8,1002.4 288.3,1004.9 289.9,1007.3 291.4,1009.8 292.7,1012.1 292.9,1012.4 294.4,1015.4 295.9,1018.5 297.4,1021.6 298.9,1024.6 299.3,1025.3 300.4,1027.3 301.9,1029.8 303.4,1032.3 304.9,1034.7 305.9,1036.3 306.4,1037.2 307.9,1039.8 309.4,1042.4 310.9,1044.9 312.5,1047.3 312.5,1047.4 314,1049.5 315.5,1051.7 317,1053.7 318.5,1055.5 319.1,1056.2 320,1057 321.5,1058.4 323,1059.6 324.5,1060.6 325.8,1061 326,1061.1 327.5,1061.4 329,1061.6 330.5,1061.8 332,1061.9 332.4,1061.9 333.5,1061.9 335.1,1061.9 336.6,1061.9 338.1,1061.9 339.6,1061.9 341.1,1061.9 342.6,1061.9 344.1,1061.9 345.6,1061.9 347.1,1061.9 348.6,1061.9 350.1,1061.9 351.6,1061.9 353.1,1061.9 354.6,1061.9 356.1,1061.9 357.7,1061.9 359.2,1061.9 360.7,1061.9 362.2,1061.9 363.7,1061.9 365.2,1061.9 366.7,1061.9 368.2,1061.9 369.7,1061.9 371.2,1061.9 372.7,1061.9 374.2,1061.9" fill="none" stroke="#E69F00" stroke-width="2.9" stroke-linejoin="round"/>
<polyline points="124.1,1061 125.1,1061 126.1,1061 127.1,1060.9 128.1,1060.8 129.1,1060.7 130.1,1060.6 131.1,1060.4 132.1,1060.3 133.1,1060.1 134.1,1059.9 135.1,1059.7 136.1,1059.5 137.1,1059.2 138.1,1058.8 139.1,1058.2 140.1,1057.6 141.1,1057 142.1,1056.3 143.1,1055.5 144.1,1054.8 145.1,1054.1 146.1,1053.5 147.1,1053 148.1,1052.4 149.1,1051.9 150.1,1051.4 151.1,1050.8 152.1,1050.3 153.1,1049.9 154.1,1049.4 155.1,1049.1 156.1,1048.8 157.1,1048.6 158.1,1048.6 159.1,1048.7 160.1,1049.1 161.1,1049.6 162.1,1050.3 163.1,1051.1 164.1,1051.9 165.1,1052.7 166.1,1053.4 167.1,1054 168.1,1054.5 169.1,1055 170.1,1055.5 171.1,1056 172.1,1056.4 173.1,1056.7 174.1,1057 175.1,1057.2 176.1,1057.2 177.1,1057.2 178.1,1057 179.1,1056.8 180.1,1056.6 181.1,1056.3 182.1,1056 183.1,1055.6 184.1,1055.3 185.1,1054.9 186.1,1054.4 187.1,1053.9 188.1,1053.4 189.1,1052.7 190.1,1052.1 191.1,1051.4 192.1,1050.6 193.2,1049.8 194.2,1049.1 195.2,1048.2 196.2,1047.3 197.2,1046.4 198.2,1045.4 199.2,1044.3 200.2,1043.1 201.2,1041.9 202.2,1040.6 203.2,1039.2 204.2,1037.6 205.2,1035.9 206.2,1034 207.2,1031.9 208.2,1029.4 209.2,1026.7 210.2,1023.6 211.2,1020.3 212.2,1016.8 213.2,1013.2 214.2,1009.3 215.2,1005.3 216.2,1001 217.2,996.4 218.2,991.5 219.2,986.4 220.2,981.3 221.2,976.4 222.2,971.6 223.2,967.5 224.2,964.8 225.2,963.6 226.2,963.2 227.2,963 228.2,962.8 229.2,962.7 230.2,962.4 231.2,962 232.2,961.5 233.2,960.9 234.2,960.1 235.2,959.3 236.2,958.2 237.2,956.8 238.2,955.2 239.2,953.7 240.2,952.4 241.2,951.5 242.2,950.8 243.2,950.3 244.2,949.8 245.2,949.5 246.2,949.5 247.2,949.7 248.2,950.2 249.2,951 250.2,951.7 251.2,952.2 252.2,952.1 253.2,951.3 254.2,949.7 255.2,947.8 256.2,945.9 257.2,944.3 258.2,943.1 259.2,942.2 260.2,941.3 261.2,940.6 262.2,940 263.2,939.6 264.2,939.5 265.2,939.5 266.2,939.6 267.2,939.8 268.2,940.1 269.2,940.5 270.2,941.3 271.2,942.7 272.2,944.5 273.2,946.6 274.2,948.6 275.2,950.7 276.2,952.7 277.2,954.8 278.2,956.8 279.2,958.6 280.2,960.2 281.2,961.6 282.2,962.9 283.2,964.1 284.2,965.4 285.2,966.8 286.2,968.3 287.2,970 288.2,971.8 289.2,973.8 290.2,975.9 291.2,978.2 292.2,980.6 293.2,983.3 294.2,986.1 295.2,989 296.2,991.9 297.2,994.7 298.2,997.5 299.2,1000.2 300.2,1002.9 301.2,1005.6 302.2,1008.2 303.2,1010.8 304.2,1013.3 305.2,1015.8 306.2,1018.2 307.2,1020.6 308.2,1022.9 309.2,1025.1 310.2,1027.2 311.2,1029.3 312.2,1031.3 313.2,1033.2 314.2,1035 315.2,1036.8 316.2,1038.4 317.2,1040 318.2,1041.5 319.2,1043 320.2,1044.4 321.2,1045.7 322.2,1046.9 323.2,1048.1 324.2,1049.1 325.2,1050.1 326.2,1051 327.2,1051.8 328.2,1052.6 329.2,1053.3 330.2,1054 331.2,1054.6 332.2,1055.1 333.2,1055.6 334.2,1056.1 335.2,1056.6 336.2,1057 337.2,1057.4 338.2,1057.7 339.2,1058 340.2,1058.3 341.2,1058.6 342.2,1058.8 343.2,1059.1 344.2,1059.4 345.2,1059.6 346.2,1059.8 347.2,1059.9 348.2,1060 349.2,1060.1 350.2,1060.1 351.2,1060.1 352.2,1060.1 353.2,1060.1 354.2,1060.1 355.2,1060.1 356.2,1060.1 357.2,1060.1 358.2,1060.1 359.2,1060.1 360.2,1060.1 361.2,1060.1 362.2,1060.1 363.2,1060.1 364.2,1060.2 365.2,1060.2 366.2,1060.2 367.2,1060.3 368.2,1060.4 369.2,1060.5 370.2,1060.6 371.2,1060.7 372.2,1060.8 373.2,1060.9 374.2,1061" fill="none" stroke="#000000" stroke-width="9.3" stroke-linejoin="round"/>
<text transform="translate(234.6,789.8) scale(1,1.04)" font-family="'Liberation Sans', Arial, sans-serif" font-size="38" text-anchor="middle" fill="#000000">n = 20</text>
<path d="M111.9 756.9h1.7v331h-1.7zM111.9 756.9h273.9v1.7h-273.9zM383.2 756.9h2.7v331h-2.7zM111.9 1085.2h273.9v2.7h-273.9z" fill="#1e1e1e"/>
</g>
<g>
<path d="M406.6 1013.7H673.5M406.6 917.9H673.5M406.6 822.1H673.5M415.9 759.9V1083.9M471.1 759.9V1083.9M526.3 759.9V1083.9M581.5 759.9V1083.9M636.7 759.9V1083.9" stroke="#EBEBEB" stroke-width="1.5" fill="none"/>
<path d="M406.6 1061.6H673.5M406.6 965.8H673.5M406.6 870H673.5M406.6 774.2H673.5M443.5 759.9V1083.9M498.7 759.9V1083.9M553.9 759.9V1083.9M609.1 759.9V1083.9M664.3 759.9V1083.9" stroke="#EBEBEB" stroke-width="2.9" fill="none"/>
<rect x="499.3" y="779.5" width="32.1" height="281.3" fill="rgba(211,211,211,0.5)"/>
<rect x="537.4" y="779.5" width="33.1" height="281.3" fill="rgba(248,203,173,0.5)"/>
<rect x="570.5" y="779.5" width="44.2" height="281.3" fill="rgba(193,220,238,0.5)"/>
<polygon points="415.5,1060.1 417,1059.7 418.5,1059.2 420,1058.7 421.5,1058.1 423,1057.5 424.5,1056.9 426,1056.2 427.5,1055.5 429,1054.8 430.5,1054 432,1053.2 433.5,1052.4 435,1051.6 436.5,1050.7 438,1049.8 439.3,1049.1 439.5,1049 441,1047.8 442.5,1046.4 444,1044.9 445.5,1043.6 447,1042.5 448.5,1041.9 449.2,1041.9 450.1,1042 451.6,1042.5 453.1,1043.5 454.6,1044.7 456.1,1045.9 457.6,1047.1 458,1047.4 459.1,1048.1 460.6,1049.4 462.1,1050.7 463.6,1052 465.1,1053 466.6,1053.8 467.9,1054 468.1,1054 469.6,1053.7 471.1,1053.2 472.6,1052.4 474.1,1051.4 475.6,1050.4 476.7,1049.6 477.1,1049.3 478.6,1047.9 480.1,1046.2 481.6,1044.3 483.1,1042.2 484.6,1039.9 485.5,1038.5 486.1,1037.6 487.7,1035.3 489.2,1032.8 490.7,1029.8 492.2,1026.2 493.2,1023.1 493.7,1021.7 495.2,1014.3 496.7,1004.5 498.2,993.3 499.2,985.7 499.7,981.9 501.2,969.1 502.7,955 503.2,950.4 504.2,939.4 505.7,922.6 506.5,915.1 507.2,908.7 508.7,896.9 509.8,890.9 510.2,889 511.7,883.5 513.1,881 513.2,880.9 514.7,880.2 516.2,879.9 516.4,879.9 517.7,884.8 519.2,893.8 519.7,895.3 520.7,897 522.2,898.4 523.7,900.2 524.1,900.8 525.3,904.3 526.8,910.6 527.4,912.9 528.3,915.9 529.8,920.9 530.7,922.9 531.3,923.6 532.8,925.1 534.3,926.2 535.8,927.1 536.2,927.3 537.3,927.7 538.8,928.3 540.3,928.9 541.8,929.2 543.3,929.4 543.9,929.5 544.8,929.2 546.3,927.7 547.8,925.7 549.3,924.1 549.4,924 550.8,922.9 552.3,921.7 553.8,920.9 554.9,920.7 555.3,920.7 556.8,921.2 558.3,922.2 559.8,923.4 560.5,924 561.3,925 562.9,927.4 564.4,930.1 565.9,932.6 566,932.8 567.4,934.7 568.9,936.8 570.4,938.5 571.5,939.4 571.9,939.6 573.4,940.2 574.9,940.7 576.4,941.3 577,941.6 577.9,942.3 579.4,943.9 580.9,945.9 582.4,948.1 582.5,948.2 583.9,950.2 585.4,952.5 586.9,955 588.4,957.8 589.1,959.2 589.9,961.1 591.4,965 592.9,969.4 594.4,974.1 594.6,974.6 595.9,979.2 597.4,984.9 599,990.5 600.1,994.5 600.5,995.5 602,1000 603.5,1004.2 605,1008.2 605.6,1009.9 606.5,1012.1 608,1015.9 609.5,1019.6 611,1022.8 611.1,1023.1 612.5,1025.6 614,1028.2 615.5,1030.4 616.6,1031.9 617,1032.4 618.5,1034.1 620,1035.6 621.5,1036.9 622.2,1037.4 623,1038 624.5,1038.9 626,1039.7 627.5,1040.7 627.7,1040.8 629,1041.7 630.5,1042.9 632,1044.1 633.2,1045.2 633.5,1045.5 635,1047.3 636.6,1049.2 638.1,1051.1 638.7,1051.8 639.6,1052.8 641.1,1054.7 642.6,1056.3 644.1,1057.2 644.2,1057.3 645.6,1057.6 647.1,1057.9 648.6,1058.1 650.1,1058.2 651.6,1058.3 653,1058.4 653.1,1058.4 654.6,1058.3 656.1,1058.2 657.6,1058.1 659.1,1057.8 660.6,1057.5 662.1,1057.1 663.6,1056.7 665.1,1056.2 665.1,1065 663.6,1065.2 662.1,1065.4 660.6,1065.5 659.1,1065.7 657.6,1065.8 656.1,1065.9 654.6,1065.9 653.1,1066 651.6,1066 650.1,1066.1 648.6,1066.1 647.1,1066.1 645.6,1066.1 644.2,1066.1 644.1,1066.1 642.6,1066.1 641.1,1066 639.6,1065.8 638.1,1065.7 636.6,1065.5 635,1065.2 633.5,1065 632,1064.7 630.5,1064.4 629,1064.1 627.5,1063.8 626,1063.4 624.5,1063.1 623,1062.8 621.5,1062.5 620,1062.3 618.5,1062 617.8,1061.9 617,1061.8 615.5,1061.6 614,1061.5 612.5,1061.3 611.1,1061 611,1061 609.5,1060.4 608,1059.4 606.5,1058.1 605,1056.6 604.5,1056.2 603.5,1054.9 602,1052.6 600.5,1049.9 599,1047.1 597.9,1045.2 597.4,1044.3 595.9,1041.3 594.4,1038.1 592.9,1035 591.4,1032.1 591.3,1031.9 589.9,1029.7 588.4,1027.4 586.9,1025.2 585.4,1023.1 584.7,1022 583.9,1020.8 582.4,1018.6 580.9,1016.4 579.4,1014.1 578.1,1012.1 577.9,1011.8 576.4,1009.4 574.9,1007 573.4,1004.4 571.9,1001.8 571.5,1001.1 570.4,999 568.9,996.1 567.4,993 565.9,989.9 564.9,987.9 564.4,986.8 562.9,983.5 561.3,980.3 559.8,977.6 559.4,976.8 558.3,975.5 556.8,973.5 555.3,971.9 553.8,971.3 553.8,971.3 552.3,971.6 550.8,972.2 549.3,973.1 547.8,974.2 547.2,974.6 546.3,975.8 544.8,978.8 543.3,982.4 542.8,983.5 541.8,986.4 540.3,991.2 538.9,993.4 538.8,993.4 537.3,992.5 535.8,990.6 534.3,988.3 534,987.9 532.8,985.2 531.3,981.3 529.8,979.1 529.6,979 528.3,981.1 527.4,983.5 526.8,985.8 525.3,993.6 524.1,998.9 523.7,1000.1 522.2,1005.1 520.7,1008.9 519.7,1009.9 519.2,1009.3 517.7,1003.2 516.8,1001.1 516.2,1001.7 514.7,1006.3 514.2,1007.7 513.2,1009.3 511.7,1011.5 510.2,1013.6 509.8,1014.3 508.7,1016.2 507.2,1019.2 505.7,1022.3 504.3,1025.3 504.2,1025.5 502.7,1028.7 501.2,1032.1 499.7,1035.3 499.2,1036.3 498.2,1038.4 496.7,1041.4 495.2,1044.2 493.7,1046.7 493.2,1047.4 492.2,1048.9 490.7,1051 489.2,1053 487.7,1054.6 486.1,1055.8 485.5,1056.2 484.6,1056.6 483.1,1057.3 481.6,1057.9 480.1,1058.5 478.6,1059.1 477.1,1059.5 475.6,1060 474.1,1060.3 472.6,1060.6 471.1,1060.8 469.6,1061 468.1,1061 467.9,1061 466.6,1060.9 465.1,1060.6 463.6,1060.1 462.1,1059.4 460.6,1058.6 459.1,1057.8 457.6,1057 456.1,1056.1 454.6,1055.4 453.1,1054.8 451.6,1054.3 450.1,1054 449.2,1054 448.5,1054 447,1054 445.5,1054 444,1054.1 442.5,1054.1 441,1054.2 439.5,1054.3 438,1054.5 436.5,1054.6 435,1054.8 433.5,1055.1 432,1055.4 430.5,1055.7 429,1056 427.5,1056.5 426,1056.9 424.5,1057.5 423,1058 421.5,1058.7 420,1059.4 418.5,1060.2 417,1061 415.5,1061.9" fill="#E69F00" fill-opacity="0.5" stroke="none"/>
<polyline points="415.5,1060.1 417,1059.7 418.5,1059.2 420,1058.7 421.5,1058.1 423,1057.5 424.5,1056.9 426,1056.2 427.5,1055.5 429,1054.8 430.5,1054 432,1053.2 433.5,1052.4 435,1051.6 436.5,1050.7 438,1049.8 439.3,1049.1 439.5,1049 441,1047.8 442.5,1046.4 444,1044.9 445.5,1043.6 447,1042.5 448.5,1041.9 449.2,1041.9 450.1,1042 451.6,1042.5 453.1,1043.5 454.6,1044.7 456.1,1045.9 457.6,1047.1 458,1047.4 459.1,1048.1 460.6,1049.4 462.1,1050.7 463.6,1052 465.1,1053 466.6,1053.8 467.9,1054 468.1,1054 469.6,1053.7 471.1,1053.2 472.6,1052.4 474.1,1051.4 475.6,1050.4 476.7,1049.6 477.1,1049.3 478.6,1047.9 480.1,1046.2 481.6,1044.3 483.1,1042.2 484.6,1039.9 485.5,1038.5 486.1,1037.6 487.7,1035.3 489.2,1032.8 490.7,1029.8 492.2,1026.2 493.2,1023.1 493.7,1021.7 495.2,1014.3 496.7,1004.5 498.2,993.3 499.2,985.7 499.7,981.9 501.2,969.1 502.7,955 503.2,950.4 504.2,939.4 505.7,922.6 506.5,915.1 507.2,908.7 508.7,896.9 509.8,890.9 510.2,889 511.7,883.5 513.1,881 513.2,880.9 514.7,880.2 516.2,879.9 516.4,879.9 517.7,884.8 519.2,893.8 519.7,895.3 520.7,897 522.2,898.4 523.7,900.2 524.1,900.8 525.3,904.3 526.8,910.6 527.4,912.9 528.3,915.9 529.8,920.9 530.7,922.9 531.3,923.6 532.8,925.1 534.3,926.2 535.8,927.1 536.2,927.3 537.3,927.7 538.8,928.3 540.3,928.9 541.8,929.2 543.3,929.4 543.9,929.5 544.8,929.2 546.3,927.7 547.8,925.7 549.3,924.1 549.4,924 550.8,922.9 552.3,921.7 553.8,920.9 554.9,920.7 555.3,920.7 556.8,921.2 558.3,922.2 559.8,923.4 560.5,924 561.3,925 562.9,927.4 564.4,930.1 565.9,932.6 566,932.8 567.4,934.7 568.9,936.8 570.4,938.5 571.5,939.4 571.9,939.6 573.4,940.2 574.9,940.7 576.4,941.3 577,941.6 577.9,942.3 579.4,943.9 580.9,945.9 582.4,948.1 582.5,948.2 583.9,950.2 585.4,952.5 586.9,955 588.4,957.8 589.1,959.2 589.9,961.1 591.4,965 592.9,969.4 594.4,974.1 594.6,974.6 595.9,979.2 597.4,984.9 599,990.5 600.1,994.5 600.5,995.5 602,1000 603.5,1004.2 605,1008.2 605.6,1009.9 606.5,1012.1 608,1015.9 609.5,1019.6 611,1022.8 611.1,1023.1 612.5,1025.6 614,1028.2 615.5,1030.4 616.6,1031.9 617,1032.4 618.5,1034.1 620,1035.6 621.5,1036.9 622.2,1037.4 623,1038 624.5,1038.9 626,1039.7 627.5,1040.7 627.7,1040.8 629,1041.7 630.5,1042.9 632,1044.1 633.2,1045.2 633.5,1045.5 635,1047.3 636.6,1049.2 638.1,1051.1 638.7,1051.8 639.6,1052.8 641.1,1054.7 642.6,1056.3 644.1,1057.2 644.2,1057.3 645.6,1057.6 647.1,1057.9 648.6,1058.1 650.1,1058.2 651.6,1058.3 653,1058.4 653.1,1058.4 654.6,1058.3 656.1,1058.2 657.6,1058.1 659.1,1057.8 660.6,1057.5 662.1,1057.1 663.6,1056.7 665.1,1056.2" fill="none" stroke="#E69F00" stroke-width="2.9" stroke-linejoin="round"/>
<polyline points="415.5,1061.9 417,1061 418.5,1060.2 420,1059.4 421.5,1058.7 423,1058 424.5,1057.5 426,1056.9 427.5,1056.5 429,1056 430.5,1055.7 432,1055.4 433.5,1055.1 435,1054.8 436.5,1054.6 438,1054.5 439.5,1054.3 441,1054.2 442.5,1054.1 444,1054.1 445.5,1054 447,1054 448.5,1054 449.2,1054 450.1,1054 451.6,1054.3 453.1,1054.8 454.6,1055.4 456.1,1056.1 457.6,1057 459.1,1057.8 460.6,1058.6 462.1,1059.4 463.6,1060.1 465.1,1060.6 466.6,1060.9 467.9,1061 468.1,1061 469.6,1061 471.1,1060.8 472.6,1060.6 474.1,1060.3 475.6,1060 477.1,1059.5 478.6,1059.1 480.1,1058.5 481.6,1057.9 483.1,1057.3 484.6,1056.6 485.5,1056.2 486.1,1055.8 487.7,1054.6 489.2,1053 490.7,1051 492.2,1048.9 493.2,1047.4 493.7,1046.7 495.2,1044.2 496.7,1041.4 498.2,1038.4 499.2,1036.3 499.7,1035.3 501.2,1032.1 502.7,1028.7 504.2,1025.5 504.3,1025.3 505.7,1022.3 507.2,1019.2 508.7,1016.2 509.8,1014.3 510.2,1013.6 511.7,1011.5 513.2,1009.3 514.2,1007.7 514.7,1006.3 516.2,1001.7 516.8,1001.1 517.7,1003.2 519.2,1009.3 519.7,1009.9 520.7,1008.9 522.2,1005.1 523.7,1000.1 524.1,998.9 525.3,993.6 526.8,985.8 527.4,983.5 528.3,981.1 529.6,979 529.8,979.1 531.3,981.3 532.8,985.2 534,987.9 534.3,988.3 535.8,990.6 537.3,992.5 538.8,993.4 538.9,993.4 540.3,991.2 541.8,986.4 542.8,983.5 543.3,982.4 544.8,978.8 546.3,975.8 547.2,974.6 547.8,974.2 549.3,973.1 550.8,972.2 552.3,971.6 553.8,971.3 553.8,971.3 555.3,971.9 556.8,973.5 558.3,975.5 559.4,976.8 559.8,977.6 561.3,980.3 562.9,983.5 564.4,986.8 564.9,987.9 565.9,989.9 567.4,993 568.9,996.1 570.4,999 571.5,1001.1 571.9,1001.8 573.4,1004.4 574.9,1007 576.4,1009.4 577.9,1011.8 578.1,1012.1 579.4,1014.1 580.9,1016.4 582.4,1018.6 583.9,1020.8 584.7,1022 585.4,1023.1 586.9,1025.2 588.4,1027.4 589.9,1029.7 591.3,1031.9 591.4,1032.1 592.9,1035 594.4,1038.1 595.9,1041.3 597.4,1044.3 597.9,1045.2 599,1047.1 600.5,1049.9 602,1052.6 603.5,1054.9 604.5,1056.2 605,1056.6 606.5,1058.1 608,1059.4 609.5,1060.4 611,1061 611.1,1061 612.5,1061.3 614,1061.5 615.5,1061.6 617,1061.8 617.8,1061.9 618.5,1062 620,1062.3 621.5,1062.5 623,1062.8 624.5,1063.1 626,1063.4 627.5,1063.8 629,1064.1 630.5,1064.4 632,1064.7 633.5,1065 635,1065.2 636.6,1065.5 638.1,1065.7 639.6,1065.8 641.1,1066 642.6,1066.1 644.1,1066.1 644.2,1066.1 645.6,1066.1 647.1,1066.1 648.6,1066.1 650.1,1066.1 651.6,1066 653.1,1066 654.6,1065.9 656.1,1065.9 657.6,1065.8 659.1,1065.7 660.6,1065.5 662.1,1065.4 663.6,1065.2 665.1,1065" fill="none" stroke="#E69F00" stroke-width="2.9" stroke-linejoin="round"/>
<polyline points="415.5,1061 416.5,1061 417.5,1061 418.5,1061 419.5,1060.9 420.5,1060.9 421.5,1060.8 422.5,1060.7 423.5,1060.7 424.5,1060.6 425.5,1060.5 426.5,1060.3 427.5,1060.2 428.5,1060 429.5,1059.7 430.5,1059.3 431.5,1058.7 432.5,1058 433.5,1057.2 434.5,1056.4 435.5,1055.6 436.5,1054.8 437.5,1054 438.5,1053.3 439.5,1052.7 440.5,1052.2 441.5,1051.6 442.5,1051 443.5,1050.4 444.5,1049.9 445.5,1049.4 446.5,1049 447.5,1048.7 448.5,1048.6 449.6,1048.6 450.6,1048.8 451.6,1049.1 452.6,1049.6 453.6,1050.2 454.6,1050.9 455.6,1051.5 456.6,1052.1 457.6,1052.6 458.6,1053.1 459.6,1053.6 460.6,1054 461.6,1054.4 462.6,1054.9 463.6,1055.2 464.6,1055.6 465.6,1055.8 466.6,1056 467.6,1056.1 468.6,1056.1 469.6,1055.9 470.6,1055.7 471.6,1055.4 472.6,1054.9 473.6,1054.5 474.6,1054 475.6,1053.4 476.6,1052.9 477.6,1052.3 478.6,1051.7 479.6,1050.9 480.6,1050.1 481.6,1049.2 482.6,1048.3 483.6,1047.2 484.6,1046.1 485.6,1045 486.6,1043.6 487.7,1042.2 488.7,1040.5 489.7,1038.8 490.7,1036.9 491.7,1035 492.7,1033.1 493.7,1031.1 494.7,1029 495.7,1026.9 496.7,1024.7 497.7,1022.4 498.7,1020 499.7,1017.4 500.7,1014.7 501.7,1011.8 502.7,1008.6 503.7,1005.1 504.7,1001 505.7,996.1 506.7,990.9 507.7,985.9 508.7,981.7 509.7,978.4 510.7,975.7 511.7,973 512.7,970.3 513.7,967.4 514.7,964.4 515.7,961.2 516.7,957.8 517.7,954.1 518.7,950.4 519.7,947 520.7,944.3 521.7,942.2 522.7,940.7 523.7,939.9 524.8,939.8 525.8,940.2 526.8,941 527.8,942 528.8,943 529.8,943.9 530.8,944.8 531.8,945.7 532.8,946.6 533.8,947.4 534.8,948.2 535.8,949 536.8,949.7 537.8,950.3 538.8,951 539.8,951.6 540.8,952.1 541.8,952.4 542.8,952.5 543.8,952.6 544.8,952.5 545.8,952.4 546.8,952.2 547.8,951.9 548.8,951.4 549.8,950 550.8,947.3 551.8,944.3 552.8,942.4 553.8,941.9 554.8,941.9 555.8,942.2 556.8,942.7 557.8,943.3 558.8,944.3 559.8,945.6 560.8,947.2 561.9,949 562.9,950.9 563.9,953 564.9,955.4 565.9,957.9 566.9,960.4 567.9,962.9 568.9,965.1 569.9,967.3 570.9,969.4 571.9,971.4 572.9,973.2 573.9,974.8 574.9,976.2 575.9,977.4 576.9,978.5 577.9,979.7 578.9,981 579.9,982.5 580.9,984.2 581.9,986 582.9,987.9 583.9,989.7 584.9,991.4 585.9,993 586.9,994.4 587.9,995.8 588.9,997.2 589.9,998.8 590.9,1000.5 591.9,1002.6 592.9,1004.9 593.9,1007.6 594.9,1010.4 595.9,1013.3 596.9,1016.1 597.9,1018.7 599,1021.3 600,1023.8 601,1026.2 602,1028.6 603,1030.8 604,1032.9 605,1034.9 606,1036.9 607,1038.7 608,1040.4 609,1042 610,1043.5 611,1044.9 612,1046.1 613,1047.2 614,1048.3 615,1049.2 616,1050.2 617,1051.1 618,1052 619,1052.9 620,1053.9 621,1054.8 622,1055.6 623,1056.4 624,1057 625,1057.6 626,1058.1 627,1058.6 628,1059.1 629,1059.5 630,1059.9 631,1060.2 632,1060.4 633,1060.5 634,1060.6 635,1060.7 636.1,1060.7 637.1,1060.8 638.1,1060.8 639.1,1060.8 640.1,1060.8 641.1,1060.9 642.1,1060.9 643.1,1060.9 644.1,1060.9 645.1,1061 646.1,1061 647.1,1061.1 648.1,1061.1 649.1,1061.2 650.1,1061.3 651.1,1061.3 652.1,1061.4 653.1,1061.5 654.1,1061.6 655.1,1061.6 656.1,1061.7 657.1,1061.7 658.1,1061.7 659.1,1061.6 660.1,1061.6 661.1,1061.5 662.1,1061.4 663.1,1061.3 664.1,1061.2 665.1,1061.1" fill="none" stroke="#000000" stroke-width="9.3" stroke-linejoin="round"/>
<text transform="translate(526.3,789.8) scale(1,1.04)" font-family="'Liberation Sans', Arial, sans-serif" font-size="38" text-anchor="middle" fill="#000000">n = 19</text>
<path d="M403.6 756.9h1.7v331h-1.7zM403.6 756.9h273.9v1.7h-273.9zM674.8 756.9h2.7v331h-2.7zM403.6 1085.2h273.9v2.7h-273.9z" fill="#1e1e1e"/>
</g>
<g>
<path d="M698.2 1013.7H965.2M698.2 917.9H965.2M698.2 822.1H965.2M707.6 759.9V1083.9M762.8 759.9V1083.9M818 759.9V1083.9M873.2 759.9V1083.9M928.4 759.9V1083.9" stroke="#EBEBEB" stroke-width="1.5" fill="none"/>
<path d="M698.2 1061.6H965.2M698.2 965.8H965.2M698.2 870H965.2M698.2 774.2H965.2M735.2 759.9V1083.9M790.4 759.9V1083.9M845.6 759.9V1083.9M900.8 759.9V1083.9M956 759.9V1083.9" stroke="#EBEBEB" stroke-width="2.9" fill="none"/>
<rect x="790.9" y="779.5" width="32.1" height="281.3" fill="rgba(211,211,211,0.5)"/>
<rect x="829" y="779.5" width="33.1" height="281.3" fill="rgba(248,203,173,0.5)"/>
<rect x="862.2" y="779.5" width="44.2" height="281.3" fill="rgba(193,220,238,0.5)"/>
<polygon points="707.5,1060.1 709,1059.6 710.5,1059.1 712,1058.6 713.5,1058 715,1057.5 716.5,1056.9 718,1056.3 719.5,1055.7 721,1055.1 722.5,1054.5 724,1053.8 725.5,1053.2 727,1052.5 728.5,1051.9 730,1051.2 731.3,1050.7 731.5,1050.5 733,1049.7 734.5,1048.8 736,1047.8 737.5,1046.8 739,1046 740.5,1045.4 742,1045.2 742.3,1045.2 743.5,1045.4 745.1,1046.2 746.6,1047.3 748.1,1048.6 749.6,1049.7 751.1,1050.7 751.1,1050.7 752.6,1051.4 754.1,1052.2 755.6,1052.9 757.1,1053.5 758.6,1053.9 759.9,1054 760.1,1054 761.6,1053.7 763.1,1053.2 764.6,1052.4 766.1,1051.4 767.6,1050.4 768.7,1049.6 769.1,1049.3 770.6,1048 772.1,1046.4 773.6,1044.5 775.1,1042.4 776.6,1040.1 777.5,1038.5 778.1,1037.5 779.6,1034.3 781.1,1030.5 782.6,1026 784.1,1020.9 784.2,1020.9 785.7,1014.4 787.2,1006.3 788.7,996.8 789.7,990.1 790.2,986.3 791.7,973.5 793.2,959.1 794.1,950.4 794.7,944.1 796.2,927.5 797.4,915.1 797.7,912.1 799.2,897.8 800.7,886.5 800.7,886.4 802.2,878.3 803.7,872 804,871.1 805.2,867.4 806.7,863.6 807.3,862.3 808.2,859.6 809.7,855.9 810.1,855.6 811.2,859.1 812.7,868.5 812.8,868.9 814.2,876.2 815.7,884.4 816.1,886.5 817.2,894.1 818.7,904.7 819.4,908.5 820.2,912.8 821.7,919.7 823.3,924.9 823.8,926.2 824.8,927.7 826.3,929.6 827.8,931.2 828.2,931.7 829.3,933 830.8,934.9 832.3,936 832.6,936.1 833.8,935.7 835.3,934.2 836.8,932.3 838.3,930.4 839.2,929.5 839.8,929 841.3,927.7 842.8,926.4 844.3,925.3 845.8,924.6 846.9,924.4 847.3,924.4 848.8,924.8 850.3,925.7 851.8,926.8 852.5,927.3 853.3,928.1 854.8,930 856.3,932.4 857.8,934.8 858,935 859.3,937.2 860.8,939.8 862.4,942.4 863.9,944.9 864.6,946 865.4,947.1 866.9,949 868.4,950.9 869.9,952.9 871.2,954.8 871.4,955.1 872.9,957.7 874.4,960.6 875.9,963.7 877.4,967.1 877.8,968 878.9,970.7 880.4,974.9 881.9,979.2 883.3,983.5 883.4,983.7 884.9,988.6 886.4,993.6 887.9,998.5 888.8,1001.1 889.4,1002.7 890.9,1006.4 892.4,1009.9 893.9,1013.4 894.3,1014.3 895.4,1017.1 896.9,1020.9 898.4,1024.6 899.8,1027.5 899.9,1027.7 901.4,1030.6 903,1033.3 904.5,1035.5 905.3,1036.3 906,1036.8 907.5,1037.7 909,1038.4 910.5,1039.1 912,1039.6 912,1039.7 913.5,1040.2 915,1040.6 916.5,1041.1 918,1041.6 918.6,1041.9 919.5,1042.3 921,1043.2 922.5,1044.3 924,1045.4 925.2,1046.3 925.5,1046.5 927,1047.7 928.5,1048.9 930,1050.2 931.5,1051.5 931.8,1051.8 933,1053.1 934.5,1055 936,1056.6 937.3,1057.3 937.5,1057.3 939,1057.7 940.5,1058 942.1,1058.2 943.6,1058.3 945,1058.4 945.1,1058.4 946.6,1058.1 948.1,1057.4 949.6,1056.7 951.1,1056.2 951.6,1056.2 952.6,1056.3 954.1,1057.2 955.6,1058.4 955.6,1062.3 954.1,1062.3 952.6,1062.3 951.1,1062.3 949.6,1062.3 948.1,1062.3 946.6,1062.3 945.1,1062.3 943.6,1062.3 942.1,1062.3 940.5,1062.3 939,1062.3 937.5,1062.3 936,1062.3 934.5,1062.2 933,1062.2 931.5,1062.2 930,1062.2 928.5,1062.2 927,1062.1 925.5,1062.1 924,1062.1 922.5,1062.1 921,1062 919.5,1062 918,1062 916.5,1062 915,1061.9 914.2,1061.9 913.5,1061.9 912,1061.8 910.5,1061.7 909,1061.5 907.5,1061.4 906,1061.1 905.3,1061 904.5,1060.8 903,1060.2 901.4,1059.3 899.9,1058.2 898.7,1057.3 898.4,1057 896.9,1055.6 895.4,1053.9 893.9,1052 892.4,1050 892.1,1049.6 890.9,1047.8 889.4,1045.3 887.9,1042.7 886.4,1040.1 885.5,1038.5 884.9,1037.5 883.4,1035 881.9,1032.4 880.4,1029.9 878.9,1027.5 878.9,1027.5 877.4,1025.1 875.9,1022.7 874.4,1020.4 872.9,1018.3 872.3,1017.6 871.4,1016.6 869.9,1015.1 868.4,1013.7 866.9,1012.4 865.4,1010.8 864.6,1009.9 863.9,1008.9 862.4,1006.7 860.8,1004.1 859.3,1001.4 858,998.9 857.8,998.6 856.3,995.5 854.8,992.2 853.3,989.2 852.5,987.9 851.8,987 850.3,985 848.8,983.3 847.3,982.4 846.9,982.4 845.8,982.6 844.3,983.2 842.8,984 841.4,984.6 841.3,984.6 839.8,985 838.3,985.3 836.8,985.5 835.3,985.7 834.8,985.7 833.8,985.6 832.3,985.3 830.8,984.7 829.3,984 828.2,983.5 827.8,983.1 826.3,981.2 824.8,978.5 823.8,976.8 823.3,975.9 821.7,973 820.2,969.8 819.4,968 818.7,966.3 817.2,962.1 816.5,961.4 815.7,962.4 814.2,967 813.9,968 812.7,971.6 811.2,976.8 810.6,979 809.7,982.5 808.2,988.6 807.3,991.2 806.7,992.2 805.2,994 803.7,995.6 802.9,996.7 802.2,997.8 800.7,1000.6 799.6,1003.3 799.2,1004.4 797.7,1010.2 796.2,1016.9 795.2,1020.9 794.7,1022.6 793.2,1027.4 791.7,1031.8 790.8,1034.1 790.2,1035.5 788.7,1038.9 787.2,1042 785.7,1044.8 784.2,1047.3 784.1,1047.4 782.6,1049.8 781.1,1052.2 779.6,1054.3 778.1,1055.8 777.5,1056.2 776.6,1056.6 775.1,1057.3 773.6,1058 772.1,1058.6 770.6,1059.1 769.1,1059.6 767.6,1060 766.1,1060.4 764.6,1060.6 763.1,1060.8 761.6,1061 760.1,1061 759.9,1061 758.6,1060.9 757.1,1060.6 755.6,1060.1 754.1,1059.5 752.6,1058.8 751.1,1058 749.6,1057.3 748.1,1056.6 746.6,1056 745.1,1055.5 743.5,1055.2 742.3,1055.1 742,1055.1 740.5,1055.1 739,1055.1 737.5,1055.1 736,1055.1 734.5,1055.2 733,1055.3 731.5,1055.4 730,1055.5 728.5,1055.6 727,1055.8 725.5,1056 724,1056.2 722.5,1056.5 721,1056.8 719.5,1057.2 718,1057.6 716.5,1058 715,1058.5 713.5,1059.1 712,1059.7 710.5,1060.4 709,1061.1 707.5,1061.9" fill="#E69F00" fill-opacity="0.5" stroke="none"/>
<polyline points="707.5,1060.1 709,1059.6 710.5,1059.1 712,1058.6 713.5,1058 715,1057.5 716.5,1056.9 718,1056.3 719.5,1055.7 721,1055.1 722.5,1054.5 724,1053.8 725.5,1053.2 727,1052.5 728.5,1051.9 730,1051.2 731.3,1050.7 731.5,1050.5 733,1049.7 734.5,1048.8 736,1047.8 737.5,1046.8 739,1046 740.5,1045.4 742,1045.2 742.3,1045.2 743.5,1045.4 745.1,1046.2 746.6,1047.3 748.1,1048.6 749.6,1049.7 751.1,1050.7 751.1,1050.7 752.6,1051.4 754.1,1052.2 755.6,1052.9 757.1,1053.5 758.6,1053.9 759.9,1054 760.1,1054 761.6,1053.7 763.1,1053.2 764.6,1052.4 766.1,1051.4 767.6,1050.4 768.7,1049.6 769.1,1049.3 770.6,1048 772.1,1046.4 773.6,1044.5 775.1,1042.4 776.6,1040.1 777.5,1038.5 778.1,1037.5 779.6,1034.3 781.1,1030.5 782.6,1026 784.1,1020.9 784.2,1020.9 785.7,1014.4 787.2,1006.3 788.7,996.8 789.7,990.1 790.2,986.3 791.7,973.5 793.2,959.1 794.1,950.4 794.7,944.1 796.2,927.5 797.4,915.1 797.7,912.1 799.2,897.8 800.7,886.5 800.7,886.4 802.2,878.3 803.7,872 804,871.1 805.2,867.4 806.7,863.6 807.3,862.3 808.2,859.6 809.7,855.9 810.1,855.6 811.2,859.1 812.7,868.5 812.8,868.9 814.2,876.2 815.7,884.4 816.1,886.5 817.2,894.1 818.7,904.7 819.4,908.5 820.2,912.8 821.7,919.7 823.3,924.9 823.8,926.2 824.8,927.7 826.3,929.6 827.8,931.2 828.2,931.7 829.3,933 830.8,934.9 832.3,936 832.6,936.1 833.8,935.7 835.3,934.2 836.8,932.3 838.3,930.4 839.2,929.5 839.8,929 841.3,927.7 842.8,926.4 844.3,925.3 845.8,924.6 846.9,924.4 847.3,924.4 848.8,924.8 850.3,925.7 851.8,926.8 852.5,927.3 853.3,928.1 854.8,930 856.3,932.4 857.8,934.8 858,935 859.3,937.2 860.8,939.8 862.4,942.4 863.9,944.9 864.6,946 865.4,947.1 866.9,949 868.4,950.9 869.9,952.9 871.2,954.8 871.4,955.1 872.9,957.7 874.4,960.6 875.9,963.7 877.4,967.1 877.8,968 878.9,970.7 880.4,974.9 881.9,979.2 883.3,983.5 883.4,983.7 884.9,988.6 886.4,993.6 887.9,998.5 888.8,1001.1 889.4,1002.7 890.9,1006.4 892.4,1009.9 893.9,1013.4 894.3,1014.3 895.4,1017.1 896.9,1020.9 898.4,1024.6 899.8,1027.5 899.9,1027.7 901.4,1030.6 903,1033.3 904.5,1035.5 905.3,1036.3 906,1036.8 907.5,1037.7 909,1038.4 910.5,1039.1 912,1039.6 912,1039.7 913.5,1040.2 915,1040.6 916.5,1041.1 918,1041.6 918.6,1041.9 919.5,1042.3 921,1043.2 922.5,1044.3 924,1045.4 925.2,1046.3 925.5,1046.5 927,1047.7 928.5,1048.9 930,1050.2 931.5,1051.5 931.8,1051.8 933,1053.1 934.5,1055 936,1056.6 937.3,1057.3 937.5,1057.3 939,1057.7 940.5,1058 942.1,1058.2 943.6,1058.3 945,1058.4 945.1,1058.4 946.6,1058.1 948.1,1057.4 949.6,1056.7 951.1,1056.2 951.6,1056.2 952.6,1056.3 954.1,1057.2 955.6,1058.4" fill="none" stroke="#E69F00" stroke-width="2.9" stroke-linejoin="round"/>
<polyline points="707.5,1061.9 709,1061.1 710.5,1060.4 712,1059.7 713.5,1059.1 715,1058.5 716.5,1058 718,1057.6 719.5,1057.2 721,1056.8 722.5,1056.5 724,1056.2 725.5,1056 727,1055.8 728.5,1055.6 730,1055.5 731.5,1055.4 733,1055.3 734.5,1055.2 736,1055.1 737.5,1055.1 739,1055.1 740.5,1055.1 742,1055.1 742.3,1055.1 743.5,1055.2 745.1,1055.5 746.6,1056 748.1,1056.6 749.6,1057.3 751.1,1058 752.6,1058.8 754.1,1059.5 755.6,1060.1 757.1,1060.6 758.6,1060.9 759.9,1061 760.1,1061 761.6,1061 763.1,1060.8 764.6,1060.6 766.1,1060.4 767.6,1060 769.1,1059.6 770.6,1059.1 772.1,1058.6 773.6,1058 775.1,1057.3 776.6,1056.6 777.5,1056.2 778.1,1055.8 779.6,1054.3 781.1,1052.2 782.6,1049.8 784.1,1047.4 784.2,1047.3 785.7,1044.8 787.2,1042 788.7,1038.9 790.2,1035.5 790.8,1034.1 791.7,1031.8 793.2,1027.4 794.7,1022.6 795.2,1020.9 796.2,1016.9 797.7,1010.2 799.2,1004.4 799.6,1003.3 800.7,1000.6 802.2,997.8 802.9,996.7 803.7,995.6 805.2,994 806.7,992.2 807.3,991.2 808.2,988.6 809.7,982.5 810.6,979 811.2,976.8 812.7,971.6 813.9,968 814.2,967 815.7,962.4 816.5,961.4 817.2,962.1 818.7,966.3 819.4,968 820.2,969.8 821.7,973 823.3,975.9 823.8,976.8 824.8,978.5 826.3,981.2 827.8,983.1 828.2,983.5 829.3,984 830.8,984.7 832.3,985.3 833.8,985.6 834.8,985.7 835.3,985.7 836.8,985.5 838.3,985.3 839.8,985 841.3,984.6 841.4,984.6 842.8,984 844.3,983.2 845.8,982.6 846.9,982.4 847.3,982.4 848.8,983.3 850.3,985 851.8,987 852.5,987.9 853.3,989.2 854.8,992.2 856.3,995.5 857.8,998.6 858,998.9 859.3,1001.4 860.8,1004.1 862.4,1006.7 863.9,1008.9 864.6,1009.9 865.4,1010.8 866.9,1012.4 868.4,1013.7 869.9,1015.1 871.4,1016.6 872.3,1017.6 872.9,1018.3 874.4,1020.4 875.9,1022.7 877.4,1025.1 878.9,1027.5 878.9,1027.5 880.4,1029.9 881.9,1032.4 883.4,1035 884.9,1037.5 885.5,1038.5 886.4,1040.1 887.9,1042.7 889.4,1045.3 890.9,1047.8 892.1,1049.6 892.4,1050 893.9,1052 895.4,1053.9 896.9,1055.6 898.4,1057 898.7,1057.3 899.9,1058.2 901.4,1059.3 903,1060.2 904.5,1060.8 905.3,1061 906,1061.1 907.5,1061.4 909,1061.5 910.5,1061.7 912,1061.8 913.5,1061.9 914.2,1061.9 915,1061.9 916.5,1062 918,1062 919.5,1062 921,1062 922.5,1062.1 924,1062.1 925.5,1062.1 927,1062.1 928.5,1062.2 930,1062.2 931.5,1062.2 933,1062.2 934.5,1062.2 936,1062.3 937.5,1062.3 939,1062.3 940.5,1062.3 942.1,1062.3 943.6,1062.3 945.1,1062.3 946.6,1062.3 948.1,1062.3 949.6,1062.3 951.1,1062.3 952.6,1062.3 954.1,1062.3 955.6,1062.3" fill="none" stroke="#E69F00" stroke-width="2.9" stroke-linejoin="round"/>
<polyline points="707.5,1061 708.5,1061 709.5,1061 710.5,1061 711.5,1060.9 712.5,1060.9 713.5,1060.8 714.5,1060.7 715.5,1060.6 716.5,1060.6 717.5,1060.5 718.5,1060.3 719.5,1060.2 720.5,1060.1 721.5,1059.8 722.5,1059.4 723.5,1058.9 724.5,1058.3 725.5,1057.7 726.5,1057 727.5,1056.3 728.5,1055.6 729.5,1055 730.5,1054.4 731.5,1053.9 732.5,1053.4 733.5,1052.9 734.5,1052.5 735.5,1052 736.5,1051.5 737.5,1051.1 738.5,1050.8 739.5,1050.5 740.5,1050.2 741.5,1050.1 742.5,1050.1 743.5,1050.3 744.5,1050.7 745.5,1051.3 746.5,1052 747.5,1052.8 748.5,1053.5 749.5,1054.2 750.5,1054.7 751.5,1055.2 752.5,1055.6 753.5,1055.9 754.5,1056.2 755.5,1056.5 756.5,1056.8 757.5,1057 758.5,1057.2 759.5,1057.2 760.5,1057.2 761.5,1057.1 762.5,1056.8 763.5,1056.5 764.5,1056.1 765.5,1055.7 766.5,1055.2 767.5,1054.6 768.5,1054.1 769.5,1053.5 770.5,1052.8 771.5,1052 772.5,1051 773.5,1050 774.5,1048.9 775.5,1047.8 776.5,1046.5 777.5,1045.2 778.5,1043.7 779.5,1042.1 780.5,1040.3 781.5,1038.3 782.5,1036 783.5,1033.5 784.5,1030.6 785.5,1027.1 786.5,1023 787.5,1018.4 788.5,1013.5 789.5,1008.4 790.5,1003 791.5,997.2 792.5,991.1 793.5,984.8 794.5,978.2 795.5,971.4 796.5,964.4 797.5,957.2 798.5,950 799.5,942.7 800.5,935.3 801.5,928.3 802.5,922 803.5,916.6 804.5,912 805.5,908.5 806.5,906.4 807.5,905.2 808.5,904.6 809.5,904.7 810.5,905.7 811.5,907.7 812.5,910.6 813.5,914.1 814.5,918 815.5,922.5 816.5,927.2 817.5,931.6 818.5,935.5 819.5,939.2 820.5,942.5 821.5,945.6 822.5,948.6 823.5,951.3 824.5,953.8 825.5,955.9 826.5,957.8 827.5,959.5 828.5,961 829.5,962.4 830.5,963.4 831.5,964.2 832.5,964.5 833.5,964.5 834.5,964.3 835.5,963.9 836.5,963.4 837.5,962.8 838.5,962.1 839.5,961.2 840.5,960 841.5,958.9 842.5,957.9 843.5,957.2 844.5,956.8 845.5,956.5 846.5,956.2 847.5,956.1 848.5,956 849.5,956.2 850.5,956.8 851.5,957.8 852.5,959.1 853.5,960.7 854.5,962.5 855.5,964.5 856.5,967 857.5,969.8 858.5,972.6 859.5,975.2 860.5,977.4 861.5,979.4 862.5,981.2 863.5,982.8 864.5,984.4 865.5,986 866.5,987.5 867.5,989 868.5,990.5 869.5,992 870.5,993.4 871.5,994.8 872.5,996.2 873.5,997.6 874.5,998.9 875.5,1000.3 876.5,1001.5 877.5,1002.8 878.5,1004.1 879.5,1005.4 880.5,1006.9 881.5,1008.5 882.5,1010.3 883.5,1012.3 884.5,1014.3 885.5,1016.4 886.6,1018.5 887.6,1020.6 888.6,1022.6 889.6,1024.7 890.6,1026.8 891.6,1028.8 892.6,1030.8 893.6,1032.7 894.6,1034.5 895.6,1036.2 896.6,1037.8 897.6,1039.4 898.6,1040.9 899.6,1042.2 900.6,1043.5 901.6,1044.8 902.6,1045.9 903.6,1047 904.6,1048.1 905.6,1049 906.6,1049.9 907.6,1050.6 908.6,1051.2 909.6,1051.8 910.6,1052.3 911.6,1052.7 912.6,1053.2 913.6,1053.7 914.6,1054.3 915.6,1054.9 916.6,1055.7 917.6,1056.4 918.6,1057.2 919.6,1057.8 920.6,1058.2 921.6,1058.6 922.6,1058.9 923.6,1059.1 924.6,1059.3 925.6,1059.5 926.6,1059.6 927.6,1059.8 928.6,1060 929.6,1060.2 930.6,1060.4 931.6,1060.6 932.6,1060.8 933.6,1061 934.6,1061.2 935.6,1061.4 936.6,1061.5 937.6,1061.6 938.6,1061.6 939.6,1061.6 940.6,1061.5 941.6,1061.3 942.6,1061.2 943.6,1061 944.6,1060.8 945.6,1060.7 946.6,1060.6 947.6,1060.6 948.6,1060.6 949.6,1060.6 950.6,1060.6 951.6,1060.6 952.6,1060.6 953.6,1060.6 954.6,1060.6 955.6,1060.6" fill="none" stroke="#000000" stroke-width="9.3" stroke-linejoin="round"/>
<text transform="translate(818,789.8) scale(1,1.04)" font-family="'Liberation Sans', Arial, sans-serif" font-size="38" text-anchor="middle" fill="#000000">n = 14</text>
<path d="M695.2 756.9h1.7v331h-1.7zM695.2 756.9h273.9v1.7h-273.9zM966.5 756.9h2.7v331h-2.7zM695.2 1085.2h273.9v2.7h-273.9z" fill="#1e1e1e"/>
</g>
<g>
<path d="M989.9 1013.7H1256.9M989.9 917.9H1256.9M989.9 822.1H1256.9M999.3 759.9V1083.9M1054.5 759.9V1083.9M1109.7 759.9V1083.9M1164.9 759.9V1083.9M1220.1 759.9V1083.9" stroke="#EBEBEB" stroke-width="1.5" fill="none"/>
<path d="M989.9 1061.6H1256.9M989.9 965.8H1256.9M989.9 870H1256.9M989.9 774.2H1256.9M1026.9 759.9V1083.9M1082.1 759.9V1083.9M1137.3 759.9V1083.9M1192.5 759.9V1083.9M1247.7 759.9V1083.9" stroke="#EBEBEB" stroke-width="2.9" fill="none"/>
<rect x="1082.6" y="779.5" width="32.1" height="281.3" fill="rgba(211,211,211,0.5)"/>
<rect x="1120.7" y="779.5" width="33.1" height="281.3" fill="rgba(248,203,173,0.5)"/>
<rect x="1153.8" y="779.5" width="44.2" height="281.3" fill="rgba(193,220,238,0.5)"/>
<polygon points="999,1060.6 1000.5,1060.1 1002,1059.6 1003.5,1059.1 1005,1058.5 1006.5,1057.9 1008,1057.2 1009.5,1056.6 1011,1055.9 1012.5,1055.2 1014,1054.4 1015.5,1053.7 1017,1052.9 1018.5,1052.1 1020,1051.3 1021.5,1050.5 1023,1049.7 1023.3,1049.6 1024.5,1048.7 1026,1047.5 1027.5,1046.2 1029,1044.9 1030.5,1043.8 1032,1043.1 1033.2,1043 1033.5,1043 1035,1043.5 1036.5,1044.6 1038,1046.1 1039.5,1047.6 1041,1048.9 1042,1049.6 1042.5,1049.9 1044,1050.8 1045.5,1051.7 1047,1052.5 1048.5,1053.2 1050,1053.7 1051.5,1054 1051.9,1054 1053,1053.9 1054.5,1053.4 1056,1052.8 1057.5,1051.9 1059,1050.8 1060.5,1049.7 1060.7,1049.6 1062,1048.4 1063.5,1046.5 1065,1044.3 1066.5,1041.9 1068,1039.3 1068.4,1038.5 1069.5,1036.6 1071,1033.9 1072.5,1030.9 1074,1027.3 1075.5,1023 1076.1,1020.9 1077,1017.3 1078.5,1008.8 1080,998.3 1081.5,986.7 1081.7,985.7 1083,973.7 1084.5,958.4 1086,942 1086.1,941.6 1087.5,923.8 1089,905.6 1089.4,901.9 1090.5,890.3 1092,877.3 1092.7,873.3 1093.5,869.2 1095,863.5 1096,861.2 1096.5,860.2 1098,858.1 1098.6,857.9 1099.5,859.6 1101,866.7 1101.5,868.9 1102.5,873.5 1104,880.7 1104.8,884.3 1105.5,887.6 1107,894.2 1108.5,901 1109.2,904.1 1110,908.4 1111.5,916.8 1113,924.2 1113.6,926.2 1114.5,928.6 1116,932.1 1117.5,934.4 1118,935 1119,935.9 1120.5,937.1 1122,938.2 1123.5,938.9 1125,939.3 1125.7,939.4 1126.5,939.1 1128,937.5 1129.5,935.1 1131,932.4 1132.3,930.6 1132.5,930.4 1134,928.4 1135.5,926.5 1137,924.9 1138.5,924 1138.9,924 1140,924.3 1141.5,925.8 1143,927.9 1143.4,928.4 1144.5,930.7 1146,934.8 1147.5,938.8 1147.8,939.4 1149,942.2 1150.5,945.3 1152,948.2 1153.3,950.4 1153.5,950.8 1155,953 1156.5,954.9 1158,956.7 1159.5,958.7 1159.9,959.2 1161,960.9 1162.5,963.1 1164,965.6 1165.4,968 1165.5,968.3 1167,971.5 1168.5,975.2 1170,979 1170.9,981.3 1171.5,982.9 1173,986.9 1174.5,991 1176,995 1177.5,998.9 1177.5,998.9 1179,1002.6 1180.5,1006.2 1182,1009.7 1183.5,1013 1184.1,1014.3 1185,1016.3 1186.5,1019.5 1188,1022.6 1189.5,1025.5 1190.7,1027.5 1191,1028 1192.5,1030.3 1194,1032.4 1195.5,1034.3 1197,1036 1197.3,1036.3 1198.5,1037.5 1200,1039 1201.5,1040.3 1203,1041.3 1204,1041.9 1204.5,1042.1 1206,1042.7 1207.5,1043.2 1209,1043.6 1210.5,1044 1210.6,1044.1 1212,1044.5 1213.5,1044.9 1215,1045.4 1216.5,1046 1217.2,1046.3 1218,1046.7 1219.5,1047.7 1221,1049 1222.5,1050.5 1222.7,1050.7 1224,1052.7 1225.5,1055.6 1227,1057.3 1227.1,1057.3 1228.5,1057.6 1230,1057.8 1231.5,1057.9 1232.6,1057.9 1233,1057.9 1234.5,1057.6 1236,1057 1237.5,1056.2 1239,1055.3 1240.5,1054.4 1241.4,1054 1242,1053.7 1243.5,1053 1245,1052.2 1246.5,1051.4 1248,1050.7 1248,1062.8 1246.5,1062.8 1245,1062.8 1243.5,1062.8 1242,1062.8 1240.5,1062.8 1239,1062.8 1237.5,1062.8 1236,1062.8 1234.5,1062.7 1233,1062.7 1231.5,1062.7 1230,1062.7 1228.5,1062.7 1227,1062.7 1225.5,1062.7 1224,1062.6 1222.5,1062.6 1221,1062.6 1219.5,1062.6 1218,1062.6 1216.5,1062.5 1215,1062.5 1213.5,1062.5 1212,1062.4 1210.5,1062.4 1209,1062.4 1208.4,1062.3 1207.5,1062.3 1206,1062.2 1204.5,1062 1203,1061.8 1201.5,1061.5 1200,1061.1 1199.5,1061 1198.5,1060.7 1197,1060 1195.5,1059.1 1194,1058.1 1192.9,1057.3 1192.5,1056.9 1191,1055.5 1189.5,1053.8 1188,1051.9 1186.5,1049.8 1186.3,1049.6 1185,1047.7 1183.5,1045.3 1182,1042.7 1180.5,1040 1179.7,1038.5 1179,1037.3 1177.5,1034.3 1176,1031.3 1174.5,1028.2 1173.1,1025.3 1173,1025.2 1171.5,1022.1 1170,1019 1168.5,1015.9 1167,1013.1 1166.5,1012.1 1165.5,1010.3 1164,1007.4 1162.5,1004.9 1161,1003.3 1161,1003.3 1159.5,1002.6 1158,1002.1 1156.5,1001.6 1155.5,1001.1 1155,1000.8 1153.5,999.9 1152,998.7 1150.5,997.3 1150,996.7 1149,995.3 1147.5,992.4 1146,989.2 1144.5,986.8 1144.5,986.8 1143,985.2 1141.5,983.6 1140,982.6 1138.9,982.4 1138.5,982.4 1137,982.6 1135.5,982.9 1134,983.3 1132.5,983.5 1132.3,983.5 1131,983.3 1129.5,982.7 1128,981.9 1126.8,981.3 1126.5,981.1 1125,980.3 1123.5,979.4 1122,978.4 1120.5,977.1 1120.2,976.8 1119,975.4 1117.5,973.1 1116,970.4 1114.7,968 1114.5,967.7 1113,964.1 1111.5,960.9 1110.7,960.3 1110,961.3 1108.5,966.6 1108.1,968 1107,971.3 1105.5,976.1 1104,980.4 1103.7,981.3 1102.5,983.9 1101,986.9 1099.5,989.6 1099.3,990.1 1098,992.1 1096.5,994.2 1095,996.5 1093.8,998.9 1093.5,999.4 1092,1003.6 1090.5,1008.7 1089,1014 1088.3,1016.5 1087.5,1019 1086,1024.1 1084.5,1029.1 1083,1033.5 1082.8,1034.1 1081.5,1037.1 1080,1040.4 1078.5,1043.4 1077,1046 1076.1,1047.4 1075.5,1048.3 1074,1050.4 1072.5,1052.4 1071,1054.1 1069.5,1055.4 1068.4,1056.2 1068,1056.4 1066.5,1057.2 1065,1058 1063.5,1058.7 1062,1059.3 1060.5,1059.9 1059,1060.5 1057.5,1060.9 1056,1061.3 1054.5,1061.5 1053,1061.7 1051.9,1061.7 1051.5,1061.7 1050,1061.5 1048.5,1061.1 1047,1060.6 1045.5,1059.9 1044,1059.2 1042.5,1058.4 1041,1057.6 1039.5,1056.8 1038,1056.2 1036.5,1055.6 1035,1055.3 1033.5,1055.1 1033.2,1055.1 1032,1055.1 1030.5,1055.1 1029,1055.1 1027.5,1055.2 1026,1055.2 1024.5,1055.3 1023,1055.4 1021.5,1055.5 1020,1055.7 1018.5,1055.9 1017,1056.1 1015.5,1056.3 1014,1056.6 1012.5,1057 1011,1057.4 1009.5,1057.8 1008,1058.3 1006.5,1058.8 1005,1059.4 1003.5,1060 1002,1060.7 1000.5,1061.5 999,1062.3" fill="#E69F00" fill-opacity="0.5" stroke="none"/>
<polyline points="999,1060.6 1000.5,1060.1 1002,1059.6 1003.5,1059.1 1005,1058.5 1006.5,1057.9 1008,1057.2 1009.5,1056.6 1011,1055.9 1012.5,1055.2 1014,1054.4 1015.5,1053.7 1017,1052.9 1018.5,1052.1 1020,1051.3 1021.5,1050.5 1023,1049.7 1023.3,1049.6 1024.5,1048.7 1026,1047.5 1027.5,1046.2 1029,1044.9 1030.5,1043.8 1032,1043.1 1033.2,1043 1033.5,1043 1035,1043.5 1036.5,1044.6 1038,1046.1 1039.5,1047.6 1041,1048.9 1042,1049.6 1042.5,1049.9 1044,1050.8 1045.5,1051.7 1047,1052.5 1048.5,1053.2 1050,1053.7 1051.5,1054 1051.9,1054 1053,1053.9 1054.5,1053.4 1056,1052.8 1057.5,1051.9 1059,1050.8 1060.5,1049.7 1060.7,1049.6 1062,1048.4 1063.5,1046.5 1065,1044.3 1066.5,1041.9 1068,1039.3 1068.4,1038.5 1069.5,1036.6 1071,1033.9 1072.5,1030.9 1074,1027.3 1075.5,1023 1076.1,1020.9 1077,1017.3 1078.5,1008.8 1080,998.3 1081.5,986.7 1081.7,985.7 1083,973.7 1084.5,958.4 1086,942 1086.1,941.6 1087.5,923.8 1089,905.6 1089.4,901.9 1090.5,890.3 1092,877.3 1092.7,873.3 1093.5,869.2 1095,863.5 1096,861.2 1096.5,860.2 1098,858.1 1098.6,857.9 1099.5,859.6 1101,866.7 1101.5,868.9 1102.5,873.5 1104,880.7 1104.8,884.3 1105.5,887.6 1107,894.2 1108.5,901 1109.2,904.1 1110,908.4 1111.5,916.8 1113,924.2 1113.6,926.2 1114.5,928.6 1116,932.1 1117.5,934.4 1118,935 1119,935.9 1120.5,937.1 1122,938.2 1123.5,938.9 1125,939.3 1125.7,939.4 1126.5,939.1 1128,937.5 1129.5,935.1 1131,932.4 1132.3,930.6 1132.5,930.4 1134,928.4 1135.5,926.5 1137,924.9 1138.5,924 1138.9,924 1140,924.3 1141.5,925.8 1143,927.9 1143.4,928.4 1144.5,930.7 1146,934.8 1147.5,938.8 1147.8,939.4 1149,942.2 1150.5,945.3 1152,948.2 1153.3,950.4 1153.5,950.8 1155,953 1156.5,954.9 1158,956.7 1159.5,958.7 1159.9,959.2 1161,960.9 1162.5,963.1 1164,965.6 1165.4,968 1165.5,968.3 1167,971.5 1168.5,975.2 1170,979 1170.9,981.3 1171.5,982.9 1173,986.9 1174.5,991 1176,995 1177.5,998.9 1177.5,998.9 1179,1002.6 1180.5,1006.2 1182,1009.7 1183.5,1013 1184.1,1014.3 1185,1016.3 1186.5,1019.5 1188,1022.6 1189.5,1025.5 1190.7,1027.5 1191,1028 1192.5,1030.3 1194,1032.4 1195.5,1034.3 1197,1036 1197.3,1036.3 1198.5,1037.5 1200,1039 1201.5,1040.3 1203,1041.3 1204,1041.9 1204.5,1042.1 1206,1042.7 1207.5,1043.2 1209,1043.6 1210.5,1044 1210.6,1044.1 1212,1044.5 1213.5,1044.9 1215,1045.4 1216.5,1046 1217.2,1046.3 1218,1046.7 1219.5,1047.7 1221,1049 1222.5,1050.5 1222.7,1050.7 1224,1052.7 1225.5,1055.6 1227,1057.3 1227.1,1057.3 1228.5,1057.6 1230,1057.8 1231.5,1057.9 1232.6,1057.9 1233,1057.9 1234.5,1057.6 1236,1057 1237.5,1056.2 1239,1055.3 1240.5,1054.4 1241.4,1054 1242,1053.7 1243.5,1053 1245,1052.2 1246.5,1051.4 1248,1050.7" fill="none" stroke="#E69F00" stroke-width="2.9" stroke-linejoin="round"/>
<polyline points="999,1062.3 1000.5,1061.5 1002,1060.7 1003.5,1060 1005,1059.4 1006.5,1058.8 1008,1058.3 1009.5,1057.8 1011,1057.4 1012.5,1057 1014,1056.6 1015.5,1056.3 1017,1056.1 1018.5,1055.9 1020,1055.7 1021.5,1055.5 1023,1055.4 1024.5,1055.3 1026,1055.2 1027.5,1055.2 1029,1055.1 1030.5,1055.1 1032,1055.1 1033.2,1055.1 1033.5,1055.1 1035,1055.3 1036.5,1055.6 1038,1056.2 1039.5,1056.8 1041,1057.6 1042.5,1058.4 1044,1059.2 1045.5,1059.9 1047,1060.6 1048.5,1061.1 1050,1061.5 1051.5,1061.7 1051.9,1061.7 1053,1061.7 1054.5,1061.5 1056,1061.3 1057.5,1060.9 1059,1060.5 1060.5,1059.9 1062,1059.3 1063.5,1058.7 1065,1058 1066.5,1057.2 1068,1056.4 1068.4,1056.2 1069.5,1055.4 1071,1054.1 1072.5,1052.4 1074,1050.4 1075.5,1048.3 1076.1,1047.4 1077,1046 1078.5,1043.4 1080,1040.4 1081.5,1037.1 1082.8,1034.1 1083,1033.5 1084.5,1029.1 1086,1024.1 1087.5,1019 1088.3,1016.5 1089,1014 1090.5,1008.7 1092,1003.6 1093.5,999.4 1093.8,998.9 1095,996.5 1096.5,994.2 1098,992.1 1099.3,990.1 1099.5,989.6 1101,986.9 1102.5,983.9 1103.7,981.3 1104,980.4 1105.5,976.1 1107,971.3 1108.1,968 1108.5,966.6 1110,961.3 1110.7,960.3 1111.5,960.9 1113,964.1 1114.5,967.7 1114.7,968 1116,970.4 1117.5,973.1 1119,975.4 1120.2,976.8 1120.5,977.1 1122,978.4 1123.5,979.4 1125,980.3 1126.5,981.1 1126.8,981.3 1128,981.9 1129.5,982.7 1131,983.3 1132.3,983.5 1132.5,983.5 1134,983.3 1135.5,982.9 1137,982.6 1138.5,982.4 1138.9,982.4 1140,982.6 1141.5,983.6 1143,985.2 1144.5,986.8 1144.5,986.8 1146,989.2 1147.5,992.4 1149,995.3 1150,996.7 1150.5,997.3 1152,998.7 1153.5,999.9 1155,1000.8 1155.5,1001.1 1156.5,1001.6 1158,1002.1 1159.5,1002.6 1161,1003.3 1161,1003.3 1162.5,1004.9 1164,1007.4 1165.5,1010.3 1166.5,1012.1 1167,1013.1 1168.5,1015.9 1170,1019 1171.5,1022.1 1173,1025.2 1173.1,1025.3 1174.5,1028.2 1176,1031.3 1177.5,1034.3 1179,1037.3 1179.7,1038.5 1180.5,1040 1182,1042.7 1183.5,1045.3 1185,1047.7 1186.3,1049.6 1186.5,1049.8 1188,1051.9 1189.5,1053.8 1191,1055.5 1192.5,1056.9 1192.9,1057.3 1194,1058.1 1195.5,1059.1 1197,1060 1198.5,1060.7 1199.5,1061 1200,1061.1 1201.5,1061.5 1203,1061.8 1204.5,1062 1206,1062.2 1207.5,1062.3 1208.4,1062.3 1209,1062.4 1210.5,1062.4 1212,1062.4 1213.5,1062.5 1215,1062.5 1216.5,1062.5 1218,1062.6 1219.5,1062.6 1221,1062.6 1222.5,1062.6 1224,1062.6 1225.5,1062.7 1227,1062.7 1228.5,1062.7 1230,1062.7 1231.5,1062.7 1233,1062.7 1234.5,1062.7 1236,1062.8 1237.5,1062.8 1239,1062.8 1240.5,1062.8 1242,1062.8 1243.5,1062.8 1245,1062.8 1246.5,1062.8 1248,1062.8" fill="none" stroke="#E69F00" stroke-width="2.9" stroke-linejoin="round"/>
<polyline points="999,1061.7 1000,1061.7 1001,1061.6 1002,1061.6 1003,1061.5 1004,1061.4 1005,1061.3 1006,1061.2 1007,1061 1008,1060.9 1009,1060.7 1010,1060.6 1011,1060.4 1012,1060.2 1013,1059.9 1014,1059.5 1015,1059 1016,1058.4 1017,1057.7 1018,1057 1019,1056.3 1020,1055.6 1021,1054.9 1022,1054.2 1023,1053.7 1024,1053.1 1025,1052.6 1026,1052.1 1027,1051.6 1028,1051.1 1029,1050.6 1030,1050.2 1031,1049.9 1032,1049.7 1033,1049.7 1034,1049.8 1035,1050.1 1036,1050.6 1037,1051.2 1038,1051.9 1039,1052.6 1040,1053.3 1041,1053.9 1042,1054.4 1043,1054.8 1044,1055.2 1045,1055.6 1046,1056 1047,1056.3 1048,1056.6 1049,1056.9 1050,1057.1 1051,1057.2 1052,1057.2 1053,1057.1 1054,1057 1055,1056.7 1056,1056.3 1057,1055.9 1058,1055.4 1059,1054.9 1060,1054.3 1061,1053.7 1062,1052.9 1063,1052 1064,1050.9 1065,1049.7 1066,1048.4 1067,1047.1 1068,1045.7 1069,1044.4 1070,1043 1071,1041.5 1072,1040 1073,1038.4 1074,1036.5 1075,1034.4 1076,1032 1077,1028.9 1078,1025.2 1079,1020.8 1080,1016 1081,1010.9 1082,1005.6 1083,1000 1084,994.1 1085,987.8 1086,981.4 1087,974.7 1088,967.8 1089,960.7 1090,953.5 1091,946.2 1092,938.8 1093,931.5 1094,924.9 1095,919.3 1096,914.7 1097,910.9 1098,908.2 1099,906.4 1100,905.2 1101,904.7 1102,905.3 1103,907.3 1104,910.4 1105,914.8 1106,920.3 1107,926.3 1108,931.6 1109,935.6 1110,938.6 1111,941.1 1112,942.9 1113,944.1 1114,945 1115,945.7 1116,946.3 1117,946.9 1118,947.5 1119,948.2 1120,949.2 1121,950.3 1122,951.6 1123,952.9 1124,954.1 1125,955.2 1126,956.1 1127,956.9 1128,957.7 1129,958.4 1130,958.8 1131,959 1132,958.8 1133,958.3 1134,957.5 1135,956.6 1136,955.8 1137,955.2 1138,955 1139,955 1140,955.3 1141,955.7 1142,956.2 1143,957 1144,958.1 1145,959.7 1146,961.8 1147,964.1 1148,966.4 1149,968.8 1150,971.3 1151,973.8 1152,976.2 1153,978.4 1154,980.4 1155,982.2 1156,983.8 1157,985.4 1158,987 1159,988.6 1160,990.4 1161,992.3 1162,994.2 1163,996.2 1164,998.2 1165,1000.3 1166,1002.3 1167,1004.3 1168,1006.4 1169,1008.4 1170,1010.4 1171,1012.4 1172,1014.4 1173,1016.4 1174,1018.4 1175,1020.4 1176,1022.5 1177,1024.5 1178,1026.5 1179,1028.4 1180,1030.3 1181,1032.1 1182,1033.8 1183,1035.5 1184,1037.1 1185,1038.7 1186,1040.3 1187,1041.8 1188,1043.2 1189,1044.7 1190,1046 1191,1047.3 1192,1048.5 1193,1049.6 1194,1050.6 1195,1051.6 1196,1052.4 1197,1053.3 1198,1054 1199,1054.7 1200,1055.4 1201,1055.9 1202,1056.5 1203,1057 1204,1057.5 1205,1057.9 1206,1058.3 1207,1058.7 1208,1059 1209,1059.4 1210,1059.7 1211,1060 1212,1060.2 1213,1060.4 1214,1060.5 1215,1060.6 1216,1060.6 1217,1060.5 1218,1060.5 1219,1060.4 1220,1060.3 1221,1060.3 1222,1060.2 1223,1060.2 1224,1060.2 1225,1060.3 1226,1060.6 1227,1060.9 1228,1061.2 1229,1061.5 1230,1061.6 1231,1061.6 1232,1061.6 1233,1061.6 1234,1061.5 1235,1061.4 1236,1061.3 1237,1061.2 1238,1061.1 1239,1061 1240,1061 1241,1060.9 1242,1060.9 1243,1060.8 1244,1060.8 1245,1060.7 1246,1060.7 1247,1060.6 1248,1060.6" fill="none" stroke="#000000" stroke-width="9.3" stroke-linejoin="round"/>
<text transform="translate(1109.7,789.8) scale(1,1.04)" font-family="'Liberation Sans', Arial, sans-serif" font-size="38" text-anchor="middle" fill="#000000">n = 14</text>
<path d="M986.9 756.9h1.7v331h-1.7zM986.9 756.9h273.9v1.7h-273.9zM1258.2 756.9h2.7v331h-2.7zM986.9 1085.2h273.9v2.7h-273.9z" fill="#1e1e1e"/>
</g>
<g>
<path d="M1281.6 1013.7H1548.5M1281.6 917.9H1548.5M1281.6 822.1H1548.5M1290.9 759.9V1083.9M1346.1 759.9V1083.9M1401.3 759.9V1083.9M1456.5 759.9V1083.9M1511.7 759.9V1083.9" stroke="#EBEBEB" stroke-width="1.5" fill="none"/>
<path d="M1281.6 1061.6H1548.5M1281.6 965.8H1548.5M1281.6 870H1548.5M1281.6 774.2H1548.5M1318.5 759.9V1083.9M1373.7 759.9V1083.9M1428.9 759.9V1083.9M1484.1 759.9V1083.9M1539.3 759.9V1083.9" stroke="#EBEBEB" stroke-width="2.9" fill="none"/>
<rect x="1374.3" y="779.5" width="32.1" height="281.3" fill="rgba(211,211,211,0.5)"/>
<rect x="1412.4" y="779.5" width="33.1" height="281.3" fill="rgba(248,203,173,0.5)"/>
<rect x="1445.5" y="779.5" width="44.2" height="281.3" fill="rgba(193,220,238,0.5)"/>
<polygon points="1290.5,1060.6 1292,1060.1 1293.5,1059.6 1295,1059.1 1296.5,1058.5 1298,1057.9 1299.5,1057.2 1301,1056.5 1302.5,1055.8 1304,1055 1305.5,1054.2 1307,1053.4 1308.5,1052.6 1310,1051.7 1311.5,1050.8 1313,1049.9 1314.5,1049 1315.4,1048.5 1316,1048 1317.5,1046.7 1319,1045.2 1320.5,1043.6 1322,1042.2 1323.5,1041.2 1325.1,1040.8 1325.3,1040.8 1326.6,1041.1 1328.1,1042.4 1329.6,1044.2 1331.1,1046.2 1332.6,1048.1 1334.1,1049.6 1334.1,1049.6 1335.6,1050.7 1337.1,1051.8 1338.6,1052.9 1340.1,1053.8 1341.6,1054.6 1343.1,1055 1344,1055.1 1344.6,1055 1346.1,1054.6 1347.6,1053.8 1349.1,1052.8 1350.6,1051.5 1352.1,1050.2 1352.8,1049.6 1353.6,1048.8 1355.1,1047 1356.6,1045 1358.1,1042.6 1359.6,1040.1 1360.5,1038.5 1361.1,1037.5 1362.7,1034.7 1364.2,1031.7 1365.7,1028.3 1367.2,1024.3 1368.2,1020.9 1368.7,1019.4 1370.2,1012.7 1371.7,1004.2 1373.2,994.2 1373.8,990.1 1374.7,982.4 1376.2,967.3 1377.7,950.9 1378.2,946 1379.2,934.8 1380.7,918.4 1381.5,910.7 1382.2,903.6 1383.7,890.3 1384.3,886.5 1385.2,882.2 1386.7,876 1388.1,873.7 1388.2,873.7 1389.7,876.5 1391.2,881.6 1391.4,882.1 1392.7,888.4 1394.2,897.2 1394.7,899.7 1395.7,905.6 1397.2,914.3 1398.7,922.3 1399.1,924 1400.3,929.3 1401.8,935.7 1403.3,940.9 1403.5,941.6 1404.8,944.8 1406.3,948 1407.8,950.3 1407.9,950.4 1409.3,951.7 1410.8,952.5 1411.2,952.6 1412.3,951.9 1413.8,948.9 1415.3,945 1416.7,941.6 1416.8,941.4 1418.3,938.3 1419.8,935.2 1421.3,932.1 1422.8,929.3 1423.3,928.4 1424.3,926.7 1425.8,924.3 1427.3,922.2 1428.8,920.7 1428.8,920.7 1430.3,919.6 1431.8,918.8 1433.3,918.4 1433.3,918.5 1434.8,920.1 1436.3,923.3 1437.7,926.2 1437.9,926.5 1439.4,929.5 1440.9,932.7 1442.4,935.7 1443.2,937.2 1443.9,938.4 1445.4,940.9 1446.9,943.3 1448.4,945.6 1448.7,946 1449.9,947.7 1451.4,949.7 1452.9,951.8 1454.2,953.7 1454.4,954 1455.9,956.5 1457.4,959.2 1458.9,962.1 1459.7,963.6 1460.4,965.1 1461.9,968.4 1463.4,971.8 1464.9,975.5 1466.3,979 1466.4,979.4 1467.9,983.6 1469.4,988 1470.9,992.7 1472.4,997.4 1472.9,998.9 1474,1002.2 1475.5,1007.2 1477,1012.1 1478.4,1016.5 1478.5,1016.6 1480,1020.6 1481.5,1024.4 1483,1027.8 1483.9,1029.7 1484.5,1030.8 1486,1033.6 1487.5,1036.1 1489,1038.1 1489.4,1038.5 1490.5,1039.5 1492,1040.5 1493.5,1041.4 1495,1042.3 1496.1,1043 1496.5,1043.3 1498,1044.4 1499.5,1045.6 1501,1046.6 1502.5,1047.3 1502.7,1047.4 1504,1047.6 1505.5,1047.8 1507,1048 1508.5,1048.3 1509.3,1048.5 1510,1048.9 1511.6,1050.3 1513.1,1052.2 1514.6,1053.8 1514.8,1054 1516.1,1054.9 1517.6,1056 1519.1,1056.8 1520.3,1057.3 1520.6,1057.3 1522.1,1057.7 1523.6,1058 1525.1,1058.2 1526.6,1058.3 1528,1058.4 1528.1,1058.4 1529.6,1058.2 1531.1,1057.6 1532.6,1057 1534.1,1056.3 1535.6,1055.9 1536.8,1055.7 1537.1,1055.8 1538.6,1056.7 1540.1,1058.4 1540.1,1062.3 1538.6,1062.3 1537.1,1062.3 1535.6,1062.3 1534.1,1062.3 1532.6,1062.3 1531.1,1062.3 1529.6,1062.3 1528.1,1062.3 1526.6,1062.3 1525.1,1062.3 1523.6,1062.3 1522.1,1062.3 1520.6,1062.3 1519.1,1062.3 1517.6,1062.3 1516.1,1062.3 1514.6,1062.3 1513.1,1062.3 1511.6,1062.3 1510,1062.3 1508.5,1062.3 1507,1062.3 1505.5,1062.3 1504,1062.3 1502.5,1062.3 1501,1062.3 1499.5,1062.3 1498,1062.3 1496.5,1062.3 1496.1,1062.3 1495,1062.3 1493.5,1062.2 1492,1061.9 1490.5,1061.6 1489,1061.1 1487.5,1060.7 1487.2,1060.6 1486,1060 1484.5,1058.8 1483,1057.4 1481.5,1055.9 1480.6,1055.1 1480,1054.4 1478.5,1052.8 1477,1051 1475.5,1049.2 1474,1047.4 1474,1047.3 1472.4,1045.3 1470.9,1043.2 1469.4,1041.1 1467.9,1039.2 1467.4,1038.5 1466.4,1037.5 1464.9,1036 1463.4,1034.6 1461.9,1033.1 1460.8,1031.9 1460.4,1031.5 1458.9,1029.6 1457.4,1027.6 1455.9,1025.5 1454.4,1023.4 1454.2,1023.1 1452.9,1021.5 1451.4,1019.6 1449.9,1017.7 1448.4,1015.6 1447.6,1014.3 1446.9,1013.1 1445.4,1010.3 1443.9,1007.2 1442.4,1003.9 1442.1,1003.3 1440.9,1000.4 1439.4,996.4 1437.9,992.6 1436.6,990.1 1436.3,989.7 1434.8,987.2 1433.3,985.2 1432.2,984.6 1431.8,984.6 1430.3,985.4 1428.8,986.7 1427.3,987.7 1426.6,987.9 1425.8,987.9 1424.3,987.9 1422.8,987.9 1421.3,987.9 1420,987.9 1419.8,987.9 1418.3,987.6 1416.8,987.2 1415.3,986.5 1413.8,985.8 1413.4,985.7 1412.3,985.1 1410.8,984.1 1409.3,982.8 1407.9,981.3 1407.8,981.1 1406.3,976.9 1404.8,973.6 1404.6,973.5 1403.3,974.3 1401.8,976.2 1401.3,976.8 1400.3,978.5 1398.7,981.6 1397.2,984.9 1396.9,985.7 1395.7,988 1394.2,991 1392.7,994 1391.4,996.7 1391.2,997 1389.7,1000 1388.2,1003 1386.7,1006 1385.9,1007.7 1385.2,1009 1383.7,1011.9 1382.2,1014.9 1380.7,1018 1380.4,1018.7 1379.2,1021.4 1377.7,1025 1376.2,1028.7 1374.9,1031.9 1374.7,1032.3 1373.2,1036.1 1371.7,1040 1370.2,1043.6 1368.7,1046.7 1368.2,1047.4 1367.2,1049 1365.7,1051.1 1364.2,1053 1362.7,1054.5 1361.1,1055.8 1360.5,1056.2 1359.6,1056.7 1358.1,1057.6 1356.6,1058.4 1355.1,1059.2 1353.6,1059.9 1352.1,1060.6 1350.6,1061.1 1349.1,1061.6 1347.6,1062 1346.1,1062.2 1344.6,1062.3 1344,1062.3 1343.1,1062.3 1341.6,1062.1 1340.1,1061.7 1338.6,1061.1 1337.1,1060.4 1335.6,1059.7 1334.1,1059 1332.6,1058.3 1331.1,1057.6 1329.6,1057 1328.1,1056.5 1326.6,1056.3 1325.3,1056.2 1325.1,1056.2 1323.5,1056.2 1322,1056.2 1320.5,1056.2 1319,1056.3 1317.5,1056.3 1316,1056.4 1314.5,1056.5 1313,1056.6 1311.5,1056.7 1310,1056.9 1308.5,1057.1 1307,1057.3 1305.5,1057.6 1304,1057.9 1302.5,1058.2 1301,1058.6 1299.5,1059.1 1298,1059.6 1296.5,1060.1 1295,1060.7 1293.5,1061.3 1292,1062 1290.5,1062.8" fill="#E69F00" fill-opacity="0.5" stroke="none"/>
<polyline points="1290.5,1060.6 1292,1060.1 1293.5,1059.6 1295,1059.1 1296.5,1058.5 1298,1057.9 1299.5,1057.2 1301,1056.5 1302.5,1055.8 1304,1055 1305.5,1054.2 1307,1053.4 1308.5,1052.6 1310,1051.7 1311.5,1050.8 1313,1049.9 1314.5,1049 1315.4,1048.5 1316,1048 1317.5,1046.7 1319,1045.2 1320.5,1043.6 1322,1042.2 1323.5,1041.2 1325.1,1040.8 1325.3,1040.8 1326.6,1041.1 1328.1,1042.4 1329.6,1044.2 1331.1,1046.2 1332.6,1048.1 1334.1,1049.6 1334.1,1049.6 1335.6,1050.7 1337.1,1051.8 1338.6,1052.9 1340.1,1053.8 1341.6,1054.6 1343.1,1055 1344,1055.1 1344.6,1055 1346.1,1054.6 1347.6,1053.8 1349.1,1052.8 1350.6,1051.5 1352.1,1050.2 1352.8,1049.6 1353.6,1048.8 1355.1,1047 1356.6,1045 1358.1,1042.6 1359.6,1040.1 1360.5,1038.5 1361.1,1037.5 1362.7,1034.7 1364.2,1031.7 1365.7,1028.3 1367.2,1024.3 1368.2,1020.9 1368.7,1019.4 1370.2,1012.7 1371.7,1004.2 1373.2,994.2 1373.8,990.1 1374.7,982.4 1376.2,967.3 1377.7,950.9 1378.2,946 1379.2,934.8 1380.7,918.4 1381.5,910.7 1382.2,903.6 1383.7,890.3 1384.3,886.5 1385.2,882.2 1386.7,876 1388.1,873.7 1388.2,873.7 1389.7,876.5 1391.2,881.6 1391.4,882.1 1392.7,888.4 1394.2,897.2 1394.7,899.7 1395.7,905.6 1397.2,914.3 1398.7,922.3 1399.1,924 1400.3,929.3 1401.8,935.7 1403.3,940.9 1403.5,941.6 1404.8,944.8 1406.3,948 1407.8,950.3 1407.9,950.4 1409.3,951.7 1410.8,952.5 1411.2,952.6 1412.3,951.9 1413.8,948.9 1415.3,945 1416.7,941.6 1416.8,941.4 1418.3,938.3 1419.8,935.2 1421.3,932.1 1422.8,929.3 1423.3,928.4 1424.3,926.7 1425.8,924.3 1427.3,922.2 1428.8,920.7 1428.8,920.7 1430.3,919.6 1431.8,918.8 1433.3,918.4 1433.3,918.5 1434.8,920.1 1436.3,923.3 1437.7,926.2 1437.9,926.5 1439.4,929.5 1440.9,932.7 1442.4,935.7 1443.2,937.2 1443.9,938.4 1445.4,940.9 1446.9,943.3 1448.4,945.6 1448.7,946 1449.9,947.7 1451.4,949.7 1452.9,951.8 1454.2,953.7 1454.4,954 1455.9,956.5 1457.4,959.2 1458.9,962.1 1459.7,963.6 1460.4,965.1 1461.9,968.4 1463.4,971.8 1464.9,975.5 1466.3,979 1466.4,979.4 1467.9,983.6 1469.4,988 1470.9,992.7 1472.4,997.4 1472.9,998.9 1474,1002.2 1475.5,1007.2 1477,1012.1 1478.4,1016.5 1478.5,1016.6 1480,1020.6 1481.5,1024.4 1483,1027.8 1483.9,1029.7 1484.5,1030.8 1486,1033.6 1487.5,1036.1 1489,1038.1 1489.4,1038.5 1490.5,1039.5 1492,1040.5 1493.5,1041.4 1495,1042.3 1496.1,1043 1496.5,1043.3 1498,1044.4 1499.5,1045.6 1501,1046.6 1502.5,1047.3 1502.7,1047.4 1504,1047.6 1505.5,1047.8 1507,1048 1508.5,1048.3 1509.3,1048.5 1510,1048.9 1511.6,1050.3 1513.1,1052.2 1514.6,1053.8 1514.8,1054 1516.1,1054.9 1517.6,1056 1519.1,1056.8 1520.3,1057.3 1520.6,1057.3 1522.1,1057.7 1523.6,1058 1525.1,1058.2 1526.6,1058.3 1528,1058.4 1528.1,1058.4 1529.6,1058.2 1531.1,1057.6 1532.6,1057 1534.1,1056.3 1535.6,1055.9 1536.8,1055.7 1537.1,1055.8 1538.6,1056.7 1540.1,1058.4" fill="none" stroke="#E69F00" stroke-width="2.9" stroke-linejoin="round"/>
<polyline points="1290.5,1062.8 1292,1062 1293.5,1061.3 1295,1060.7 1296.5,1060.1 1298,1059.6 1299.5,1059.1 1301,1058.6 1302.5,1058.2 1304,1057.9 1305.5,1057.6 1307,1057.3 1308.5,1057.1 1310,1056.9 1311.5,1056.7 1313,1056.6 1314.5,1056.5 1316,1056.4 1317.5,1056.3 1319,1056.3 1320.5,1056.2 1322,1056.2 1323.5,1056.2 1325.1,1056.2 1325.3,1056.2 1326.6,1056.3 1328.1,1056.5 1329.6,1057 1331.1,1057.6 1332.6,1058.3 1334.1,1059 1335.6,1059.7 1337.1,1060.4 1338.6,1061.1 1340.1,1061.7 1341.6,1062.1 1343.1,1062.3 1344,1062.3 1344.6,1062.3 1346.1,1062.2 1347.6,1062 1349.1,1061.6 1350.6,1061.1 1352.1,1060.6 1353.6,1059.9 1355.1,1059.2 1356.6,1058.4 1358.1,1057.6 1359.6,1056.7 1360.5,1056.2 1361.1,1055.8 1362.7,1054.5 1364.2,1053 1365.7,1051.1 1367.2,1049 1368.2,1047.4 1368.7,1046.7 1370.2,1043.6 1371.7,1040 1373.2,1036.1 1374.7,1032.3 1374.9,1031.9 1376.2,1028.7 1377.7,1025 1379.2,1021.4 1380.4,1018.7 1380.7,1018 1382.2,1014.9 1383.7,1011.9 1385.2,1009 1385.9,1007.7 1386.7,1006 1388.2,1003 1389.7,1000 1391.2,997 1391.4,996.7 1392.7,994 1394.2,991 1395.7,988 1396.9,985.7 1397.2,984.9 1398.7,981.6 1400.3,978.5 1401.3,976.8 1401.8,976.2 1403.3,974.3 1404.6,973.5 1404.8,973.6 1406.3,976.9 1407.8,981.1 1407.9,981.3 1409.3,982.8 1410.8,984.1 1412.3,985.1 1413.4,985.7 1413.8,985.8 1415.3,986.5 1416.8,987.2 1418.3,987.6 1419.8,987.9 1420,987.9 1421.3,987.9 1422.8,987.9 1424.3,987.9 1425.8,987.9 1426.6,987.9 1427.3,987.7 1428.8,986.7 1430.3,985.4 1431.8,984.6 1432.2,984.6 1433.3,985.2 1434.8,987.2 1436.3,989.7 1436.6,990.1 1437.9,992.6 1439.4,996.4 1440.9,1000.4 1442.1,1003.3 1442.4,1003.9 1443.9,1007.2 1445.4,1010.3 1446.9,1013.1 1447.6,1014.3 1448.4,1015.6 1449.9,1017.7 1451.4,1019.6 1452.9,1021.5 1454.2,1023.1 1454.4,1023.4 1455.9,1025.5 1457.4,1027.6 1458.9,1029.6 1460.4,1031.5 1460.8,1031.9 1461.9,1033.1 1463.4,1034.6 1464.9,1036 1466.4,1037.5 1467.4,1038.5 1467.9,1039.2 1469.4,1041.1 1470.9,1043.2 1472.4,1045.3 1474,1047.3 1474,1047.4 1475.5,1049.2 1477,1051 1478.5,1052.8 1480,1054.4 1480.6,1055.1 1481.5,1055.9 1483,1057.4 1484.5,1058.8 1486,1060 1487.2,1060.6 1487.5,1060.7 1489,1061.1 1490.5,1061.6 1492,1061.9 1493.5,1062.2 1495,1062.3 1496.1,1062.3 1496.5,1062.3 1498,1062.3 1499.5,1062.3 1501,1062.3 1502.5,1062.3 1504,1062.3 1505.5,1062.3 1507,1062.3 1508.5,1062.3 1510,1062.3 1511.6,1062.3 1513.1,1062.3 1514.6,1062.3 1516.1,1062.3 1517.6,1062.3 1519.1,1062.3 1520.6,1062.3 1522.1,1062.3 1523.6,1062.3 1525.1,1062.3 1526.6,1062.3 1528.1,1062.3 1529.6,1062.3 1531.1,1062.3 1532.6,1062.3 1534.1,1062.3 1535.6,1062.3 1537.1,1062.3 1538.6,1062.3 1540.1,1062.3" fill="none" stroke="#E69F00" stroke-width="2.9" stroke-linejoin="round"/>
<polyline points="1290.5,1061.7 1291.5,1061.7 1292.5,1061.6 1293.5,1061.6 1294.5,1061.5 1295.5,1061.4 1296.5,1061.3 1297.5,1061.1 1298.5,1061 1299.5,1060.8 1300.5,1060.7 1301.5,1060.5 1302.5,1060.3 1303.5,1060.1 1304.5,1059.8 1305.5,1059.4 1306.5,1059 1307.5,1058.4 1308.5,1057.9 1309.5,1057.3 1310.5,1056.7 1311.5,1056.1 1312.5,1055.5 1313.5,1054.9 1314.5,1054.4 1315.5,1053.9 1316.5,1053.4 1317.5,1052.9 1318.5,1052.4 1319.5,1051.8 1320.5,1051.3 1321.5,1050.9 1322.5,1050.4 1323.5,1050.1 1324.6,1049.8 1325.6,1049.7 1326.6,1049.7 1327.6,1049.9 1328.6,1050.3 1329.6,1051 1330.6,1051.7 1331.6,1052.5 1332.6,1053.3 1333.6,1054.1 1334.6,1054.7 1335.6,1055.2 1336.6,1055.7 1337.6,1056.1 1338.6,1056.6 1339.6,1056.9 1340.6,1057.3 1341.6,1057.6 1342.6,1057.8 1343.6,1057.9 1344.6,1057.8 1345.6,1057.7 1346.6,1057.4 1347.6,1057 1348.6,1056.5 1349.6,1056 1350.6,1055.4 1351.6,1054.7 1352.6,1054.1 1353.6,1053.3 1354.6,1052.4 1355.6,1051.4 1356.6,1050.3 1357.6,1049 1358.6,1047.7 1359.6,1046.4 1360.6,1045 1361.6,1043.6 1362.7,1042.1 1363.7,1040.6 1364.7,1038.9 1365.7,1037.1 1366.7,1035.2 1367.7,1033.1 1368.7,1030.7 1369.7,1028 1370.7,1025 1371.7,1021.6 1372.7,1018.1 1373.7,1014.5 1374.7,1010.8 1375.7,1006.9 1376.7,1002.8 1377.7,998.6 1378.7,994.3 1379.7,990 1380.7,985.5 1381.7,980.8 1382.7,976.1 1383.7,971.1 1384.7,966 1385.7,961 1386.7,956.1 1387.7,951.4 1388.7,947.1 1389.7,943.6 1390.7,941.1 1391.7,939.4 1392.7,938.1 1393.7,937.3 1394.7,937.2 1395.7,937.8 1396.7,939.1 1397.7,941 1398.7,943.2 1399.8,945.6 1400.8,948.5 1401.8,951.4 1402.8,954 1403.8,956 1404.8,957.5 1405.8,958.6 1406.8,959.6 1407.8,960.4 1408.8,961.2 1409.8,962 1410.8,962.8 1411.8,963.5 1412.8,964.1 1413.8,964.5 1414.8,964.6 1415.8,964.5 1416.8,964.1 1417.8,963.6 1418.8,963 1419.8,962.3 1420.8,961.6 1421.8,960.6 1422.8,959.4 1423.8,958 1424.8,956.6 1425.8,955.6 1426.8,954.9 1427.8,954.5 1428.8,954.2 1429.8,954 1430.8,953.8 1431.8,953.8 1432.8,954 1433.8,954.6 1434.8,955.5 1435.8,956.7 1436.9,958.1 1437.9,959.8 1438.9,962.1 1439.9,964.9 1440.9,967.9 1441.9,971 1442.9,973.7 1443.9,975.9 1444.9,977.8 1445.9,979.5 1446.9,981.1 1447.9,982.6 1448.9,984.2 1449.9,985.9 1450.9,987.6 1451.9,989.5 1452.9,991.3 1453.9,993.2 1454.9,995 1455.9,996.9 1456.9,998.7 1457.9,1000.5 1458.9,1002.3 1459.9,1004.1 1460.9,1005.9 1461.9,1007.8 1462.9,1009.8 1463.9,1012 1464.9,1014.2 1465.9,1016.6 1466.9,1019 1467.9,1021.4 1468.9,1023.8 1469.9,1026 1470.9,1028.2 1471.9,1030.3 1472.9,1032.4 1474,1034.4 1475,1036.3 1476,1038 1477,1039.6 1478,1041.1 1479,1042.5 1480,1043.9 1481,1045.1 1482,1046.3 1483,1047.5 1484,1048.7 1485,1049.8 1486,1050.9 1487,1051.9 1488,1052.8 1489,1053.6 1490,1054.3 1491,1054.9 1492,1055.4 1493,1055.9 1494,1056.4 1495,1056.8 1496,1057.3 1497,1057.7 1498,1058.1 1499,1058.6 1500,1059 1501,1059.4 1502,1059.7 1503,1060 1504,1060.2 1505,1060.3 1506,1060.5 1507,1060.6 1508,1060.7 1509,1060.8 1510,1060.9 1511.1,1061 1512.1,1061 1513.1,1061 1514.1,1061 1515.1,1061 1516.1,1061 1517.1,1061 1518.1,1061 1519.1,1061 1520.1,1061 1521.1,1061 1522.1,1061 1523.1,1061 1524.1,1061 1525.1,1061 1526.1,1061 1527.1,1061 1528.1,1061 1529.1,1061 1530.1,1060.9 1531.1,1060.9 1532.1,1060.8 1533.1,1060.7 1534.1,1060.7 1535.1,1060.6 1536.1,1060.5 1537.1,1060.4 1538.1,1060.3 1539.1,1060.2 1540.1,1060.2" fill="none" stroke="#000000" stroke-width="9.3" stroke-linejoin="round"/>
<text transform="translate(1401.3,789.8) scale(1,1.04)" font-family="'Liberation Sans', Arial, sans-serif" font-size="38" text-anchor="middle" fill="#000000">n = 8</text>
<path d="M1278.6 756.9h1.7v331h-1.7zM1278.6 756.9h273.9v1.7h-273.9zM1549.8 756.9h2.7v331h-2.7zM1278.6 1085.2h273.9v2.7h-273.9z" fill="#1e1e1e"/>
</g>
<g>
<path d="M1573.3 1013.7H1840.2M1573.3 917.9H1840.2M1573.3 822.1H1840.2M1582.6 759.9V1083.9M1637.8 759.9V1083.9M1693 759.9V1083.9M1748.2 759.9V1083.9M1803.4 759.9V1083.9" stroke="#EBEBEB" stroke-width="1.5" fill="none"/>
<path d="M1573.3 1061.6H1840.2M1573.3 965.8H1840.2M1573.3 870H1840.2M1573.3 774.2H1840.2M1610.2 759.9V1083.9M1665.4 759.9V1083.9M1720.6 759.9V1083.9M1775.8 759.9V1083.9M1831 759.9V1083.9" stroke="#EBEBEB" stroke-width="2.9" fill="none"/>
<rect x="1666" y="779.5" width="32.1" height="281.3" fill="rgba(211,211,211,0.5)"/>
<rect x="1704" y="779.5" width="33.1" height="281.3" fill="rgba(248,203,173,0.5)"/>
<rect x="1737.2" y="779.5" width="44.2" height="281.3" fill="rgba(193,220,238,0.5)"/>
<polygon points="1582,1060.1 1583.5,1059.8 1585,1059.5 1586.5,1059.1 1588,1058.7 1589.6,1058.2 1591.1,1057.8 1592.6,1057.2 1594.1,1056.7 1595.6,1056.2 1597.1,1055.6 1598.6,1055 1600.1,1054.4 1601.6,1053.8 1603.1,1053.1 1604.6,1052.5 1606.1,1051.8 1606.3,1051.8 1607.6,1051 1609.1,1050 1610.6,1048.9 1612.2,1047.8 1613.7,1046.9 1615.2,1046.4 1616.2,1046.3 1616.7,1046.3 1618.2,1046.7 1619.7,1047.6 1621.2,1048.7 1622.7,1049.8 1623.9,1050.7 1624.2,1050.9 1625.7,1052.3 1627.2,1053.9 1628.7,1054.9 1629.4,1055.1 1630.2,1055.1 1631.7,1055.1 1633.2,1055.1 1634.8,1055.1 1636.3,1055.1 1637.1,1055.1 1637.8,1055 1639.3,1054.5 1640.8,1053.7 1642.3,1052.6 1643.8,1051.4 1644.8,1050.7 1645.3,1050.3 1646.8,1049.2 1648.3,1047.9 1649.8,1046.4 1651.3,1044.6 1652.5,1043 1652.8,1042.5 1654.3,1039.6 1655.8,1035.9 1657.4,1031.5 1658.9,1026.4 1659.1,1025.3 1660.4,1020.3 1661.9,1012.5 1663.4,1003.3 1664.7,994.5 1664.9,992.7 1666.4,979 1667.9,962.8 1669.1,950.4 1669.4,946.8 1670.9,930.3 1672.4,915.1 1672.4,914.6 1673.9,900.8 1675.4,888.3 1675.7,886.5 1676.9,876.7 1678.4,866.8 1679,864.5 1680,861 1681.5,857.9 1681.6,857.9 1683,862.2 1684.5,871 1684.5,871.1 1686,879 1687.5,887.2 1687.8,888.7 1689,894.6 1690.5,901.5 1691.1,904.1 1692,908.1 1693.5,914.5 1695,920.2 1695.5,921.8 1696.5,924.8 1698,928.9 1699.5,932.4 1701,935 1701,935 1702.6,937.2 1704.1,939.2 1705.6,940.7 1707.1,941.5 1707.6,941.6 1708.6,941.6 1710.1,941.6 1711.6,941.6 1713.1,941.6 1713.1,941.6 1714.6,940.7 1716.1,938.5 1717.6,936.1 1718.6,935 1719.1,934.6 1720.6,933.3 1722.1,932.3 1723.6,931.7 1724.2,931.7 1725.2,932 1726.7,933.4 1728.2,935.5 1728.6,936.1 1729.7,938.7 1731.2,944.2 1732.7,949.6 1733,950.4 1734.2,953.7 1735.7,957.5 1737.2,961 1738.5,963.6 1738.7,964.1 1740.2,966.8 1741.7,969.2 1743.2,971.5 1744.7,974 1745.1,974.6 1746.2,976.8 1747.8,979.7 1749.3,982.7 1750.8,985.9 1751.7,987.9 1752.3,989.1 1753.8,992.6 1755.3,996.3 1756.8,999.9 1758.3,1003.3 1758.3,1003.3 1759.8,1006.5 1761.3,1009.6 1762.8,1012.6 1764.3,1015.4 1764.9,1016.5 1765.8,1018.2 1767.3,1020.9 1768.8,1023.4 1770.4,1025.8 1771.5,1027.5 1771.9,1028 1773.4,1030 1774.9,1031.9 1776.4,1033.6 1777.9,1035 1778.1,1035.2 1779.4,1036.2 1780.9,1037.3 1782.4,1038.2 1783.9,1039.1 1784.8,1039.6 1785.4,1040.1 1786.9,1041.1 1788.4,1042 1789.9,1043 1791.4,1044.1 1791.4,1044.1 1793,1045.3 1794.5,1046.5 1796,1047.8 1797.5,1049.1 1798,1049.6 1799,1050.6 1800.5,1052.4 1802,1054.2 1803.5,1055.6 1804.6,1056.2 1805,1056.3 1806.5,1056.8 1808,1057.3 1809.5,1057.6 1811,1057.9 1812.5,1058.2 1814,1058.3 1815.6,1058.4 1815.6,1058.4 1817.1,1058.3 1818.6,1058 1820.1,1057.6 1821.6,1057.1 1823.1,1056.7 1824.6,1056.4 1826.1,1056.2 1826.6,1056.2 1827.6,1056.3 1829.1,1056.8 1830.6,1057.5 1832.1,1058.4 1832.1,1061.9 1830.6,1061.9 1829.1,1061.9 1827.6,1061.9 1826.1,1061.9 1824.6,1061.9 1823.1,1061.9 1821.6,1061.9 1820.1,1061.9 1818.6,1061.8 1817.1,1061.8 1815.6,1061.8 1814,1061.8 1812.5,1061.8 1811,1061.7 1809.5,1061.7 1808,1061.7 1806.5,1061.7 1805,1061.6 1803.5,1061.6 1802,1061.5 1800.5,1061.5 1799,1061.5 1797.5,1061.4 1796,1061.4 1794.5,1061.3 1793,1061.2 1791.4,1061.2 1789.9,1061.1 1788.4,1061 1788.1,1061 1786.9,1060.9 1785.4,1060.5 1783.9,1059.9 1782.4,1059.2 1780.9,1058.6 1780.3,1058.4 1779.4,1058 1777.9,1057.5 1776.4,1056.9 1774.9,1056.3 1773.4,1055.5 1772.6,1055.1 1771.9,1054.6 1770.4,1053.3 1768.8,1051.7 1767.3,1050 1766,1048.5 1765.8,1048.2 1764.3,1046.2 1762.8,1044 1761.3,1041.6 1759.8,1039.2 1759.4,1038.5 1758.3,1036.8 1756.8,1034.3 1755.3,1031.7 1753.8,1029.2 1752.8,1027.5 1752.3,1026.6 1750.8,1023.7 1749.3,1020.7 1747.8,1018.1 1746.2,1016.5 1746.2,1016.5 1744.7,1015.9 1743.2,1015.5 1741.7,1015.1 1740.2,1014.6 1739.6,1014.3 1738.7,1013.6 1737.2,1011.5 1735.7,1008.7 1734.2,1005.7 1733,1003.3 1732.7,1002.8 1731.2,999.5 1729.7,996.1 1728.2,993.2 1727.5,992.3 1726.7,991.4 1725.2,989.7 1723.6,988.4 1722.1,987.9 1721.9,987.9 1720.6,988.1 1719.1,988.7 1717.6,989.5 1716.4,990.1 1716.1,990.2 1714.6,991 1713.1,991.7 1711.6,992.2 1710.9,992.3 1710.1,992.2 1708.6,991.8 1707.1,991 1705.6,990 1704.3,989 1704.1,988.7 1702.6,986.5 1701,983 1699.5,978.9 1698.8,976.8 1698,974.3 1696.5,968.3 1695,961.8 1694.4,959.2 1693.5,955.3 1692,948.7 1691.1,946 1690.5,944.8 1689,942.4 1687.8,941.6 1687.5,941.7 1686,944.4 1684.5,949.4 1683,954.9 1682.3,957 1681.5,959.3 1680,963.3 1678.4,967.4 1676.9,971.9 1676.8,972.4 1675.4,977.2 1673.9,983.1 1672.4,989.5 1671.3,994.5 1670.9,996 1669.4,1003.4 1667.9,1011.1 1666.4,1018.3 1665.8,1020.9 1664.9,1024.3 1663.4,1030.1 1661.9,1035.3 1660.4,1039.9 1659.1,1043 1658.9,1043.6 1657.4,1046.8 1655.8,1049.6 1654.3,1052 1652.8,1053.7 1652.5,1054 1651.3,1054.9 1649.8,1055.8 1648.3,1056.6 1646.8,1057.3 1645.3,1057.8 1644.8,1057.9 1643.8,1058.2 1642.3,1058.6 1640.8,1059 1639.3,1059.3 1637.8,1059.7 1636.3,1059.9 1634.8,1060.2 1633.2,1060.4 1631.7,1060.5 1630.2,1060.6 1629.4,1060.6 1628.7,1060.5 1627.2,1060.2 1625.7,1059.5 1624.2,1058.7 1622.7,1057.8 1621.2,1056.9 1619.7,1056 1618.2,1055.4 1616.7,1055.1 1616.2,1055.1 1615.2,1055.1 1613.7,1055.1 1612.2,1055.1 1610.6,1055.1 1609.1,1055.1 1607.6,1055.2 1606.1,1055.2 1604.6,1055.3 1603.1,1055.5 1601.6,1055.6 1600.1,1055.8 1598.6,1056 1597.1,1056.3 1595.6,1056.6 1594.1,1056.9 1592.6,1057.3 1591.1,1057.8 1589.6,1058.3 1588,1058.9 1586.5,1059.5 1585,1060.3 1583.5,1061 1582,1061.9" fill="#E69F00" fill-opacity="0.5" stroke="none"/>
<polyline points="1582,1060.1 1583.5,1059.8 1585,1059.5 1586.5,1059.1 1588,1058.7 1589.6,1058.2 1591.1,1057.8 1592.6,1057.2 1594.1,1056.7 1595.6,1056.2 1597.1,1055.6 1598.6,1055 1600.1,1054.4 1601.6,1053.8 1603.1,1053.1 1604.6,1052.5 1606.1,1051.8 1606.3,1051.8 1607.6,1051 1609.1,1050 1610.6,1048.9 1612.2,1047.8 1613.7,1046.9 1615.2,1046.4 1616.2,1046.3 1616.7,1046.3 1618.2,1046.7 1619.7,1047.6 1621.2,1048.7 1622.7,1049.8 1623.9,1050.7 1624.2,1050.9 1625.7,1052.3 1627.2,1053.9 1628.7,1054.9 1629.4,1055.1 1630.2,1055.1 1631.7,1055.1 1633.2,1055.1 1634.8,1055.1 1636.3,1055.1 1637.1,1055.1 1637.8,1055 1639.3,1054.5 1640.8,1053.7 1642.3,1052.6 1643.8,1051.4 1644.8,1050.7 1645.3,1050.3 1646.8,1049.2 1648.3,1047.9 1649.8,1046.4 1651.3,1044.6 1652.5,1043 1652.8,1042.5 1654.3,1039.6 1655.8,1035.9 1657.4,1031.5 1658.9,1026.4 1659.1,1025.3 1660.4,1020.3 1661.9,1012.5 1663.4,1003.3 1664.7,994.5 1664.9,992.7 1666.4,979 1667.9,962.8 1669.1,950.4 1669.4,946.8 1670.9,930.3 1672.4,915.1 1672.4,914.6 1673.9,900.8 1675.4,888.3 1675.7,886.5 1676.9,876.7 1678.4,866.8 1679,864.5 1680,861 1681.5,857.9 1681.6,857.9 1683,862.2 1684.5,871 1684.5,871.1 1686,879 1687.5,887.2 1687.8,888.7 1689,894.6 1690.5,901.5 1691.1,904.1 1692,908.1 1693.5,914.5 1695,920.2 1695.5,921.8 1696.5,924.8 1698,928.9 1699.5,932.4 1701,935 1701,935 1702.6,937.2 1704.1,939.2 1705.6,940.7 1707.1,941.5 1707.6,941.6 1708.6,941.6 1710.1,941.6 1711.6,941.6 1713.1,941.6 1713.1,941.6 1714.6,940.7 1716.1,938.5 1717.6,936.1 1718.6,935 1719.1,934.6 1720.6,933.3 1722.1,932.3 1723.6,931.7 1724.2,931.7 1725.2,932 1726.7,933.4 1728.2,935.5 1728.6,936.1 1729.7,938.7 1731.2,944.2 1732.7,949.6 1733,950.4 1734.2,953.7 1735.7,957.5 1737.2,961 1738.5,963.6 1738.7,964.1 1740.2,966.8 1741.7,969.2 1743.2,971.5 1744.7,974 1745.1,974.6 1746.2,976.8 1747.8,979.7 1749.3,982.7 1750.8,985.9 1751.7,987.9 1752.3,989.1 1753.8,992.6 1755.3,996.3 1756.8,999.9 1758.3,1003.3 1758.3,1003.3 1759.8,1006.5 1761.3,1009.6 1762.8,1012.6 1764.3,1015.4 1764.9,1016.5 1765.8,1018.2 1767.3,1020.9 1768.8,1023.4 1770.4,1025.8 1771.5,1027.5 1771.9,1028 1773.4,1030 1774.9,1031.9 1776.4,1033.6 1777.9,1035 1778.1,1035.2 1779.4,1036.2 1780.9,1037.3 1782.4,1038.2 1783.9,1039.1 1784.8,1039.6 1785.4,1040.1 1786.9,1041.1 1788.4,1042 1789.9,1043 1791.4,1044.1 1791.4,1044.1 1793,1045.3 1794.5,1046.5 1796,1047.8 1797.5,1049.1 1798,1049.6 1799,1050.6 1800.5,1052.4 1802,1054.2 1803.5,1055.6 1804.6,1056.2 1805,1056.3 1806.5,1056.8 1808,1057.3 1809.5,1057.6 1811,1057.9 1812.5,1058.2 1814,1058.3 1815.6,1058.4 1815.6,1058.4 1817.1,1058.3 1818.6,1058 1820.1,1057.6 1821.6,1057.1 1823.1,1056.7 1824.6,1056.4 1826.1,1056.2 1826.6,1056.2 1827.6,1056.3 1829.1,1056.8 1830.6,1057.5 1832.1,1058.4" fill="none" stroke="#E69F00" stroke-width="2.9" stroke-linejoin="round"/>
<polyline points="1582,1061.9 1583.5,1061 1585,1060.3 1586.5,1059.5 1588,1058.9 1589.6,1058.3 1591.1,1057.8 1592.6,1057.3 1594.1,1056.9 1595.6,1056.6 1597.1,1056.3 1598.6,1056 1600.1,1055.8 1601.6,1055.6 1603.1,1055.5 1604.6,1055.3 1606.1,1055.2 1607.6,1055.2 1609.1,1055.1 1610.6,1055.1 1612.2,1055.1 1613.7,1055.1 1615.2,1055.1 1616.2,1055.1 1616.7,1055.1 1618.2,1055.4 1619.7,1056 1621.2,1056.9 1622.7,1057.8 1624.2,1058.7 1625.7,1059.5 1627.2,1060.2 1628.7,1060.5 1629.4,1060.6 1630.2,1060.6 1631.7,1060.5 1633.2,1060.4 1634.8,1060.2 1636.3,1059.9 1637.8,1059.7 1639.3,1059.3 1640.8,1059 1642.3,1058.6 1643.8,1058.2 1644.8,1057.9 1645.3,1057.8 1646.8,1057.3 1648.3,1056.6 1649.8,1055.8 1651.3,1054.9 1652.5,1054 1652.8,1053.7 1654.3,1052 1655.8,1049.6 1657.4,1046.8 1658.9,1043.6 1659.1,1043 1660.4,1039.9 1661.9,1035.3 1663.4,1030.1 1664.9,1024.3 1665.8,1020.9 1666.4,1018.3 1667.9,1011.1 1669.4,1003.4 1670.9,996 1671.3,994.5 1672.4,989.5 1673.9,983.1 1675.4,977.2 1676.8,972.4 1676.9,971.9 1678.4,967.4 1680,963.3 1681.5,959.3 1682.3,957 1683,954.9 1684.5,949.4 1686,944.4 1687.5,941.7 1687.8,941.6 1689,942.4 1690.5,944.8 1691.1,946 1692,948.7 1693.5,955.3 1694.4,959.2 1695,961.8 1696.5,968.3 1698,974.3 1698.8,976.8 1699.5,978.9 1701,983 1702.6,986.5 1704.1,988.7 1704.3,989 1705.6,990 1707.1,991 1708.6,991.8 1710.1,992.2 1710.9,992.3 1711.6,992.2 1713.1,991.7 1714.6,991 1716.1,990.2 1716.4,990.1 1717.6,989.5 1719.1,988.7 1720.6,988.1 1721.9,987.9 1722.1,987.9 1723.6,988.4 1725.2,989.7 1726.7,991.4 1727.5,992.3 1728.2,993.2 1729.7,996.1 1731.2,999.5 1732.7,1002.8 1733,1003.3 1734.2,1005.7 1735.7,1008.7 1737.2,1011.5 1738.7,1013.6 1739.6,1014.3 1740.2,1014.6 1741.7,1015.1 1743.2,1015.5 1744.7,1015.9 1746.2,1016.5 1746.2,1016.5 1747.8,1018.1 1749.3,1020.7 1750.8,1023.7 1752.3,1026.6 1752.8,1027.5 1753.8,1029.2 1755.3,1031.7 1756.8,1034.3 1758.3,1036.8 1759.4,1038.5 1759.8,1039.2 1761.3,1041.6 1762.8,1044 1764.3,1046.2 1765.8,1048.2 1766,1048.5 1767.3,1050 1768.8,1051.7 1770.4,1053.3 1771.9,1054.6 1772.6,1055.1 1773.4,1055.5 1774.9,1056.3 1776.4,1056.9 1777.9,1057.5 1779.4,1058 1780.3,1058.4 1780.9,1058.6 1782.4,1059.2 1783.9,1059.9 1785.4,1060.5 1786.9,1060.9 1788.1,1061 1788.4,1061 1789.9,1061.1 1791.4,1061.2 1793,1061.2 1794.5,1061.3 1796,1061.4 1797.5,1061.4 1799,1061.5 1800.5,1061.5 1802,1061.5 1803.5,1061.6 1805,1061.6 1806.5,1061.7 1808,1061.7 1809.5,1061.7 1811,1061.7 1812.5,1061.8 1814,1061.8 1815.6,1061.8 1817.1,1061.8 1818.6,1061.8 1820.1,1061.9 1821.6,1061.9 1823.1,1061.9 1824.6,1061.9 1826.1,1061.9 1827.6,1061.9 1829.1,1061.9 1830.6,1061.9 1832.1,1061.9" fill="none" stroke="#E69F00" stroke-width="2.9" stroke-linejoin="round"/>
<polyline points="1582,1061 1583,1061 1584,1061 1585,1060.9 1586,1060.8 1587,1060.7 1588,1060.6 1589,1060.5 1590,1060.4 1591,1060.2 1592,1060.1 1593,1059.9 1594,1059.7 1595,1059.5 1596,1059.2 1597,1058.9 1598,1058.5 1599,1058 1600,1057.4 1601,1056.8 1602,1056.2 1603,1055.6 1604,1055.1 1605,1054.6 1606,1054.1 1607,1053.6 1608,1053.2 1609,1052.8 1610,1052.3 1611,1051.9 1612,1051.5 1613,1051.2 1614,1051 1615,1050.8 1616,1050.7 1617,1050.8 1618,1051 1619,1051.4 1620,1051.9 1621,1052.4 1622,1053 1623,1053.5 1624,1054.1 1625,1054.8 1626,1055.5 1627,1056.2 1628,1056.8 1629,1057.1 1630,1057.2 1631,1057.3 1632,1057.3 1633,1057.3 1634,1057.3 1635,1057.3 1636,1057.3 1637,1057.2 1638,1057.1 1639,1056.9 1640,1056.6 1641,1056.1 1642,1055.6 1643,1055 1644,1054.4 1645,1053.8 1646,1053.2 1647,1052.5 1648,1051.8 1649,1050.9 1650,1050 1651,1049 1652,1047.9 1653,1046.6 1654,1045.2 1655.1,1043.5 1656.1,1041.6 1657.1,1039.4 1658.1,1036.9 1659.1,1034.1 1660.1,1030.7 1661.1,1026.6 1662.1,1021.9 1663.1,1016.6 1664.1,1011 1665.1,1005 1666.1,998.6 1667.1,991.6 1668.1,984.3 1669.1,976.7 1670.1,968.9 1671.1,960.9 1672.1,952.8 1673.1,944.8 1674.1,937.1 1675.1,929.4 1676.1,922.2 1677.1,915.7 1678.1,910.3 1679.1,905.7 1680.1,901.7 1681.1,898.5 1682.1,896.1 1683.1,894.3 1684.1,893.2 1685.1,892.7 1686.1,893.5 1687.1,896.1 1688.1,900.4 1689.1,906.2 1690.1,913.6 1691.1,921.6 1692.1,928.5 1693.1,933.5 1694.1,937.1 1695.1,939.9 1696.1,942.5 1697.1,944.8 1698.1,947.1 1699.1,949.2 1700.1,951.2 1701.1,953 1702.1,954.7 1703.1,956.4 1704.1,958.1 1705.1,959.6 1706.1,961.1 1707.1,962.3 1708.1,963.1 1709.1,963.7 1710.1,964 1711.1,964.3 1712.1,964.5 1713.1,964.6 1714.1,964.6 1715.1,964.3 1716.1,963.7 1717.1,962.8 1718.1,961.8 1719.1,960.9 1720.1,960.2 1721.1,959.6 1722.1,959.1 1723.1,958.7 1724.1,958.4 1725.1,958.5 1726.1,959.4 1727.1,961.2 1728.1,963.7 1729.1,966.4 1730.1,969 1731.1,971.5 1732.1,974 1733.1,976.5 1734.1,978.8 1735.1,981 1736.1,982.9 1737.1,984.7 1738.1,986.5 1739.1,988.1 1740.1,989.7 1741.1,991.2 1742.1,992.7 1743.1,994.2 1744.1,995.6 1745.1,997 1746.1,998.4 1747.1,999.8 1748.1,1001.2 1749.1,1002.7 1750.1,1004.3 1751.1,1005.9 1752.1,1007.6 1753.1,1009.3 1754.1,1011.1 1755.1,1012.8 1756.1,1014.6 1757.1,1016.3 1758.1,1018.1 1759.1,1019.8 1760.1,1021.6 1761.1,1023.4 1762.1,1025.1 1763.1,1026.8 1764.1,1028.4 1765.1,1030 1766.1,1031.4 1767.1,1032.8 1768.1,1034.1 1769.1,1035.4 1770.1,1036.7 1771.1,1037.9 1772.1,1039 1773.1,1040.2 1774.1,1041.3 1775.1,1042.3 1776.1,1043.4 1777.1,1044.4 1778.1,1045.3 1779.1,1046.3 1780.1,1047.1 1781.1,1048 1782.1,1048.8 1783.1,1049.5 1784.1,1050.2 1785.1,1050.9 1786.1,1051.6 1787.1,1052.3 1788.1,1052.9 1789.1,1053.5 1790.1,1054.1 1791.1,1054.7 1792.1,1055.3 1793.1,1055.8 1794.1,1056.4 1795.1,1056.9 1796.1,1057.5 1797.1,1058.1 1798.1,1058.7 1799.1,1059.3 1800.1,1059.9 1801.1,1060.4 1802.1,1060.7 1803.1,1060.9 1804.1,1061 1805.1,1061 1806.1,1061 1807.1,1061 1808.1,1060.9 1809.1,1060.9 1810.1,1060.9 1811.1,1060.8 1812.1,1060.8 1813.1,1060.7 1814.1,1060.7 1815.1,1060.6 1816.1,1060.5 1817.1,1060.4 1818.1,1060.2 1819.1,1059.9 1820.1,1059.7 1821.1,1059.4 1822.1,1059.1 1823.1,1058.9 1824.1,1058.7 1825.1,1058.5 1826.1,1058.4 1827.1,1058.5 1828.1,1058.7 1829.1,1059 1830.1,1059.5 1831.1,1060 1832.1,1060.4" fill="none" stroke="#000000" stroke-width="9.3" stroke-linejoin="round"/>
<text transform="translate(1693,789.8) scale(1,1.04)" font-family="'Liberation Sans', Arial, sans-serif" font-size="38" text-anchor="middle" fill="#000000">n = 15</text>
<path d="M1570.3 756.9h1.7v331h-1.7zM1570.3 756.9h273.9v1.7h-273.9zM1841.5 756.9h2.7v331h-2.7zM1570.3 1085.2h273.9v2.7h-273.9z" fill="#1e1e1e"/>
</g>
<rect x="111.9" y="2.1" width="272.9" height="57.9" fill="#D9D9D9"/><path d="M111.9 2.1h1.7v58.9h-1.7zM111.9 2.1h273.9v1.7h-273.9zM383.2 2.1h2.7v58.9h-2.7zM111.9 58.3h273.9v2.7h-273.9z" fill="#1e1e1e"/>
<text transform="translate(248.4,42.9) scale(1,1.04)" font-family="'Liberation Sans', Arial, sans-serif" font-size="30.4" text-anchor="middle" fill="#1A1A1A">T0</text>
<rect x="403.6" y="2.1" width="272.9" height="57.9" fill="#D9D9D9"/><path d="M403.6 2.1h1.7v58.9h-1.7zM403.6 2.1h273.9v1.7h-273.9zM674.8 2.1h2.7v58.9h-2.7zM403.6 58.3h273.9v2.7h-273.9z" fill="#1e1e1e"/>
<text transform="translate(540,42.9) scale(1,1.04)" font-family="'Liberation Sans', Arial, sans-serif" font-size="30.4" text-anchor="middle" fill="#1A1A1A">T2</text>
<rect x="695.2" y="2.1" width="272.9" height="57.9" fill="#D9D9D9"/><path d="M695.2 2.1h1.7v58.9h-1.7zM695.2 2.1h273.9v1.7h-273.9zM966.5 2.1h2.7v58.9h-2.7zM695.2 58.3h273.9v2.7h-273.9z" fill="#1e1e1e"/>
<text transform="translate(831.7,42.9) scale(1,1.04)" font-family="'Liberation Sans', Arial, sans-serif" font-size="30.4" text-anchor="middle" fill="#1A1A1A">T4</text>
<rect x="986.9" y="2.1" width="272.9" height="57.9" fill="#D9D9D9"/><path d="M986.9 2.1h1.7v58.9h-1.7zM986.9 2.1h273.9v1.7h-273.9zM1258.2 2.1h2.7v58.9h-2.7zM986.9 58.3h273.9v2.7h-273.9z" fill="#1e1e1e"/>
<text transform="translate(1123.4,42.9) scale(1,1.04)" font-family="'Liberation Sans', Arial, sans-serif" font-size="30.4" text-anchor="middle" fill="#1A1A1A">T24</text>
<rect x="1278.6" y="2.1" width="272.9" height="57.9" fill="#D9D9D9"/><path d="M1278.6 2.1h1.7v58.9h-1.7zM1278.6 2.1h273.9v1.7h-273.9zM1549.8 2.1h2.7v58.9h-2.7zM1278.6 58.3h273.9v2.7h-273.9z" fill="#1e1e1e"/>
<text transform="translate(1415.1,42.9) scale(1,1.04)" font-family="'Liberation Sans', Arial, sans-serif" font-size="30.4" text-anchor="middle" fill="#1A1A1A">T48</text>
<rect x="1570.3" y="2.1" width="272.9" height="57.9" fill="#D9D9D9"/><path d="M1570.3 2.1h1.7v58.9h-1.7zM1570.3 2.1h273.9v1.7h-273.9zM1841.5 2.1h2.7v58.9h-2.7zM1570.3 58.3h273.9v2.7h-273.9z" fill="#1e1e1e"/>
<text transform="translate(1706.7,42.9) scale(1,1.04)" font-family="'Liberation Sans', Arial, sans-serif" font-size="30.4" text-anchor="middle" fill="#1A1A1A">Tfu</text>
<rect x="1843.2" y="60" width="57.8" height="330" fill="#D9D9D9"/><path d="M1843.2 60h1.7v331h-1.7zM1843.2 60h58.8v1.7h-58.8zM1899.3 60h2.7v331h-2.7zM1843.2 388.3h58.8v2.7h-58.8z" fill="#1e1e1e"/>
<text transform="translate(1860,225) rotate(90) scale(1,1.04)" font-family="'Liberation Sans', Arial, sans-serif" font-size="30.4" text-anchor="middle" fill="#1A1A1A">cCAD</text>
<rect x="1843.2" y="408.5" width="57.8" height="330" fill="#D9D9D9"/><path d="M1843.2 408.5h1.7v331h-1.7zM1843.2 408.5h58.8v1.7h-58.8zM1899.3 408.5h2.7v331h-2.7zM1843.2 736.8h58.8v2.7h-58.8z" fill="#1e1e1e"/>
<text transform="translate(1860,573.5) rotate(90) scale(1,1.04)" font-family="'Liberation Sans', Arial, sans-serif" font-size="30.4" text-anchor="middle" fill="#1A1A1A">TMI</text>
<rect x="1843.2" y="756.9" width="57.8" height="330" fill="#D9D9D9"/><path d="M1843.2 756.9h1.7v331h-1.7zM1843.2 756.9h58.8v1.7h-58.8zM1899.3 756.9h2.7v331h-2.7zM1843.2 1085.2h58.8v2.7h-58.8z" fill="#1e1e1e"/>
<text transform="translate(1860,921.9) rotate(90) scale(1,1.04)" font-family="'Liberation Sans', Arial, sans-serif" font-size="30.4" text-anchor="middle" fill="#1A1A1A">nTMi</text>
<text transform="translate(95.6,376.8) scale(1,1.04)" font-family="'Liberation Sans', Arial, sans-serif" font-size="30.4" text-anchor="end" fill="#4D4D4D">0.0</text>
<text transform="translate(95.6,281) scale(1,1.04)" font-family="'Liberation Sans', Arial, sans-serif" font-size="30.4" text-anchor="end" fill="#4D4D4D">0.2</text>
<text transform="translate(95.6,185.2) scale(1,1.04)" font-family="'Liberation Sans', Arial, sans-serif" font-size="30.4" text-anchor="end" fill="#4D4D4D">0.4</text>
<text transform="translate(95.6,89.4) scale(1,1.04)" font-family="'Liberation Sans', Arial, sans-serif" font-size="30.4" text-anchor="end" fill="#4D4D4D">0.6</text>
<path d="M102.8 364.7H111.9M102.8 268.9H111.9M102.8 173.1H111.9M102.8 77.3H111.9" stroke="#333333" stroke-width="2.6" fill="none"/>
<text transform="translate(95.6,725.3) scale(1,1.04)" font-family="'Liberation Sans', Arial, sans-serif" font-size="30.4" text-anchor="end" fill="#4D4D4D">0.0</text>
<text transform="translate(95.6,629.5) scale(1,1.04)" font-family="'Liberation Sans', Arial, sans-serif" font-size="30.4" text-anchor="end" fill="#4D4D4D">0.2</text>
<text transform="translate(95.6,533.7) scale(1,1.04)" font-family="'Liberation Sans', Arial, sans-serif" font-size="30.4" text-anchor="end" fill="#4D4D4D">0.4</text>
<text transform="translate(95.6,437.9) scale(1,1.04)" font-family="'Liberation Sans', Arial, sans-serif" font-size="30.4" text-anchor="end" fill="#4D4D4D">0.6</text>
<path d="M102.8 713.2H111.9M102.8 617.4H111.9M102.8 521.6H111.9M102.8 425.8H111.9" stroke="#333333" stroke-width="2.6" fill="none"/>
<text transform="translate(95.6,1073.7) scale(1,1.04)" font-family="'Liberation Sans', Arial, sans-serif" font-size="30.4" text-anchor="end" fill="#4D4D4D">0.0</text>
<text transform="translate(95.6,977.9) scale(1,1.04)" font-family="'Liberation Sans', Arial, sans-serif" font-size="30.4" text-anchor="end" fill="#4D4D4D">0.2</text>
<text transform="translate(95.6,882.1) scale(1,1.04)" font-family="'Liberation Sans', Arial, sans-serif" font-size="30.4" text-anchor="end" fill="#4D4D4D">0.4</text>
<text transform="translate(95.6,786.3) scale(1,1.04)" font-family="'Liberation Sans', Arial, sans-serif" font-size="30.4" text-anchor="end" fill="#4D4D4D">0.6</text>
<path d="M102.8 1061.6H111.9M102.8 965.8H111.9M102.8 870H111.9M102.8 774.2H111.9" stroke="#333333" stroke-width="2.6" fill="none"/>
<text transform="translate(151.8,1127) scale(1,1.04)" font-family="'Liberation Sans', Arial, sans-serif" font-size="30.4" text-anchor="middle" fill="#4D4D4D">50</text>
<text transform="translate(207.1,1127) scale(1,1.04)" font-family="'Liberation Sans', Arial, sans-serif" font-size="30.4" text-anchor="middle" fill="#4D4D4D">60</text>
<text transform="translate(262.2,1127) scale(1,1.04)" font-family="'Liberation Sans', Arial, sans-serif" font-size="30.4" text-anchor="middle" fill="#4D4D4D">70</text>
<text transform="translate(317.4,1127) scale(1,1.04)" font-family="'Liberation Sans', Arial, sans-serif" font-size="30.4" text-anchor="middle" fill="#4D4D4D">80</text>
<text transform="translate(372.6,1127) scale(1,1.04)" font-family="'Liberation Sans', Arial, sans-serif" font-size="30.4" text-anchor="middle" fill="#4D4D4D">90</text>
<path d="M151.8 1086.9V1095.7M207.1 1086.9V1095.7M262.2 1086.9V1095.7M317.4 1086.9V1095.7M372.6 1086.9V1095.7" stroke="#333333" stroke-width="2.6" fill="none"/>
<text transform="translate(443.5,1127) scale(1,1.04)" font-family="'Liberation Sans', Arial, sans-serif" font-size="30.4" text-anchor="middle" fill="#4D4D4D">50</text>
<text transform="translate(498.7,1127) scale(1,1.04)" font-family="'Liberation Sans', Arial, sans-serif" font-size="30.4" text-anchor="middle" fill="#4D4D4D">60</text>
<text transform="translate(553.9,1127) scale(1,1.04)" font-family="'Liberation Sans', Arial, sans-serif" font-size="30.4" text-anchor="middle" fill="#4D4D4D">70</text>
<text transform="translate(609.1,1127) scale(1,1.04)" font-family="'Liberation Sans', Arial, sans-serif" font-size="30.4" text-anchor="middle" fill="#4D4D4D">80</text>
<text transform="translate(664.3,1127) scale(1,1.04)" font-family="'Liberation Sans', Arial, sans-serif" font-size="30.4" text-anchor="middle" fill="#4D4D4D">90</text>
<path d="M443.5 1086.9V1095.7M498.7 1086.9V1095.7M553.9 1086.9V1095.7M609.1 1086.9V1095.7M664.3 1086.9V1095.7" stroke="#333333" stroke-width="2.6" fill="none"/>
<text transform="translate(735.2,1127) scale(1,1.04)" font-family="'Liberation Sans', Arial, sans-serif" font-size="30.4" text-anchor="middle" fill="#4D4D4D">50</text>
<text transform="translate(790.4,1127) scale(1,1.04)" font-family="'Liberation Sans', Arial, sans-serif" font-size="30.4" text-anchor="middle" fill="#4D4D4D">60</text>
<text transform="translate(845.6,1127) scale(1,1.04)" font-family="'Liberation Sans', Arial, sans-serif" font-size="30.4" text-anchor="middle" fill="#4D4D4D">70</text>
<text transform="translate(900.8,1127) scale(1,1.04)" font-family="'Liberation Sans', Arial, sans-serif" font-size="30.4" text-anchor="middle" fill="#4D4D4D">80</text>
<text transform="translate(956,1127) scale(1,1.04)" font-family="'Liberation Sans', Arial, sans-serif" font-size="30.4" text-anchor="middle" fill="#4D4D4D">90</text>
<path d="M735.2 1086.9V1095.7M790.4 1086.9V1095.7M845.6 1086.9V1095.7M900.8 1086.9V1095.7M956 1086.9V1095.7" stroke="#333333" stroke-width="2.6" fill="none"/>
<text transform="translate(1026.9,1127) scale(1,1.04)" font-family="'Liberation Sans', Arial, sans-serif" font-size="30.4" text-anchor="middle" fill="#4D4D4D">50</text>
<text transform="translate(1082.1,1127) scale(1,1.04)" font-family="'Liberation Sans', Arial, sans-serif" font-size="30.4" text-anchor="middle" fill="#4D4D4D">60</text>
<text transform="translate(1137.3,1127) scale(1,1.04)" font-family="'Liberation Sans', Arial, sans-serif" font-size="30.4" text-anchor="middle" fill="#4D4D4D">70</text>
<text transform="translate(1192.5,1127) scale(1,1.04)" font-family="'Liberation Sans', Arial, sans-serif" font-size="30.4" text-anchor="middle" fill="#4D4D4D">80</text>
<text transform="translate(1247.7,1127) scale(1,1.04)" font-family="'Liberation Sans', Arial, sans-serif" font-size="30.4" text-anchor="middle" fill="#4D4D4D">90</text>
<path d="M1026.9 1086.9V1095.7M1082.1 1086.9V1095.7M1137.3 1086.9V1095.7M1192.5 1086.9V1095.7M1247.7 1086.9V1095.7" stroke="#333333" stroke-width="2.6" fill="none"/>
<text transform="translate(1318.5,1127) scale(1,1.04)" font-family="'Liberation Sans', Arial, sans-serif" font-size="30.4" text-anchor="middle" fill="#4D4D4D">50</text>
<text transform="translate(1373.7,1127) scale(1,1.04)" font-family="'Liberation Sans', Arial, sans-serif" font-size="30.4" text-anchor="middle" fill="#4D4D4D">60</text>
<text transform="translate(1428.9,1127) scale(1,1.04)" font-family="'Liberation Sans', Arial, sans-serif" font-size="30.4" text-anchor="middle" fill="#4D4D4D">70</text>
<text transform="translate(1484.1,1127) scale(1,1.04)" font-family="'Liberation Sans', Arial, sans-serif" font-size="30.4" text-anchor="middle" fill="#4D4D4D">80</text>
<text transform="translate(1539.3,1127) scale(1,1.04)" font-family="'Liberation Sans', Arial, sans-serif" font-size="30.4" text-anchor="middle" fill="#4D4D4D">90</text>
<path d="M1318.5 1086.9V1095.7M1373.7 1086.9V1095.7M1428.9 1086.9V1095.7M1484.1 1086.9V1095.7M1539.3 1086.9V1095.7" stroke="#333333" stroke-width="2.6" fill="none"/>
<text transform="translate(1610.2,1127) scale(1,1.04)" font-family="'Liberation Sans', Arial, sans-serif" font-size="30.4" text-anchor="middle" fill="#4D4D4D">50</text>
<text transform="translate(1665.4,1127) scale(1,1.04)" font-family="'Liberation Sans', Arial, sans-serif" font-size="30.4" text-anchor="middle" fill="#4D4D4D">60</text>
<text transform="translate(1720.6,1127) scale(1,1.04)" font-family="'Liberation Sans', Arial, sans-serif" font-size="30.4" text-anchor="middle" fill="#4D4D4D">70</text>
<text transform="translate(1775.8,1127) scale(1,1.04)" font-family="'Liberation Sans', Arial, sans-serif" font-size="30.4" text-anchor="middle" fill="#4D4D4D">80</text>
<text transform="translate(1831,1127) scale(1,1.04)" font-family="'Liberation Sans', Arial, sans-serif" font-size="30.4" text-anchor="middle" fill="#4D4D4D">90</text>
<path d="M1610.2 1086.9V1095.7M1665.4 1086.9V1095.7M1720.6 1086.9V1095.7M1775.8 1086.9V1095.7M1831 1086.9V1095.7" stroke="#333333" stroke-width="2.6" fill="none"/>
<text x="977.7" y="1169.8" font-family="'Liberation Sans', Arial, sans-serif" font-size="38" text-anchor="middle" fill="#000000">Temperature (°C)</text>
<g transform="translate(30.7,0) rotate(-90)" font-family="'Liberation Sans', Arial, sans-serif" font-size="37.3" fill="#000000">
<text y="0"><tspan x="-287.6" text-anchor="end">Excess Specific Heat Capacity (cal/°C</tspan><tspan x="-275.7" text-anchor="middle"> · </tspan><tspan x="-264.4" text-anchor="start">g)</tspan></text>
</g>
</svg>
</body>
</html>
